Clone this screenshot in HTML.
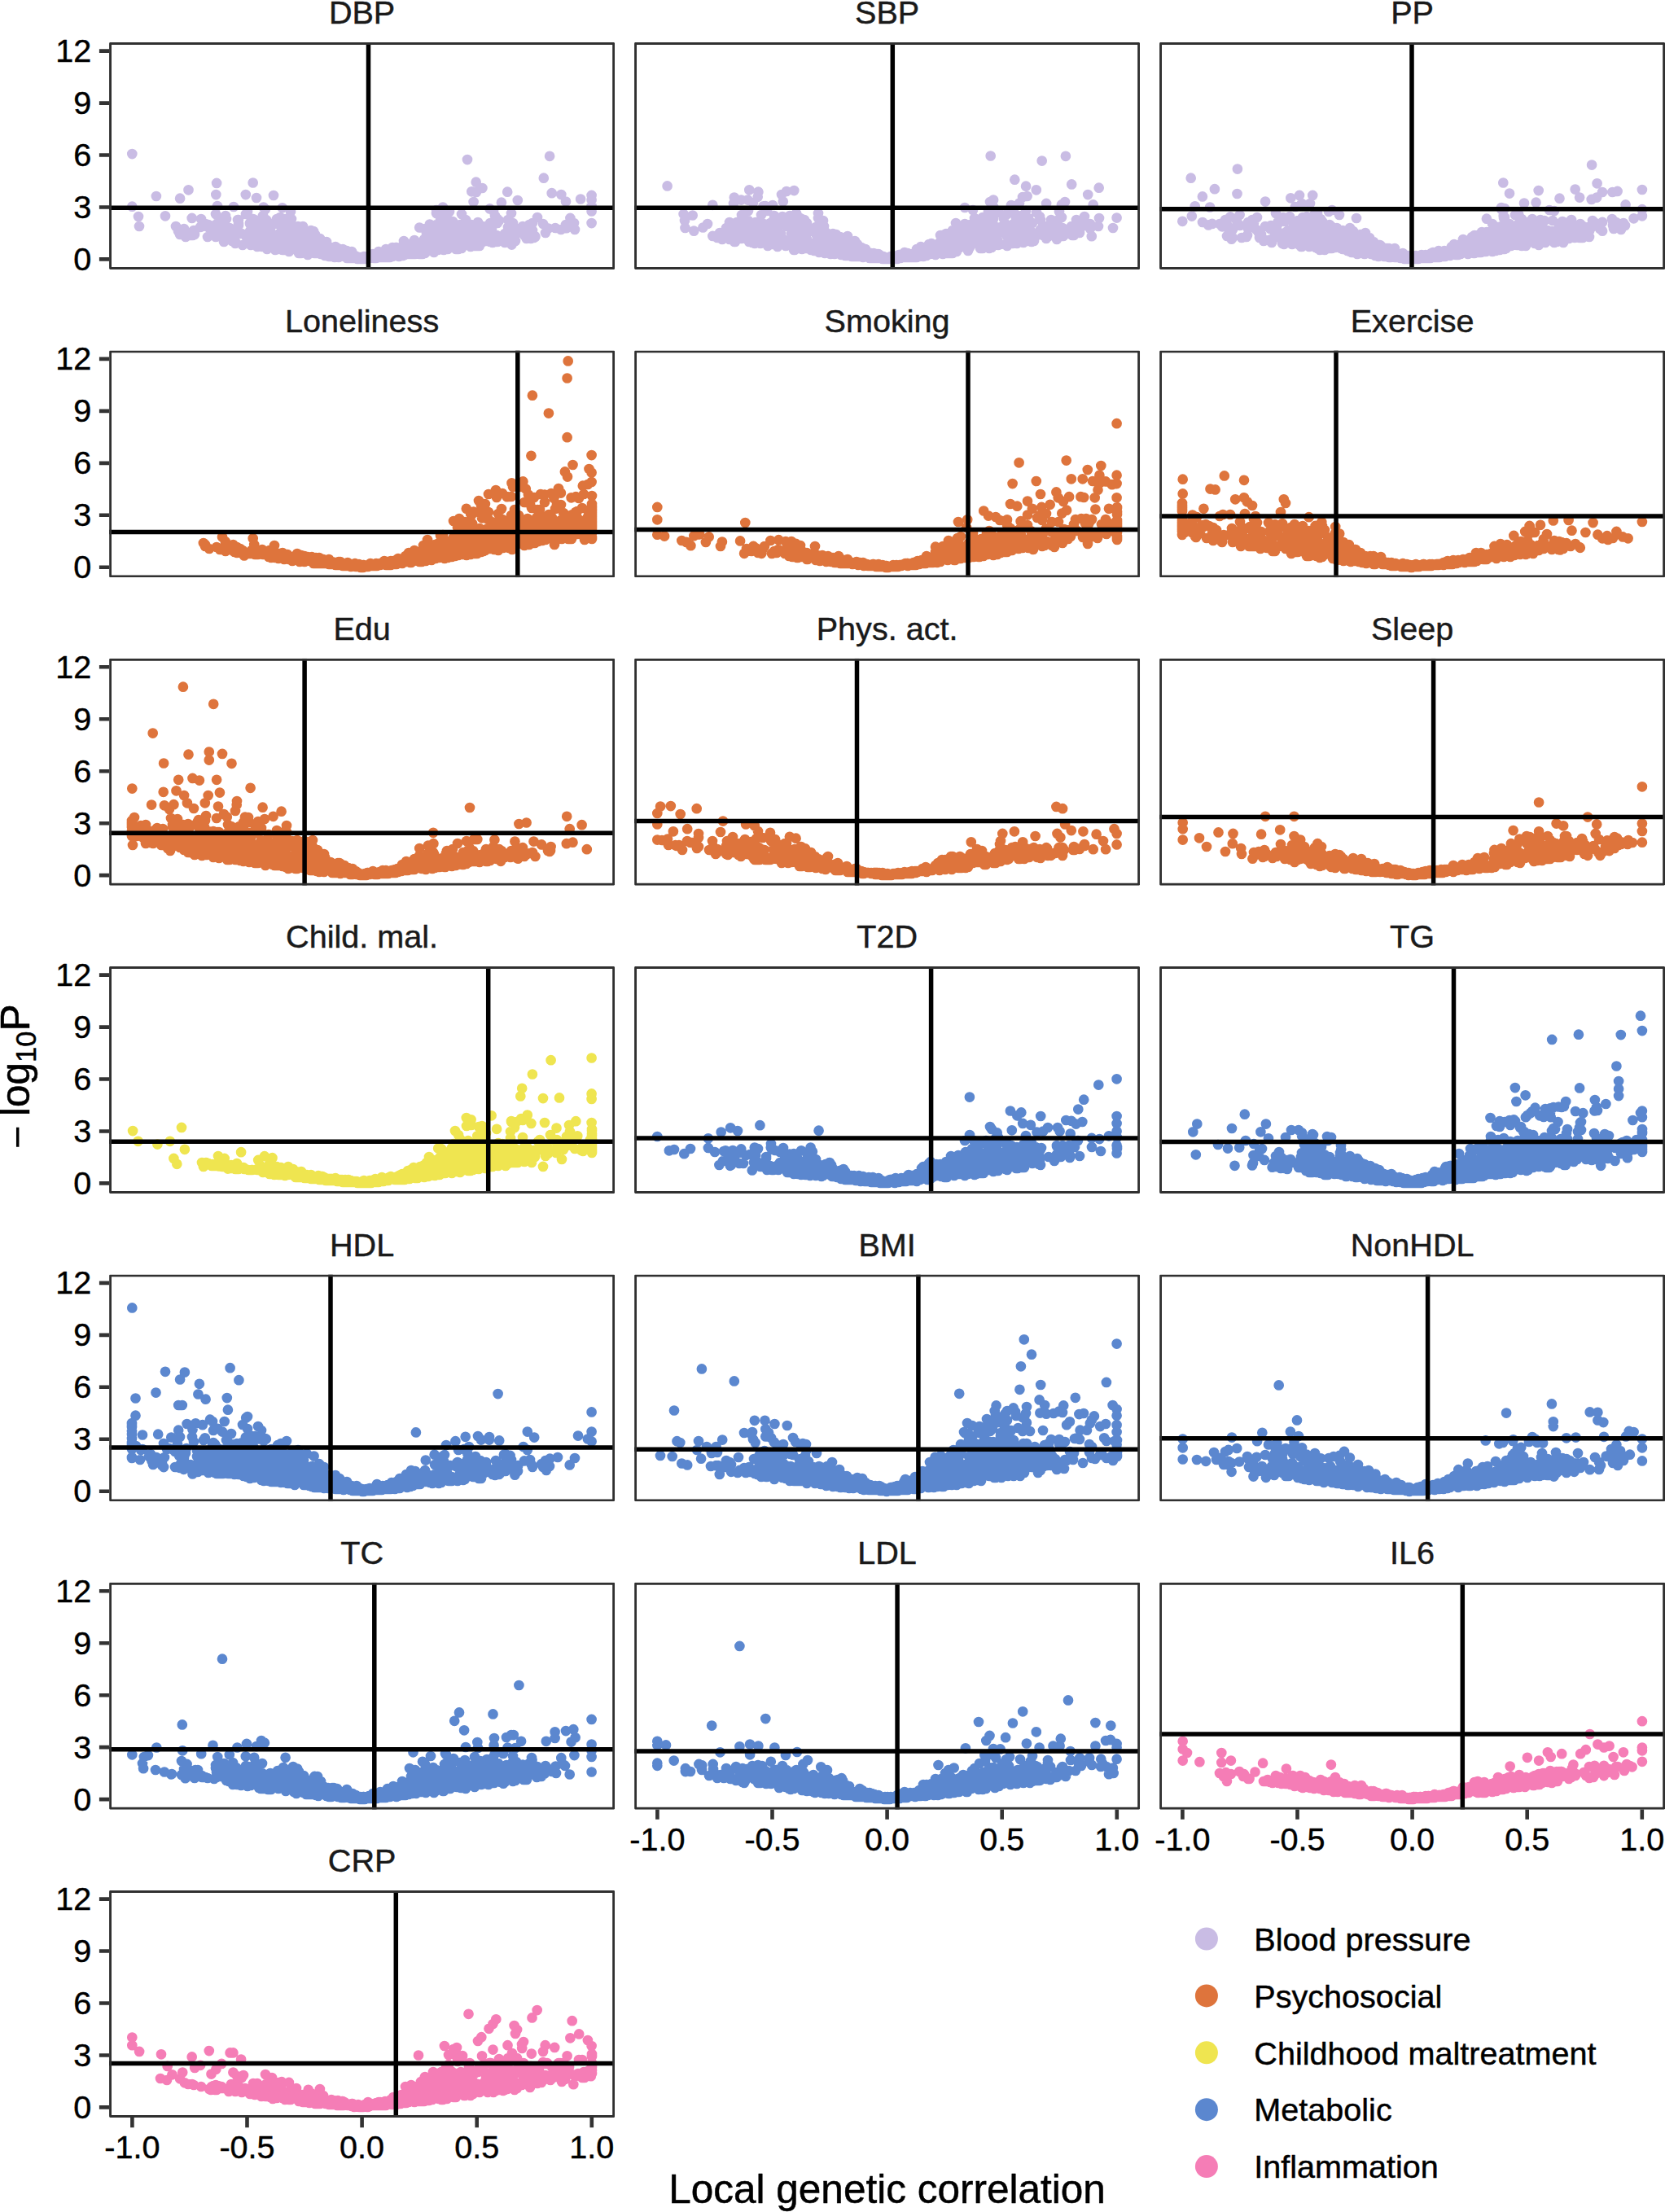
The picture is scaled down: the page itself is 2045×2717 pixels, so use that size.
<!DOCTYPE html>
<html><head><meta charset="utf-8"><title>Local genetic correlation</title><style>html,body{margin:0;padding:0;background:#fff}svg{display:block}</style></head><body>
<svg width="2045" height="2717" viewBox="0 0 2045 2717" font-family="'Liberation Sans', Arial, sans-serif" stroke-linejoin="round">
<rect width="2045" height="2717" fill="#fff"/>
<defs>
<clipPath id="c0"><rect x="134.1" y="52.1" width="621.0" height="278.9"/></clipPath>
<clipPath id="c1"><rect x="779.1" y="52.1" width="621.0" height="278.9"/></clipPath>
<clipPath id="c2"><rect x="1424.1" y="52.1" width="621.0" height="278.9"/></clipPath>
<clipPath id="c3"><rect x="134.1" y="430.4" width="621.0" height="278.9"/></clipPath>
<clipPath id="c4"><rect x="779.1" y="430.4" width="621.0" height="278.9"/></clipPath>
<clipPath id="c5"><rect x="1424.1" y="430.4" width="621.0" height="278.9"/></clipPath>
<clipPath id="c6"><rect x="134.1" y="808.8" width="621.0" height="278.9"/></clipPath>
<clipPath id="c7"><rect x="779.1" y="808.8" width="621.0" height="278.9"/></clipPath>
<clipPath id="c8"><rect x="1424.1" y="808.8" width="621.0" height="278.9"/></clipPath>
<clipPath id="c9"><rect x="134.1" y="1187.1" width="621.0" height="278.9"/></clipPath>
<clipPath id="c10"><rect x="779.1" y="1187.1" width="621.0" height="278.9"/></clipPath>
<clipPath id="c11"><rect x="1424.1" y="1187.1" width="621.0" height="278.9"/></clipPath>
<clipPath id="c12"><rect x="134.1" y="1565.4" width="621.0" height="278.9"/></clipPath>
<clipPath id="c13"><rect x="779.1" y="1565.4" width="621.0" height="278.9"/></clipPath>
<clipPath id="c14"><rect x="1424.1" y="1565.4" width="621.0" height="278.9"/></clipPath>
<clipPath id="c15"><rect x="134.1" y="1943.8" width="621.0" height="278.9"/></clipPath>
<clipPath id="c16"><rect x="779.1" y="1943.8" width="621.0" height="278.9"/></clipPath>
<clipPath id="c17"><rect x="1424.1" y="1943.8" width="621.0" height="278.9"/></clipPath>
<clipPath id="c18"><rect x="134.1" y="2322.1" width="621.0" height="278.9"/></clipPath>
</defs>
<g clip-path="url(#c0)">
<path d="M563 279h0M477 313h0M377 289h0M263 288h0M644 289h0M477 310h0M545 286h0M598 289h0M508 310h0M340 299h0M656 292h0M376 294h0M488 311h0M472 314h0M478 312h0M457 315h0M695 276h0M447 318h0M537 280h0M444 317h0M705 274h0M651 288h0M412 305h0M389 310h0M575 299h0M548 296h0M509 309h0M417 310h0M411 306h0M315 243h0M487 304h0M289 284h0M372 308h0M497 304h0M228 291h0M563 287h0M283 293h0M454 315h0M461 313h0M355 309h0M626 287h0M395 312h0M448 317h0M577 299h0M497 312h0M410 314h0M297 287h0M626 284h0M475 314h0M472 313h0M477 308h0M323 265h0M465 314h0M466 314h0M472 311h0M338 307h0M515 305h0M281 281h0M390 301h0M302 263h0M529 295h0M447 315h0M436 314h0M284 290h0M428 310h0M354 273h0M382 299h0M413 313h0M514 310h0M543 287h0M400 303h0M502 301h0M450 318h0M502 312h0M391 311h0M592 291h0M499 299h0M341 303h0M470 314h0M529 303h0M541 270h0M427 312h0M374 291h0M484 305h0M522 298h0M449 318h0M338 292h0M483 312h0M533 310h0M601 279h0M689 282h0M404 304h0M551 286h0M508 308h0M643 284h0M449 318h0M574 300h0M448 316h0M377 302h0M630 274h0M376 298h0M385 287h0M275 296h0M171 278h0M395 305h0M371 307h0M521 308h0M227 288h0M589 302h0M555 299h0M598 294h0M536 262h0M497 307h0M535 300h0M583 282h0M571 281h0M371 291h0M624 270h0M682 280h0M510 312h0M483 314h0M483 311h0M507 307h0M596 291h0M384 310h0M415 310h0M387 293h0M519 304h0M255 291h0M416 311h0M416 315h0M412 310h0M468 310h0M362 292h0M589 294h0M407 315h0M628 289h0M610 289h0M397 306h0M404 303h0M485 307h0M414 312h0M303 292h0M375 291h0M339 272h0M421 313h0M588 300h0M436 315h0M265 291h0M536 258h0M575 282h0M585 296h0M421 306h0M380 305h0M642 278h0M408 311h0M465 309h0M654 274h0M570 294h0M589 292h0M604 282h0M516 307h0M390 311h0M340 269h0M528 307h0M470 311h0M290 286h0M576 280h0M294 286h0M567 263h0M549 275h0M652 293h0M373 302h0M246 279h0M452 317h0M611 297h0M620 287h0M399 314h0M412 313h0M631 287h0M556 272h0M614 293h0M552 297h0M449 317h0M318 283h0M453 315h0M293 277h0M542 280h0M515 305h0M472 314h0M400 309h0M521 294h0M426 308h0M429 315h0M482 315h0M482 313h0M352 276h0M524 289h0M338 303h0M547 288h0M377 298h0M445 317h0M509 301h0M430 317h0M443 318h0M292 270h0M539 302h0M429 310h0M463 316h0M345 278h0M499 302h0M276 295h0M336 302h0M508 306h0M512 310h0M449 316h0M354 272h0M633 296h0M289 297h0M361 302h0M545 307h0M539 294h0M475 315h0M454 317h0M397 304h0M327 270h0M493 305h0M415 305h0M539 276h0M327 273h0M417 312h0M486 314h0M427 313h0M249 278h0M459 317h0M293 275h0M232 287h0M352 289h0M337 304h0M523 310h0M512 310h0M545 291h0M547 295h0M624 289h0M431 317h0M578 303h0M493 307h0M494 310h0M332 300h0M581 297h0M522 311h0M482 309h0M377 294h0M366 292h0M508 300h0M554 275h0M548 279h0M233 289h0M590 288h0M452 316h0M351 307h0M521 300h0M538 302h0M608 265h0M433 317h0M482 304h0M640 280h0M423 313h0M311 289h0M524 300h0M557 291h0M466 315h0M435 315h0M357 303h0M624 279h0M589 290h0M265 263h0M319 275h0M430 314h0M473 313h0M482 307h0M389 307h0M337 295h0M280 288h0M579 296h0M484 314h0M401 307h0M547 279h0M548 300h0M442 316h0M541 300h0M562 300h0M419 308h0M238 283h0M515 306h0M371 306h0M348 298h0M343 291h0M471 316h0M219 284h0M549 303h0M429 310h0M382 283h0M521 296h0M660 267h0M400 309h0M490 315h0M389 311h0M450 317h0M429 313h0M532 279h0M364 307h0M458 316h0M216 278h0M550 306h0M401 297h0M427 317h0M371 305h0M333 286h0M355 295h0M428 316h0M586 302h0M498 310h0M409 313h0M323 303h0M511 302h0M538 307h0M559 299h0M313 270h0M304 260h0M477 313h0M585 236h0M517 307h0M647 281h0M631 291h0M541 285h0M316 303h0M413 306h0M509 295h0M531 289h0M512 304h0M580 301h0M577 300h0M527 298h0M414 314h0M332 280h0M423 310h0M344 306h0M443 317h0M366 290h0M323 288h0M602 297h0M453 316h0M542 304h0M569 292h0M475 313h0M454 317h0M537 296h0M326 287h0M397 306h0M565 276h0M551 302h0M291 288h0M600 283h0M368 281h0M468 315h0M351 275h0M285 296h0M579 276h0M518 304h0M276 286h0M536 276h0M521 296h0M599 286h0M626 280h0M606 290h0M396 305h0M464 316h0M577 287h0M366 278h0M537 298h0M438 317h0M386 309h0M265 276h0M474 306h0M667 275h0M307 284h0M495 314h0M522 281h0M489 305h0M561 298h0M459 313h0M405 307h0M358 280h0M508 304h0M405 314h0M563 306h0M472 316h0M356 303h0M446 318h0M273 282h0M286 284h0M439 318h0M475 315h0M651 283h0M239 288h0M386 311h0M358 291h0M404 309h0M319 292h0M308 301h0M357 260h0M326 292h0M479 316h0M431 315h0M602 274h0M585 280h0M531 295h0M528 281h0M432 309h0M465 313h0M479 314h0M611 269h0M367 311h0M478 314h0M628 262h0M505 300h0M481 306h0M375 283h0M422 311h0M449 317h0M307 274h0M387 311h0M440 317h0M496 296h0M625 291h0M237 289h0M430 313h0M282 280h0M496 309h0M328 306h0M380 285h0M461 316h0M538 283h0M416 311h0M360 294h0M378 310h0M426 314h0M521 300h0M584 287h0M657 290h0M602 281h0M629 283h0M438 315h0M411 316h0M440 317h0M411 313h0M465 314h0M476 307h0M284 291h0M699 277h0M530 293h0M362 294h0M516 309h0M649 291h0M440 316h0M347 293h0M465 312h0M409 304h0M503 311h0M317 283h0M539 299h0M344 267h0M519 309h0M270 284h0M567 305h0M315 295h0M513 302h0M436 317h0M372 295h0M472 310h0M612 292h0M448 318h0M593 278h0M571 294h0M398 306h0M544 295h0M523 308h0M437 317h0M547 271h0M527 290h0M288 283h0M570 293h0M423 315h0M588 294h0M590 297h0M421 314h0M342 297h0M368 282h0M547 284h0M404 307h0M584 302h0M399 312h0M328 277h0M558 301h0M437 315h0M519 312h0M532 305h0M321 300h0M519 299h0M266 281h0M479 312h0M596 289h0M349 269h0M497 311h0M592 291h0M568 301h0M311 297h0M466 311h0M314 279h0M394 312h0M456 316h0M564 277h0M613 295h0M431 314h0M389 307h0M360 283h0M324 270h0M492 308h0M326 282h0M468 311h0M402 306h0M274 272h0M367 297h0M406 314h0M314 277h0M373 299h0M456 316h0M470 315h0M289 299h0M318 292h0M440 316h0M307 275h0M432 317h0M548 298h0M466 316h0M380 308h0M471 312h0M277 265h0M432 311h0M524 298h0M352 286h0M590 288h0M496 302h0M256 276h0M549 272h0M385 284h0M507 311h0M605 298h0M482 314h0M354 289h0M452 315h0M650 276h0M434 314h0M275 297h0M573 280h0M605 295h0M326 303h0M308 294h0M469 316h0M497 313h0M550 292h0M475 313h0M269 270h0M446 317h0M545 291h0M573 280h0M557 295h0M393 293h0M484 313h0M560 302h0M587 273h0M394 308h0M267 253h0M487 310h0M392 302h0M347 307h0M375 309h0M432 313h0M287 254h0M344 272h0M308 295h0M483 314h0M221 288h0M366 281h0M316 290h0M287 297h0M557 284h0M298 301h0M577 299h0M371 290h0M428 313h0M404 312h0M579 278h0M575 284h0M426 317h0M338 294h0M482 313h0M515 312h0M407 309h0M359 280h0M620 298h0M460 312h0M378 313h0M387 288h0M522 311h0M492 313h0M531 305h0M372 278h0M400 300h0M367 297h0M425 313h0M501 302h0M492 304h0M378 303h0M473 310h0M558 304h0M549 293h0M352 303h0M247 269h0M319 283h0M476 316h0M264 279h0M278 269h0M564 283h0M409 311h0M430 310h0M260 282h0M337 275h0M269 286h0M558 302h0M355 295h0M564 295h0M454 315h0M555 290h0M363 287h0M404 315h0M477 312h0M372 293h0M370 311h0M601 281h0M252 275h0M442 316h0M526 288h0M391 299h0M605 294h0M426 314h0M572 286h0M606 259h0M512 311h0M631 280h0M448 317h0M554 300h0M397 304h0M358 269h0M348 299h0M396 299h0M416 316h0M616 295h0M447 318h0M572 270h0M537 291h0M354 305h0M445 317h0M506 312h0M344 287h0M443 317h0M333 295h0M556 291h0M435 316h0M365 287h0M257 280h0M474 315h0M600 294h0M553 288h0M571 295h0M444 317h0M368 289h0M553 292h0M596 296h0M326 257h0M533 299h0M580 298h0M458 315h0M468 314h0M412 303h0M635 286h0M486 304h0M481 315h0M463 312h0M438 315h0M226 281h0M337 305h0M392 308h0M420 307h0M487 313h0M477 307h0M574 288h0M324 275h0M446 317h0M469 316h0M516 305h0M357 301h0M451 318h0M326 279h0M478 316h0M487 311h0M611 274h0M495 304h0M311 269h0M450 317h0M510 298h0M510 304h0M623 294h0M431 313h0M450 317h0M526 294h0M349 305h0M456 315h0M460 317h0M632 292h0M402 305h0M293 270h0M344 273h0M524 287h0M336 240h0M371 297h0M706 282h0M447 318h0M362 299h0M394 307h0M269 271h0M568 280h0M351 269h0M322 303h0M506 312h0M471 312h0M343 287h0M422 307h0M575 292h0M458 312h0M396 304h0M454 316h0M389 303h0M269 290h0M310 269h0M531 308h0M414 312h0M494 307h0M579 292h0M462 317h0M288 292h0M545 259h0M477 314h0M516 306h0M238 288h0M654 283h0M542 304h0M351 289h0M464 313h0M376 310h0M398 312h0M584 293h0M404 311h0M593 297h0M451 317h0M462 312h0M331 300h0M670 286h0M560 306h0M567 301h0M493 304h0M397 307h0M343 288h0M373 310h0M613 271h0M550 270h0M431 315h0M533 300h0M354 294h0M552 260h0M472 316h0M584 287h0M470 316h0M557 285h0M434 313h0M631 294h0M489 314h0M448 317h0M277 281h0M162.3 189.1h0M162.3 253.7h0M170.0 266.0h0M191.9 241.0h0M221.1 243.7h0M231.5 233.3h0M266.1 224.9h0M265.3 239.1h0M310.7 224.5h0M301.8 239.1h0M346.8 255.3h0M323.7 254.5h0M203.0 265.3h0M235.7 267.9h0M574.0 196.1h0M675.1 191.8h0M667.8 218.7h0M584.7 223.7h0M592.4 231.0h0M579.3 235.3h0M623.2 235.7h0M635.8 246.0h0M677.7 237.2h0M689.3 239.1h0M695.0 247.6h0M713.1 244.5h0M726.6 239.9h0M726.6 245.6h0M726.6 252.6h0M726.6 259.5h0M726.6 274.1h0M581.6 248.0h0M615.9 248.7h0M544.0 254.5h0M601.6 256.4h0M700.4 267.9h0M695.8 280.2h0M673.5 280.6h0M657.4 291.0h0M646.6 292.9h0M628.5 300.6h0M515.2 279.5h0M527.8 275.6h0" fill="none" stroke="#C9BCE4" stroke-width="12.7" stroke-linecap="round"/>
<path d="M134.2 255.2h620.8M452.5 52.2v278.7" stroke="#000" stroke-width="5.5" fill="none"/>
<rect x="135.55" y="53.55" width="618.10" height="276.00" fill="none" stroke="#303030" stroke-width="2.9"/>
</g>
<text x="444.6" y="29.3" font-size="39.6" text-anchor="middle" fill="#1a1a1a" stroke="#1a1a1a" stroke-width=".45">DBP</text>
<path d="M121.9 318.4H134.2M121.9 254.5H134.2M121.9 190.5H134.2M121.9 126.6H134.2M121.9 62.6H134.2" stroke="#333" stroke-width="4.6" fill="none"/>
<text x="112.3" y="331.9" font-size="39.6" text-anchor="end" fill="#000" stroke="#000" stroke-width=".45">0</text>
<text x="112.3" y="268.0" font-size="39.6" text-anchor="end" fill="#000" stroke="#000" stroke-width=".45">3</text>
<text x="112.3" y="204.0" font-size="39.6" text-anchor="end" fill="#000" stroke="#000" stroke-width=".45">6</text>
<text x="112.3" y="140.1" font-size="39.6" text-anchor="end" fill="#000" stroke="#000" stroke-width=".45">9</text>
<text x="112.3" y="76.1" font-size="39.6" text-anchor="end" fill="#000" stroke="#000" stroke-width=".45">12</text>
<g clip-path="url(#c1)">
<path d="M1273 261h0M1049 308h0M1197 294h0M1126 306h0M1026 300h0M1260 259h0M1234 281h0M1051 315h0M1299 275h0M1001 298h0M1205 295h0M1157 289h0M1086 317h0M902 297h0M1246 262h0M1120 314h0M1060 316h0M1048 308h0M1147 311h0M1045 307h0M1098 318h0M1053 311h0M921 283h0M1011 294h0M1221 278h0M1211 281h0M1153 302h0M1086 318h0M1295 289h0M1220 269h0M1009 283h0M1118 315h0M1282 284h0M1197 268h0M1053 303h0M1086 317h0M1102 314h0M1249 299h0M1170 300h0M1062 315h0M1083 317h0M942 259h0M1093 317h0M1003 280h0M943 302h0M942 290h0M997 281h0M1164 298h0M983 284h0M1118 315h0M1130 310h0M1291 270h0M1082 314h0M1193 297h0M906 292h0M1145 304h0M1308 285h0M916 292h0M1252 288h0M973 283h0M1155 289h0M896 273h0M925 293h0M963 300h0M1249 275h0M1196 278h0M1151 309h0M1146 307h0M1026 300h0M1105 314h0M1090 318h0M1278 270h0M1081 316h0M1182 283h0M1049 304h0M1262 280h0M1226 286h0M1331 273h0M1002 300h0M1234 278h0M1088 317h0M1099 317h0M1110 314h0M942 284h0M1239 286h0M1131 311h0M949 300h0M1179 300h0M953 296h0M1057 314h0M1153 305h0M1084 316h0M927 290h0M1137 308h0M1052 313h0M1057 313h0M976 307h0M985 306h0M1334 277h0M1131 308h0M1125 315h0M1195 275h0M1057 315h0M972 293h0M1132 312h0M1065 315h0M1064 312h0M940 289h0M1070 314h0M919 295h0M1249 279h0M1054 312h0M1170 283h0M1125 315h0M1076 312h0M1042 311h0M903 288h0M1148 304h0M946 295h0M1005 268h0M1284 279h0M1055 314h0M1050 310h0M1161 307h0M1018 307h0M1052 312h0M1031 311h0M1163 306h0M934 285h0M1056 306h0M1350 268h0M1143 307h0M1088 318h0M1025 312h0M893 285h0M1253 292h0M1259 273h0M1306 290h0M1089 318h0M1127 313h0M1025 291h0M1215 303h0M1123 311h0M1027 300h0M1027 288h0M1048 299h0M1154 310h0M1191 304h0M948 293h0M1264 289h0M1184 293h0M1205 288h0M990 292h0M967 278h0M1177 301h0M1270 296h0M1045 314h0M946 295h0M1038 304h0M1219 286h0M1213 265h0M1005 262h0M972 275h0M1094 315h0M1036 295h0M1225 285h0M1084 317h0M1002 287h0M1073 315h0M1000 308h0M1166 304h0M1298 271h0M1132 313h0M1006 309h0M1208 282h0M1051 310h0M940 253h0M972 276h0M1053 300h0M1218 304h0M1002 279h0M1196 280h0M937 294h0M1220 284h0M1170 299h0M940 298h0M912 268h0M1011 289h0M983 272h0M1146 306h0M1086 317h0M1120 315h0M1023 289h0M1306 283h0M947 298h0M1151 304h0M1106 317h0M1326 286h0M1281 277h0M1089 318h0M1079 312h0M1048 308h0M980 305h0M1158 300h0M1242 293h0M1088 317h0M1257 298h0M1009 282h0M1017 306h0M1281 277h0M1258 294h0M1100 315h0M1113 313h0M1047 302h0M900 290h0M1054 315h0M1316 278h0M1098 316h0M1206 278h0M975 307h0M1177 294h0M1126 316h0M1319 289h0M1033 305h0M1085 316h0M1018 305h0M1178 287h0M929 295h0M1176 305h0M1218 304h0M1010 282h0M1049 304h0M1044 296h0M1237 302h0M973 276h0M1256 282h0M943 287h0M908 289h0M1208 274h0M927 282h0M1118 312h0M1102 318h0M1241 277h0M1155 305h0M1311 287h0M1158 312h0M1040 308h0M1269 293h0M935 264h0M1158 299h0M951 270h0M983 301h0M1058 309h0M1096 316h0M920 297h0M1065 314h0M1108 314h0M1021 292h0M1065 312h0M1195 279h0M987 281h0M1032 311h0M1020 293h0M1010 281h0M908 290h0M1283 285h0M1099 318h0M1038 301h0M1239 291h0M892 280h0M949 252h0M887 294h0M902 283h0M841 271h0M1132 312h0M1171 301h0M1047 305h0M1263 268h0M1185 255h0M1321 285h0M1190 293h0M1103 317h0M922 293h0M956 284h0M1038 314h0M964 298h0M1142 303h0M930 274h0M1110 314h0M1050 304h0M1057 313h0M935 291h0M1171 307h0M1189 303h0M1035 310h0M1055 310h0M1162 311h0M962 298h0M1134 314h0M1043 314h0M1164 308h0M1141 303h0M1033 311h0M1021 310h0M1060 313h0M1027 298h0M1187 299h0M1199 283h0M1094 317h0M1006 310h0M1093 316h0M1186 288h0M1111 310h0M881 292h0M940 286h0M1058 307h0M1221 284h0M1072 315h0M1137 305h0M1117 315h0M936 275h0M1088 317h0M1073 317h0M1082 317h0M1254 275h0M1028 306h0M1304 267h0M1087 316h0M1089 317h0M1169 303h0M1088 318h0M924 286h0M1116 312h0M940 294h0M1264 296h0M1032 307h0M1266 296h0M1102 316h0M1195 284h0M1098 315h0M995 301h0M1349 278h0M1141 306h0M1080 317h0M1271 292h0M1114 313h0M1065 313h0M991 284h0M1040 309h0M1208 296h0M975 302h0M1084 318h0M1144 311h0M1078 315h0M1063 307h0M908 286h0M1210 294h0M932 295h0M1074 317h0M938 275h0M1033 296h0M1195 258h0M1261 290h0M911 293h0M1029 301h0M1160 303h0M1053 310h0M1320 277h0M966 235h0M965 270h0M1175 305h0M1162 287h0M1268 274h0M933 272h0M883 291h0M960 239h0M1260 266h0M1074 313h0M1073 311h0M1018 302h0M989 305h0M955 303h0M1184 297h0M913 279h0M1180 302h0M1096 317h0M983 268h0M1003 300h0M913 290h0M1221 282h0M1128 310h0M1177 301h0M1109 316h0M924 298h0M1168 311h0M1243 288h0M1016 308h0M1060 312h0M1329 278h0M1135 314h0M961 266h0M980 296h0M1013 289h0M1263 283h0M1207 304h0M884 286h0M1116 316h0M991 274h0M1010 302h0M1105 316h0M988 270h0M1159 304h0M909 282h0M903 297h0M1025 311h0M943 292h0M1227 261h0M1191 276h0M1116 314h0M1177 289h0M869 275h0M1006 307h0M1102 314h0M1205 282h0M1126 309h0M1039 300h0M1011 271h0M1229 279h0M1114 314h0M1226 301h0M948 283h0M1204 290h0M930 294h0M1046 306h0M1063 315h0M927 299h0M1264 294h0M1068 317h0M927 294h0M1161 310h0M1041 314h0M1129 312h0M1152 301h0M1296 279h0M1121 312h0M1144 302h0M1285 283h0M1037 309h0M1040 313h0M1169 293h0M1144 301h0M1039 296h0M1267 297h0M1305 280h0M1339 275h0M1163 310h0M1216 299h0M1249 293h0M1129 307h0M1251 276h0M1113 312h0M1037 295h0M1102 316h0M975 295h0M1298 294h0M975 276h0M1040 310h0M959 292h0M1216 291h0M1181 297h0M1223 296h0M1260 290h0M1196 290h0M1129 311h0M1163 311h0M1225 295h0M974 279h0M1003 289h0M1122 316h0M1088 317h0M1267 294h0M1039 296h0M930 298h0M1023 287h0M982 286h0M1071 313h0M949 272h0M1137 313h0M1059 310h0M1002 305h0M1242 252h0M1322 270h0M1159 307h0M950 282h0M1104 313h0M1164 300h0M1085 317h0M978 262h0M1045 305h0M1246 287h0M911 264h0M919 259h0M1163 306h0M1215 305h0M1135 308h0M1249 297h0M1100 317h0M1147 307h0M1073 315h0M1200 281h0M906 293h0M1060 313h0M1050 312h0M951 265h0M1089 317h0M1181 302h0M969 267h0M1339 281h0M991 287h0M1249 266h0M888 291h0M1099 315h0M925 249h0M1026 300h0M1205 289h0M1132 312h0M1244 299h0M1092 318h0M951 293h0M934 299h0M1105 313h0M1258 295h0M1317 289h0M1184 283h0M930 276h0M981 296h0M1140 312h0M1125 313h0M1254 289h0M1090 318h0M1020 312h0M956 269h0M1184 287h0M1252 283h0M1175 291h0M975 307h0M1135 308h0M1248 269h0M1089 318h0M910 279h0M1018 309h0M1149 308h0M959 291h0M1046 309h0M1308 248h0M961 293h0M1075 316h0M1146 307h0M996 307h0M1207 274h0M980 266h0M1129 315h0M908 278h0M1367 280h0M1105 315h0M1006 280h0M963 297h0M911 277h0M1017 295h0M1221 292h0M1010 284h0M1270 291h0M1332 266h0M1120 312h0M955 298h0M1043 309h0M1166 309h0M1054 308h0M1147 308h0M1161 306h0M978 274h0M1026 309h0M1149 306h0M1099 316h0M1098 315h0M957 297h0M1250 298h0M901 250h0M1184 292h0M1026 298h0M1191 285h0M1033 313h0M1205 289h0M1136 313h0M1288 279h0M1170 293h0M1247 295h0M1047 306h0M1165 299h0M1160 310h0M994 282h0M1189 297h0M1110 315h0M1257 286h0M1099 317h0M1233 269h0M1032 309h0M1047 308h0M1114 314h0M931 294h0M1075 312h0M1244 297h0M1149 313h0M1267 285h0M1259 286h0M948 276h0M1013 308h0M1179 304h0M1078 314h0M1200 286h0M1089 317h0M989 292h0M1023 311h0M1115 315h0M1243 276h0M892 289h0M1099 317h0M1115 311h0M1255 296h0M920 276h0M1063 306h0M1168 298h0M992 298h0M1151 307h0M1013 309h0M1106 315h0M1112 316h0M950 295h0M1111 313h0M1094 318h0M997 301h0M879 290h0M1197 296h0M1081 317h0M1094 318h0M1053 315h0M1051 303h0M1118 316h0M1114 314h0M1048 312h0M1123 313h0M1049 313h0M1077 312h0M1050 296h0M896 294h0M928 273h0M1254 265h0M1087 318h0M965 302h0M1141 304h0M1220 254h0M1047 315h0M1069 317h0M1257 284h0M1263 294h0M1214 260h0M1082 317h0M1047 298h0M924 297h0M1170 311h0M990 294h0M1187 287h0M1229 300h0M1095 317h0M1131 303h0M1139 308h0M1015 286h0M1030 295h0M1032 291h0M1144 299h0M1226 284h0M1181 295h0M1135 309h0M940 296h0M1054 306h0M1080 313h0M1160 293h0M1211 267h0M1087 318h0M1207 278h0M1082 316h0M1009 273h0M946 274h0M1028 294h0M1083 317h0M1179 304h0M1234 276h0M1068 315h0M1032 294h0M1104 316h0M1054 310h0M1008 300h0M1183 293h0M1013 311h0M1175 309h0M1147 312h0M1035 296h0M1204 305h0M1035 307h0M1219 277h0M1149 305h0M943 300h0M1083 316h0M989 281h0M1089 317h0M921 284h0M938 298h0M1107 315h0M1169 300h0M977 269h0M1114 313h0M1168 304h0M1220 276h0M1076 316h0M1330 277h0M1307 285h0M1211 276h0M1046 315h0M978 295h0M991 294h0M1257 291h0M920 278h0M1070 311h0M1219 264h0M997 282h0M959 287h0M1009 300h0M1167 305h0M1138 314h0M941 291h0M971 277h0M1126 315h0M1110 316h0M1173 283h0M1003 308h0M1107 314h0M1213 279h0M1287 291h0M1186 293h0M1237 263h0M992 279h0M1091 318h0M1301 285h0M1134 315h0M970 265h0M1058 304h0M986 295h0M1214 267h0M972 287h0M1076 315h0M1092 316h0M1097 316h0M1219 289h0M915 270h0M985 293h0M991 301h0M1079 317h0M1256 242h0M1175 304h0M1078 313h0M1041 290h0M1207 267h0M1145 311h0M1166 309h0M1245 285h0M919 271h0M1207 305h0M1321 285h0M1095 316h0M933 292h0M945 282h0M1253 268h0M983 303h0M1192 302h0M1185 275h0M1064 310h0M1002 300h0M955 300h0M1024 310h0M1142 312h0M1216 248h0M1090 318h0M956 301h0M1213 282h0M1097 316h0M1078 317h0M1179 297h0M908 280h0M983 296h0M905 273h0M1012 278h0M1085 315h0M985 294h0M906 276h0M936 282h0M1047 305h0M1077 314h0M982 286h0M1092 318h0M1141 300h0M1044 314h0M1103 314h0M987 283h0M1051 312h0M1056 307h0M1155 307h0M1194 295h0M1035 310h0M1154 298h0M1011 308h0M1238 297h0M959 275h0M1128 311h0M1005 287h0M1036 303h0M1057 311h0M987 280h0M1104 317h0M1247 298h0M1301 260h0M949 289h0M937 298h0M1058 313h0M1278 282h0M1174 274h0M1046 301h0M1281 289h0M1242 283h0M1064 315h0M1277 266h0M1209 291h0M1165 311h0M1189 308h0M1268 286h0M1172 292h0M1153 309h0M1084 318h0M1285 293h0M1019 308h0M1236 289h0M819.6 228.4h0M920.3 233.3h0M931.4 235.7h0M975.3 234.1h0M901.8 242.6h0M910.3 245.6h0M918.4 245.6h0M930.7 241.8h0M961.8 247.6h0M875.3 251.8h0M937.6 253.3h0M1216.7 191.5h0M1279.7 197.6h0M1308.9 191.8h0M1246.3 220.7h0M1260.1 228.7h0M1272.8 233.3h0M1316.2 226.4h0M1349.7 230.7h0M1336.2 239.1h0M1261.6 241.0h0M1220.1 245.6h0M1252.0 249.5h0M1285.1 249.9h0M1303.9 251.4h0M1342.7 251.4h0M1371.6 267.6h0M1340.8 290.2h0M1317.0 286.4h0M1317.0 278.7h0M1293.5 286.4h0M841.5 279.9h0M852.3 283.7h0M863.4 279.5h0M875.3 289.9h0M839.6 262.9h0M850.7 264.5h0" fill="none" stroke="#C9BCE4" stroke-width="12.7" stroke-linecap="round"/>
<path d="M779.2 255.3h620.8M1096.3 52.2v278.7" stroke="#000" stroke-width="5.5" fill="none"/>
<rect x="780.55" y="53.55" width="618.10" height="276.00" fill="none" stroke="#303030" stroke-width="2.9"/>
</g>
<text x="1089.6" y="29.3" font-size="39.6" text-anchor="middle" fill="#1a1a1a" stroke="#1a1a1a" stroke-width=".45">SBP</text>
<g clip-path="url(#c2)">
<path d="M1618 301h0M1769 312h0M1858 288h0M1672 310h0M1804 304h0M1728 317h0M1889 279h0M1762 314h0M1981 272h0M1652 290h0M1594 289h0M1689 311h0M1840 298h0M1753 315h0M1906 292h0M1985 278h0M1905 295h0M1619 292h0M1770 315h0M1819 310h0M1903 293h0M1612 295h0M1778 311h0M1563 279h0M1825 309h0M1765 315h0M1603 295h0M1597 296h0M1748 316h0M1738 317h0M1753 316h0M1950 285h0M1952 284h0M1671 305h0M1576 299h0M1670 309h0M1854 278h0M1660 305h0M1610 269h0M1775 309h0M1806 305h0M1624 292h0M1566 288h0M1620 283h0M1649 283h0M1694 301h0M1761 311h0M1900 296h0M1690 314h0M1786 300h0M1796 303h0M1666 305h0M1758 316h0M1958 273h0M1994 274h0M1716 313h0M1858 287h0M1685 309h0M1849 278h0M1700 315h0M1839 301h0M1578 269h0M1635 284h0M1784 310h0M1642 292h0M1672 305h0M1800 302h0M1671 308h0M1679 307h0M1857 299h0M1599 303h0M1552 296h0M1861 264h0M1894 296h0M1801 305h0M1783 305h0M1889 293h0M1750 314h0M1597 290h0M1699 312h0M1721 315h0M1870 285h0M1778 308h0M1570 291h0M1794 312h0M1866 266h0M1581 284h0M1903 294h0M1570 291h0M1806 301h0M1696 303h0M1741 315h0M1625 304h0M1624 277h0M1667 309h0M1847 295h0M1864 288h0M1844 255h0M1686 312h0M1687 311h0M1723 317h0M1616 304h0M1703 315h0M1756 314h0M1670 291h0M1621 292h0M1583 283h0M1725 316h0M1750 315h0M1675 299h0M1505 270h0M1731 316h0M1926 282h0M1767 312h0M1733 317h0M1725 317h0M1683 306h0M1771 314h0M1632 304h0M1890 282h0M1725 318h0M1797 310h0M1569 284h0M1696 312h0M1614 297h0M1629 290h0M1788 312h0M1794 310h0M1785 304h0M1682 292h0M1872 274h0M1840 287h0M1773 313h0M1699 314h0M1823 304h0M1660 310h0M1649 306h0M1543 282h0M1825 293h0M1618 262h0M1684 312h0M1734 317h0M1733 318h0M1848 268h0M1606 292h0M1782 313h0M1747 316h0M1645 264h0M1676 312h0M1705 314h0M1600 267h0M1561 277h0M1616 302h0M1708 308h0M1872 279h0M1671 311h0M1857 297h0M1884 276h0M1645 292h0M1858 301h0M1730 317h0M1747 315h0M1839 302h0M1737 318h0M1788 313h0M1612 300h0M1569 276h0M1867 301h0M1750 317h0M1561 294h0M1832 285h0M1832 296h0M1656 303h0M1810 300h0M1931 275h0M1769 315h0M1882 278h0M1594 297h0M1585 270h0M1696 314h0M1605 299h0M1982 281h0M1622 269h0M1739 318h0M1576 267h0M1555 295h0M1830 295h0M1797 305h0M1704 306h0M1861 279h0M1820 285h0M1748 315h0M1836 303h0M1781 311h0M1581 289h0M1655 290h0M1752 315h0M1674 301h0M1760 315h0M1796 305h0M1675 303h0M1772 314h0M1667 312h0M1801 300h0M1514 282h0M1940 292h0M1751 316h0M1699 308h0M1720 316h0M1620 294h0M1903 295h0M1735 316h0M1739 314h0M1601 270h0M1740 318h0M1662 284h0M1724 315h0M1810 311h0M1816 310h0M1654 301h0M1737 316h0M1885 297h0M1771 313h0M1660 297h0M1618 296h0M1623 292h0M1690 314h0M1618 305h0M1842 279h0M1924 289h0M1980 269h0M1810 300h0M1742 318h0M1848 291h0M1720 314h0M1549 288h0M1941 275h0M1590 283h0M1562 296h0M1831 298h0M1754 317h0M1785 303h0M1787 311h0M1722 317h0M1574 294h0M1752 316h0M1960 275h0M1751 313h0M1879 288h0M1885 281h0M1807 306h0M1637 287h0M1914 287h0M1853 291h0M1845 281h0M1575 299h0M1881 296h0M1785 306h0M1776 313h0M1588 298h0M1842 289h0M1829 285h0M1660 295h0M1609 299h0M1803 302h0M1633 305h0M1714 311h0M1823 296h0M1739 318h0M1837 304h0M1623 294h0M1871 294h0M1760 313h0M1752 314h0M1595 275h0M1759 316h0M1706 313h0M1899 295h0M1611 298h0M1756 314h0M1727 317h0M1922 285h0M1876 297h0M1737 318h0M1876 295h0M1761 313h0M1599 299h0M1589 275h0M1709 315h0M1906 294h0M1831 296h0M1894 277h0M1924 291h0M1826 291h0M1706 305h0M1660 304h0M1839 303h0M1848 305h0M1927 293h0M1786 311h0M1880 285h0M1662 302h0M1666 268h0M1726 317h0M1614 297h0M1871 299h0M1853 296h0M1897 271h0M1624 306h0M1793 309h0M1540 274h0M1591 254h0M1752 315h0M1814 304h0M1792 305h0M1596 301h0M1682 296h0M1740 318h0M1507 290h0M1768 309h0M1740 317h0M1759 311h0M1991 282h0M1725 315h0M1937 286h0M1768 311h0M1725 316h0M1635 301h0M1856 299h0M1678 299h0M1665 310h0M1700 305h0M1743 315h0M1695 301h0M1841 298h0M1641 292h0M1647 299h0M1781 311h0M1533 273h0M1692 307h0M1861 286h0M1914 287h0M1799 309h0M1632 260h0M1693 315h0M1716 316h0M1871 285h0M1654 299h0M1826 304h0M1719 316h0M1815 300h0M1798 309h0M1890 301h0M1801 310h0M1655 308h0M1718 316h0M1712 315h0M1625 285h0M1897 271h0M1635 297h0M1674 310h0M1946 281h0M1792 304h0M1865 266h0M1511 280h0M1793 305h0M1708 312h0M1930 278h0M1881 290h0M1782 307h0M1916 289h0M1826 308h0M1591 287h0M1772 310h0M1923 289h0M1609 250h0M1776 314h0M1574 289h0M1715 316h0M1825 299h0M1719 316h0M1921 273h0M1681 301h0M1852 280h0M1544 267h0M1700 305h0M1889 298h0M1814 289h0M1834 284h0M1713 311h0M1772 311h0M1800 306h0M1723 316h0M1778 310h0M1756 315h0M1704 305h0M1747 316h0M1758 311h0M1778 311h0M1820 305h0M1808 291h0M1894 281h0M1937 284h0M1507 276h0M1811 305h0M1870 292h0M1764 315h0M1611 297h0M1938 291h0M1834 283h0M1677 288h0M1674 305h0M1578 286h0M1679 297h0M1728 317h0M1662 304h0M1582 286h0M1639 288h0M1560 281h0M1706 313h0M1777 310h0M1868 286h0M1867 285h0M1687 310h0M1769 312h0M1787 307h0M1613 289h0M1786 309h0M1725 315h0M1761 313h0M1889 282h0M1661 295h0M1584 266h0M1733 316h0M1566 277h0M1930 281h0M1863 296h0M1633 276h0M1728 318h0M1909 298h0M1532 289h0M1828 298h0M1713 316h0M1605 298h0M1884 281h0M1797 306h0M1708 316h0M1638 299h0M1887 283h0M1614 264h0M1780 312h0M1785 309h0M1682 304h0M1938 284h0M1943 277h0M1854 291h0M1637 287h0M1985 273h0M1899 297h0M1929 284h0M1885 299h0M1757 317h0M1592 277h0M1706 316h0M1720 314h0M1760 310h0M1836 307h0M1833 309h0M1689 306h0M1837 306h0M1635 278h0M1723 311h0M1858 285h0M1794 304h0M1547 292h0M1903 258h0M1848 256h0M1737 318h0M1720 317h0M1816 310h0M1562 298h0M1703 315h0M1702 305h0M1892 270h0M1653 298h0M1600 279h0M1767 313h0M1690 305h0M1598 303h0M1765 314h0M1748 315h0M1774 309h0M1810 310h0M1804 307h0M1869 269h0M1662 291h0M1616 302h0M1729 314h0M1642 280h0M1653 293h0M1795 299h0M1637 291h0M1875 287h0M1760 316h0M1817 295h0M1742 316h0M1941 279h0M1770 309h0M1855 295h0M1853 294h0M1685 310h0M1627 307h0M1747 317h0M1729 318h0M1842 286h0M1695 312h0M1746 313h0M1597 284h0M1694 313h0M1665 307h0M1691 305h0M1923 276h0M1855 285h0M1730 315h0M1707 315h0M1658 303h0M1713 316h0M1939 290h0M1636 258h0M1863 301h0M1775 312h0M1906 284h0M1824 307h0M1636 299h0M1933 287h0M1919 272h0M1598 301h0M1691 311h0M1588 284h0M1741 317h0M1894 287h0M1832 302h0M1797 300h0M1725 316h0M1617 275h0M1605 286h0M1750 316h0M1689 314h0M1850 305h0M1826 285h0M1825 309h0M1630 279h0M1787 305h0M1794 306h0M1798 303h0M1748 317h0M1766 312h0M1815 305h0M1950 279h0M1538 270h0M1653 293h0M1846 281h0M1766 315h0M1624 272h0M1649 291h0M1811 289h0M1712 310h0M1838 302h0M1926 286h0M1702 315h0M1860 292h0M1725 317h0M1837 300h0M1705 313h0M1605 266h0M1677 286h0M1791 313h0M1927 276h0M1681 311h0M1745 315h0M1906 285h0M1811 311h0M1661 307h0M1779 309h0M1706 314h0M1580 296h0M1722 317h0M1956 271h0M1797 294h0M1783 304h0M1771 314h0M1886 299h0M1713 314h0M1554 278h0M1701 305h0M1523 277h0M1751 315h0M1894 283h0M1696 311h0M1733 317h0M1855 301h0M1837 308h0M1656 286h0M1954 280h0M1814 304h0M1606 280h0M1621 304h0M1636 293h0M1929 288h0M1832 294h0M1941 283h0M1868 296h0M1747 316h0M1874 302h0M1666 301h0M1791 305h0M1800 299h0M1840 279h0M1871 300h0M1902 294h0M1597 275h0M1525 292h0M1718 315h0M1829 293h0M1695 313h0M1946 284h0M1930 270h0M1773 315h0M1879 280h0M1815 296h0M1674 307h0M1848 283h0M1818 290h0M1862 295h0M1582 284h0M1667 312h0M1739 316h0M1832 308h0M1925 287h0M1531 291h0M1625 277h0M1738 318h0M1695 306h0M1671 309h0M1725 317h0M1748 317h0M1849 282h0M1828 292h0M1736 317h0M1679 311h0M1735 318h0M1807 298h0M1879 293h0M1682 304h0M1656 293h0M1587 300h0M1577 300h0M1751 313h0M1638 288h0M1944 292h0M1743 317h0M1825 307h0M1865 263h0M1591 295h0M1715 311h0M1996 277h0M1629 278h0M1578 272h0M1651 299h0M1705 312h0M1901 283h0M1912 297h0M1709 309h0M1767 315h0M1705 308h0M1849 302h0M1756 316h0M1742 316h0M1847 268h0M1764 316h0M1786 305h0M1667 310h0M1683 308h0M1797 306h0M1583 293h0M1870 295h0M1779 311h0M1658 280h0M1848 306h0M1709 312h0M1647 305h0M1828 308h0M1864 276h0M1611 302h0M1608 303h0M1831 288h0M1918 275h0M1843 304h0M1803 297h0M1610 300h0M1630 293h0M1630 301h0M1869 302h0M1981 277h0M1615 289h0M1715 312h0M1890 292h0M1937 281h0M1732 318h0M1514 292h0M1808 293h0M1843 291h0M1612 277h0M1832 304h0M1649 285h0M1568 282h0M1812 310h0M1602 298h0M1742 316h0M1868 289h0M1789 303h0M1664 297h0M1844 278h0M1696 302h0M1670 302h0M1849 292h0M1661 297h0M1671 295h0M1707 312h0M1546 286h0M1789 310h0M1608 277h0M1687 297h0M1833 275h0M1601 297h0M1694 302h0M1867 293h0M1775 315h0M1567 278h0M1653 303h0M1814 301h0M1829 304h0M1519 271h0M1701 315h0M1721 316h0M1734 318h0M1801 310h0M1861 280h0M1965 281h0M1801 296h0M1699 311h0M1862 291h0M1912 297h0M1746 316h0M1708 315h0M1783 303h0M1628 282h0M1768 316h0M1756 317h0M1848 267h0M1589 277h0M1567 262h0M1706 316h0M1728 315h0M1757 317h0M1882 269h0M1498 275h0M1917 283h0M1876 273h0M1952 291h0M1669 304h0M1831 293h0M1815 301h0M1774 308h0M1643 293h0M1767 314h0M1799 304h0M1860 286h0M1767 308h0M1744 316h0M1909 259h0M1728 316h0M1803 307h0M1834 297h0M1798 310h0M1756 317h0M1672 308h0M1621 307h0M1858 301h0M1822 295h0M1789 309h0M1907 271h0M1842 307h0M1898 298h0M1844 257h0M1713 305h0M1812 291h0M1831 295h0M1711 310h0M1667 298h0M1732 318h0M1582 298h0M1701 315h0M1840 279h0M1776 311h0M1848 303h0M1706 309h0M1940 291h0M1781 314h0M1856 302h0M1590 281h0M1667 296h0M1562 278h0M1533 281h0M1640 304h0M1889 298h0M1708 312h0M1570 272h0M1576 296h0M1792 305h0M1797 305h0M1694 302h0M1946 289h0M1477 273h0M1638 288h0M1760 313h0M1658 309h0M1854 275h0M1601 292h0M1698 311h0M1800 296h0M1599 250h0M1642 289h0M1690 306h0M1782 308h0M1737 315h0M1934 285h0M1914 281h0M1729 316h0M1636 305h0M1671 288h0M1803 312h0M1594 271h0M1569 291h0M1657 300h0M1766 312h0M1934 292h0M1684 307h0M1584 297h0M1844 302h0M1462.7 218.7h0M1519.9 207.6h0M1491.9 232.2h0M1476.9 241.4h0M1519.5 238.0h0M1467.7 253.3h0M1486.1 254.5h0M1585.3 243.3h0M1596.0 239.9h0M1612.2 239.9h0M1554.1 247.6h0M1452.3 271.8h0M1463.8 265.6h0M1484.2 276.4h0M1488.8 274.9h0M1501.1 278.3h0M1508.0 279.9h0M1512.6 293.7h0M1511.1 266.4h0M1522.6 264.1h0M1955.1 202.6h0M1846.3 224.5h0M1854.0 237.6h0M1889.7 234.1h0M1934.7 232.6h0M1961.6 225.3h0M1968.1 236.0h0M1980.4 236.0h0M1986.6 234.9h0M2016.9 233.0h0M1915.5 243.7h0M1940.1 242.6h0M1954.7 244.9h0M1961.2 242.6h0M1872.0 249.5h0M1886.6 248.7h0M1996.6 251.4h0M2016.9 257.2h0M2016.9 265.3h0M2006.6 268.3h0M1982.7 274.5h0M1968.1 283.7h0M1968.1 272.9h0M1920.1 297.9h0M1825.9 268.7h0M1846.7 265.3h0" fill="none" stroke="#C9BCE4" stroke-width="12.7" stroke-linecap="round"/>
<path d="M1424.2 256.8h620.8M1734.0 52.2v278.7" stroke="#000" stroke-width="5.5" fill="none"/>
<rect x="1425.55" y="53.55" width="618.10" height="276.00" fill="none" stroke="#303030" stroke-width="2.9"/>
</g>
<text x="1734.6" y="29.3" font-size="39.6" text-anchor="middle" fill="#1a1a1a" stroke="#1a1a1a" stroke-width=".45">PP</text>
<g clip-path="url(#c3)">
<path d="M480 694h0M443 696h0M424 694h0M656 656h0M655 666h0M381 687h0M470 693h0M592 663h0M604 669h0M523 689h0M537 674h0M616 625h0M523 684h0M699 659h0M478 693h0M386 690h0M456 695h0M346 685h0M681 653h0M588 615h0M431 696h0M327 681h0M652 659h0M501 688h0M437 696h0M513 678h0M414 691h0M358 684h0M306 680h0M279 673h0M579 633h0M486 690h0M457 694h0M530 683h0M583 680h0M451 696h0M395 689h0M595 674h0M467 692h0M651 660h0M547 683h0M713 648h0M423 695h0M394 690h0M412 694h0M709 643h0M598 650h0M573 651h0M490 689h0M408 690h0M303 679h0M636 634h0M532 671h0M718 663h0M295 674h0M654 663h0M415 694h0M717 607h0M408 693h0M444 696h0M532 684h0M549 674h0M415 691h0M611 641h0M674 658h0M364 687h0M419 694h0M625 673h0M349 687h0M597 666h0M616 650h0M670 663h0M556 664h0M500 690h0M374 690h0M462 695h0M409 691h0M548 682h0M313 681h0M622 666h0M719 660h0M405 693h0M589 671h0M669 617h0M443 696h0M676 637h0M612 667h0M621 666h0M457 695h0M605 667h0M633 659h0M670 648h0M563 682h0M377 689h0M587 678h0M511 683h0M663 626h0M493 691h0M576 679h0M556 668h0M395 692h0M613 644h0M529 685h0M552 672h0M520 689h0M317 681h0M388 692h0M546 684h0M515 685h0M516 682h0M440 695h0M565 680h0M524 673h0M546 686h0M579 670h0M710 645h0M609 602h0M580 678h0M603 674h0M462 692h0M622 671h0M456 695h0M594 677h0M442 696h0M637 661h0M493 690h0M678 636h0M635 658h0M689 639h0M624 667h0M498 685h0M427 693h0M672 660h0M342 686h0M699 662h0M413 694h0M572 664h0M547 678h0M601 658h0M405 692h0M503 690h0M568 667h0M635 660h0M569 678h0M596 668h0M459 695h0M516 690h0M580 643h0M494 691h0M634 653h0M653 660h0M291 679h0M522 678h0M444 695h0M584 654h0M674 632h0M470 693h0M489 687h0M519 683h0M544 657h0M538 678h0M541 681h0M643 648h0M486 692h0M548 683h0M427 691h0M499 688h0M531 684h0M694 650h0M619 661h0M458 695h0M685 643h0M637 665h0M659 636h0M622 672h0M405 691h0M482 693h0M385 692h0M587 666h0M627 645h0M455 692h0M557 660h0M337 684h0M523 687h0M317 676h0M430 695h0M586 651h0M691 654h0M639 652h0M594 663h0M513 682h0M387 692h0M654 652h0M617 646h0M600 638h0M446 697h0M541 684h0M476 690h0M494 689h0M589 666h0M599 649h0M485 693h0M611 668h0M437 696h0M668 635h0M545 683h0M385 691h0M462 694h0M538 669h0M482 691h0M589 661h0M558 675h0M529 676h0M612 676h0M447 695h0M451 696h0M655 644h0M515 690h0M681 669h0M701 653h0M624 645h0M337 670h0M478 692h0M636 668h0M423 694h0M707 654h0M288 678h0M661 665h0M478 691h0M542 674h0M546 674h0M347 683h0M584 658h0M571 669h0M674 653h0M495 688h0M710 654h0M338 685h0M709 639h0M692 645h0M539 685h0M684 654h0M467 692h0M525 687h0M468 693h0M686 648h0M417 691h0M364 685h0M291 676h0M569 667h0M622 662h0M514 689h0M413 694h0M672 656h0M690 639h0M361 687h0M383 684h0M586 657h0M500 682h0M374 683h0M578 681h0M672 657h0M470 693h0M572 676h0M628 671h0M566 668h0M513 686h0M574 653h0M413 693h0M641 662h0M459 695h0M462 694h0M446 696h0M650 648h0M598 637h0M436 692h0M690 647h0M566 643h0M472 689h0M513 689h0M506 689h0M445 695h0M609 655h0M609 655h0M642 664h0M525 663h0M714 645h0M583 671h0M360 688h0M404 692h0M501 690h0M563 681h0M401 692h0M550 685h0M723 647h0M597 651h0M589 666h0M466 694h0M397 687h0M564 637h0M540 670h0M611 658h0M722 595h0M532 671h0M361 687h0M619 665h0M332 684h0M431 695h0M646 642h0M707 650h0M428 695h0M462 695h0M689 620h0M566 673h0M655 639h0M653 624h0M384 688h0M585 680h0M650 669h0M593 666h0M583 658h0M518 690h0M509 688h0M586 678h0M385 690h0M622 666h0M557 680h0M367 683h0M541 658h0M513 685h0M415 694h0M580 650h0M552 677h0M715 624h0M416 690h0M565 653h0M371 684h0M688 646h0M610 669h0M629 669h0M499 683h0M644 617h0M349 687h0M454 694h0M399 691h0M461 694h0M506 687h0M370 689h0M595 671h0M628 649h0M504 691h0M594 675h0M478 693h0M558 677h0M389 690h0M709 636h0M400 691h0M535 685h0M410 693h0M392 688h0M568 668h0M709 628h0M463 695h0M630 637h0M712 639h0M553 665h0M330 684h0M503 685h0M538 677h0M501 690h0M501 689h0M549 684h0M346 683h0M600 652h0M540 683h0M378 684h0M360 685h0M476 694h0M506 690h0M698 662h0M633 652h0M545 665h0M617 641h0M555 672h0M511 680h0M424 695h0M678 659h0M443 697h0M333 685h0M644 670h0M526 687h0M600 629h0M364 684h0M640 655h0M470 693h0M477 691h0M391 687h0M337 683h0M471 690h0M392 691h0M519 686h0M504 687h0M506 683h0M541 673h0M585 659h0M377 686h0M640 598h0M433 695h0M488 687h0M599 661h0M718 645h0M412 692h0M676 632h0M422 694h0M568 665h0M542 664h0M452 695h0M529 681h0M349 685h0M543 668h0M562 668h0M550 680h0M514 678h0M487 691h0M386 686h0M513 687h0M467 693h0M446 696h0M701 655h0M682 656h0M333 680h0M432 694h0M706 639h0M252 669h0M414 691h0M707 629h0M657 665h0M456 695h0M564 681h0M524 674h0M524 686h0M315 681h0M514 679h0M691 641h0M348 683h0M395 690h0M722 635h0M677 651h0M606 672h0M571 641h0M528 685h0M519 682h0M705 644h0M719 644h0M404 693h0M624 669h0M617 638h0M450 695h0M528 678h0M677 606h0M252 671h0M596 657h0M292 673h0M654 656h0M586 676h0M351 685h0M298 676h0M437 695h0M604 647h0M627 639h0M431 695h0M564 670h0M501 683h0M681 647h0M516 684h0M427 693h0M519 686h0M678 660h0M422 692h0M613 659h0M439 696h0M586 680h0M670 652h0M615 660h0M478 692h0M690 662h0M663 653h0M641 667h0M698 640h0M536 683h0M702 662h0M395 692h0M571 676h0M420 693h0M539 667h0M343 680h0M638 656h0M476 694h0M584 672h0M546 681h0M643 664h0M331 676h0M599 674h0M613 656h0M407 691h0M587 677h0M489 689h0M482 693h0M615 667h0M322 675h0M518 686h0M431 695h0M608 674h0M565 641h0M441 693h0M415 694h0M470 693h0M483 689h0M656 643h0M424 694h0M612 645h0M266 672h0M365 682h0M651 619h0M634 647h0M549 677h0M589 661h0M608 673h0M681 663h0M566 674h0M550 673h0M570 654h0M596 676h0M367 687h0M560 676h0M368 690h0M587 652h0M412 691h0M409 693h0M418 690h0M562 648h0M275 673h0M323 681h0M640 646h0M660 626h0M643 653h0M433 694h0M373 689h0M604 641h0M495 686h0M587 677h0M510 688h0M363 685h0M586 656h0M531 679h0M517 682h0M376 689h0M539 667h0M671 646h0M667 654h0M576 663h0M575 679h0M549 683h0M391 690h0M606 645h0M546 671h0M695 645h0M612 659h0M291 672h0M568 679h0M399 692h0M388 685h0M448 696h0M355 686h0M520 683h0M538 681h0M567 681h0M523 684h0M419 691h0M557 682h0M418 692h0M615 649h0M449 696h0M575 666h0M422 695h0M356 686h0M359 687h0M669 648h0M599 666h0M517 690h0M639 593h0M686 600h0M568 678h0M436 695h0M646 638h0M692 661h0M613 664h0M661 663h0M591 676h0M454 694h0M415 694h0M292 678h0M415 693h0M509 676h0M657 667h0M500 688h0M712 647h0M567 679h0M622 656h0M631 673h0M666 664h0M452 696h0M288 678h0M651 664h0M681 653h0M384 686h0M399 692h0M410 692h0M535 686h0M420 693h0M611 651h0M597 663h0M549 685h0M607 667h0M629 648h0M551 680h0M673 658h0M380 686h0M638 645h0M696 657h0M573 682h0M609 642h0M565 656h0M722 627h0M600 607h0M640 664h0M572 659h0M690 639h0M480 689h0M472 693h0M495 690h0M496 687h0M317 681h0M632 626h0M597 672h0M647 659h0M389 689h0M520 687h0M629 675h0M604 656h0M675 647h0M558 673h0M705 632h0M643 667h0M473 693h0M681 643h0M694 660h0M530 688h0M389 691h0M557 640h0M683 644h0M609 603h0M715 653h0M646 666h0M473 693h0M557 676h0M520 670h0M460 695h0M462 694h0M365 680h0M629 662h0M564 673h0M466 693h0M661 653h0M421 695h0M555 684h0M585 660h0M425 693h0M640 660h0M700 657h0M628 669h0M535 680h0M640 660h0M707 650h0M644 659h0M409 692h0M703 632h0M667 645h0M552 678h0M568 666h0M683 653h0M355 687h0M581 667h0M439 695h0M569 681h0M502 679h0M583 679h0M608 654h0M365 685h0M370 685h0M548 673h0M610 611h0M593 660h0M284 674h0M626 653h0M618 673h0M498 683h0M522 682h0M595 622h0M487 692h0M533 685h0M270 675h0M644 643h0M573 670h0M494 688h0M555 680h0M694 635h0M628 610h0M392 685h0M614 669h0M462 695h0M559 678h0M404 687h0M708 635h0M307 680h0M682 625h0M559 683h0M540 684h0M618 668h0M605 674h0M722 646h0M534 669h0M681 653h0M564 666h0M310 680h0M545 662h0M652 652h0M674 653h0M630 668h0M487 693h0M677 660h0M573 665h0M403 689h0M389 692h0M487 693h0M692 630h0M277 677h0M630 598h0M684 649h0M665 663h0M578 631h0M556 679h0M369 684h0M452 695h0M372 685h0M592 658h0M650 653h0M552 673h0M544 673h0M524 686h0M597 671h0M559 673h0M496 690h0M489 686h0M370 682h0M684 620h0M463 695h0M406 693h0M587 661h0M361 687h0M505 691h0M579 656h0M458 694h0M309 676h0M624 647h0M637 666h0M596 673h0M551 684h0M467 694h0M448 696h0M438 696h0M674 648h0M544 685h0M584 655h0M711 612h0M423 695h0M608 660h0M321 679h0M628 633h0M356 687h0M589 649h0M438 696h0M695 651h0M415 693h0M459 694h0M447 694h0M586 680h0M336 678h0M659 651h0M594 661h0M556 670h0M384 690h0M487 692h0M589 660h0M653 659h0M359 689h0M659 661h0M694 632h0M568 660h0M553 672h0M494 692h0M388 689h0M588 675h0M637 633h0M591 678h0M474 694h0M607 675h0M297 676h0M377 689h0M636 650h0M626 671h0M648 637h0M576 657h0M650 665h0M295 678h0M479 691h0M501 685h0M325 678h0M660 648h0M656 611h0M644 655h0M502 690h0M454 693h0M586 656h0M588 629h0M347 679h0M576 663h0M351 684h0M448 696h0M614 669h0M664 607h0M626 671h0M612 631h0M570 667h0M600 651h0M556 678h0M636 658h0M666 652h0M391 692h0M580 677h0M257 674h0M560 678h0M709 656h0M636 656h0M461 694h0M702 636h0M517 688h0M353 681h0M446 694h0M610 670h0M727 634h0M727 632h0M727 630h0M727 639h0M727 643h0M727 653h0M727 648h0M727 660h0M727 646h0M727 645h0M727 619h0M727 652h0M727 639h0M727 649h0M727 643h0M727 637h0M727 645h0M727 639h0M727 619h0M727 624h0M727 662h0M727 635h0M727 647h0M727 662h0M727 661h0M727 623h0M727 626h0M727 642h0M727 628h0M727 641h0M727 609h0M727 639h0M727 655h0M727 622h0M727 627h0M727 628h0M697.7 443.4h0M696.6 464.5h0M653.9 485.7h0M673.9 507.6h0M696.6 537.2h0M652.4 559.8h0M726.6 559.1h0M703.5 571.0h0M693.9 579.4h0M697.0 585.6h0M723.5 576.0h0M726.6 580.6h0M726.6 592.1h0M715.8 596.7h0M642.4 591.4h0M628.5 593.3h0M617.0 606.0h0M622.8 610.2h0M645.8 600.6h0M648.9 607.5h0M655.5 611.3h0M668.9 607.5h0M680.4 612.1h0M688.9 605.6h0M701.6 611.3h0M707.3 610.2h0M595.9 619.0h0M590.9 620.2h0M572.8 624.8h0M581.6 628.6h0M592.0 636.3h0M249.9 667.1h0M273.0 659.4h0M276.8 665.2h0M286.4 669.0h0M274.1 672.8h0M286.4 676.7h0M293.4 678.6h0M299.9 682.5h0M310.7 661.3h0M312.2 669.0h0" fill="none" stroke="#DE743C" stroke-width="12.7" stroke-linecap="round"/>
<path d="M134.2 653.6h620.8M635.8 430.53v278.7" stroke="#000" stroke-width="5.5" fill="none"/>
<rect x="135.55" y="431.88" width="618.10" height="276.00" fill="none" stroke="#303030" stroke-width="2.9"/>
</g>
<text x="444.6" y="407.6" font-size="39.6" text-anchor="middle" fill="#1a1a1a" stroke="#1a1a1a" stroke-width=".45">Loneliness</text>
<path d="M121.9 696.8H134.2M121.9 632.8H134.2M121.9 568.9H134.2M121.9 504.9H134.2M121.9 440.9H134.2" stroke="#333" stroke-width="4.6" fill="none"/>
<text x="112.3" y="710.3" font-size="39.6" text-anchor="end" fill="#000" stroke="#000" stroke-width=".45">0</text>
<text x="112.3" y="646.3" font-size="39.6" text-anchor="end" fill="#000" stroke="#000" stroke-width=".45">3</text>
<text x="112.3" y="582.4" font-size="39.6" text-anchor="end" fill="#000" stroke="#000" stroke-width=".45">6</text>
<text x="112.3" y="518.4" font-size="39.6" text-anchor="end" fill="#000" stroke="#000" stroke-width=".45">9</text>
<text x="112.3" y="454.4" font-size="39.6" text-anchor="end" fill="#000" stroke="#000" stroke-width=".45">12</text>
<g clip-path="url(#c4)">
<path d="M1256 673h0M1210 673h0M1051 691h0M1010 684h0M1114 694h0M1229 679h0M1223 677h0M1127 693h0M1197 683h0M1251 652h0M974 679h0M1165 687h0M1229 658h0M1251 674h0M1052 691h0M1149 683h0M1110 693h0M1072 695h0M1242 667h0M1172 680h0M1172 674h0M1072 694h0M1212 680h0M969 681h0M1337 644h0M1154 688h0M1040 691h0M1142 687h0M1217 673h0M1251 669h0M1269 675h0M1232 676h0M1115 692h0M1084 695h0M1212 655h0M1142 691h0M1165 664h0M1266 660h0M1002 684h0M956 675h0M1066 695h0M1122 694h0M1084 694h0M1280 671h0M1140 688h0M1105 694h0M1114 692h0M1186 676h0M1146 691h0M1007 689h0M1153 687h0M1226 670h0M1231 664h0M1348 661h0M1124 692h0M1257 666h0M1198 672h0M979 685h0M1210 667h0M1353 644h0M1078 696h0M1122 691h0M1083 696h0M1220 668h0M1285 666h0M1070 694h0M1120 692h0M1240 659h0M1277 664h0M1341 638h0M1237 645h0M1219 676h0M1082 696h0M1073 693h0M1110 694h0M1223 668h0M1169 684h0M1135 691h0M1127 691h0M1190 667h0M1204 683h0M1172 686h0M1350 656h0M1291 653h0M1149 678h0M1093 696h0M1138 690h0M983 670h0M1155 683h0M1013 688h0M1261 666h0M1124 694h0M1065 693h0M1136 692h0M1073 695h0M1003 684h0M1158 682h0M1138 689h0M1067 695h0M1106 695h0M1093 696h0M1272 666h0M1105 695h0M1106 694h0M1068 694h0M1240 655h0M1195 674h0M1228 639h0M1088 695h0M1032 688h0M1054 694h0M1255 650h0M984 678h0M1354 649h0M1152 689h0M1199 675h0M1295 672h0M1248 661h0M1149 689h0M992 682h0M1176 661h0M1133 690h0M1212 681h0M1029 691h0M1125 691h0M1035 691h0M1313 651h0M1138 691h0M937 674h0M964 680h0M1202 664h0M1081 694h0M1280 639h0M1152 688h0M1174 673h0M1181 673h0M1243 676h0M1159 686h0M949 679h0M1254 657h0M1251 651h0M997 681h0M1191 676h0M1037 688h0M1147 685h0M1107 695h0M1257 664h0M1112 692h0M1342 659h0M1336 668h0M1202 670h0M1205 683h0M1020 688h0M1026 689h0M1076 696h0M1142 688h0M1123 692h0M1046 692h0M1266 652h0M1008 683h0M1103 696h0M1256 663h0M1323 652h0M1207 664h0M1119 693h0M1230 676h0M1312 662h0M917 674h0M1039 689h0M1114 693h0M1006 686h0M1101 695h0M1250 670h0M973 684h0M1022 690h0M954 679h0M1021 690h0M994 685h0M1201 676h0M1253 653h0M1047 693h0M1278 607h0M1336 654h0M1203 669h0M1168 687h0M1138 686h0M1184 685h0M1053 691h0M1147 687h0M1276 661h0M1241 671h0M996 684h0M1089 696h0M970 680h0M1040 691h0M1188 682h0M1229 676h0M1238 674h0M1006 684h0M1229 669h0M1133 692h0M1285 631h0M1304 655h0M1205 669h0M1047 692h0M951 677h0M1101 694h0M1202 684h0M1351 593h0M1124 693h0M923 675h0M1061 695h0M1333 643h0M1222 666h0M1205 670h0M1219 675h0M1147 689h0M1013 685h0M1266 672h0M1257 664h0M1032 692h0M1021 686h0M1169 672h0M1177 678h0M1330 660h0M1195 655h0M1235 678h0M973 680h0M1144 690h0M969 683h0M1003 685h0M1119 693h0M1123 691h0M1101 696h0M1169 672h0M1232 666h0M1249 657h0M1202 679h0M1225 681h0M991 679h0M1266 669h0M1176 662h0M1292 641h0M1099 696h0M1092 696h0M1089 696h0M1293 665h0M1125 694h0M1262 665h0M1215 664h0M1164 681h0M1237 656h0M1030 683h0M1239 672h0M1219 679h0M1173 688h0M1180 686h0M1092 696h0M1338 653h0M918 677h0M949 679h0M1211 659h0M1241 649h0M1253 650h0M1223 635h0M1302 657h0M1191 669h0M980 685h0M1141 687h0M1203 684h0M1114 692h0M1082 695h0M1150 680h0M1190 685h0M1356 648h0M1147 686h0M1042 691h0M1330 657h0M1062 694h0M1307 650h0M1010 686h0M1017 685h0M1361 642h0M1118 693h0M1119 694h0M1127 692h0M999 685h0M1262 668h0M1091 697h0M1093 696h0M1147 685h0M1249 665h0M1129 693h0M992 687h0M1218 668h0M1208 683h0M1315 659h0M1089 695h0M1202 682h0M1174 668h0M923 677h0M1036 691h0M1118 694h0M1301 658h0M1142 688h0M1241 664h0M1204 682h0M1151 678h0M1127 689h0M1132 688h0M1111 694h0M1127 692h0M1007 685h0M1089 696h0M1217 670h0M1079 693h0M1176 669h0M1068 695h0M1158 671h0M1000 679h0M1282 654h0M1208 680h0M1181 680h0M1188 673h0M1024 687h0M1255 665h0M1165 681h0M1007 688h0M1015 690h0M1029 690h0M1201 673h0M1087 696h0M1115 694h0M1297 665h0M1334 637h0M1185 679h0M1005 684h0M1109 694h0M1305 667h0M1025 691h0M1338 657h0M982 679h0M1306 616h0M1188 681h0M985 677h0M972 665h0M1232 678h0M1188 685h0M1359 656h0M1219 658h0M1017 683h0M1265 670h0M984 684h0M1020 686h0M1004 682h0M1173 687h0M1088 697h0M1195 683h0M1289 667h0M1043 691h0M939 671h0M1139 686h0M1262 665h0M1283 670h0M1213 681h0M1210 676h0M1111 694h0M1300 641h0M1199 666h0M1224 663h0M1116 694h0M1063 694h0M1197 683h0M973 677h0M1060 691h0M1023 685h0M1182 671h0M1163 678h0M1148 684h0M1266 673h0M993 682h0M1254 648h0M1217 677h0M1097 694h0M1096 696h0M1141 688h0M1110 694h0M1136 691h0M1176 686h0M1290 666h0M1002 688h0M1060 693h0M1210 663h0M1248 673h0M1371 656h0M1285 649h0M1001 671h0M1088 695h0M1034 692h0M1178 684h0M1061 694h0M1189 680h0M1042 692h0M1271 659h0M1026 687h0M1164 688h0M948 680h0M1130 692h0M1040 692h0M1145 685h0M999 683h0M973 681h0M1096 695h0M1224 678h0M1168 681h0M1138 683h0M1154 684h0M1222 673h0M1056 691h0M967 670h0M1263 673h0M1239 649h0M1229 679h0M1365 648h0M1221 680h0M1155 690h0M1065 693h0M1220 682h0M1078 695h0M1060 693h0M1051 692h0M1302 654h0M990 684h0M1017 689h0M1201 673h0M1298 664h0M1273 657h0M1267 670h0M1286 666h0M1201 667h0M1018 689h0M1122 693h0M1069 694h0M1317 652h0M995 684h0M1274 636h0M1262 645h0M965 665h0M1137 692h0M1052 690h0M1032 690h0M1127 691h0M1019 685h0M1303 663h0M1049 691h0M1151 691h0M1119 694h0M1036 692h0M1185 672h0M1164 684h0M1139 690h0M885 671h0M1110 694h0M1143 685h0M1193 666h0M1133 688h0M1241 674h0M1184 685h0M1072 693h0M1187 648h0M1055 692h0M1164 669h0M1227 678h0M1241 619h0M1010 682h0M1115 695h0M1096 695h0M1122 693h0M1177 641h0M1222 666h0M1258 666h0M1205 662h0M1288 666h0M1321 638h0M1066 695h0M1172 688h0M1010 686h0M1170 669h0M1203 674h0M1205 682h0M1218 672h0M1117 694h0M1137 685h0M1041 687h0M1132 689h0M1169 680h0M1235 661h0M1299 659h0M1342 591h0M1190 677h0M1319 644h0M1049 691h0M990 680h0M1124 693h0M1257 664h0M1052 693h0M1165 681h0M1292 670h0M1025 690h0M1273 665h0M1222 668h0M1120 692h0M931 679h0M1123 692h0M991 687h0M1263 666h0M1306 665h0M1077 695h0M1276 657h0M1180 659h0M1237 678h0M1359 648h0M1222 667h0M1149 689h0M1005 684h0M928 673h0M1286 665h0M1268 668h0M1230 660h0M1157 687h0M1196 684h0M1035 688h0M1202 679h0M1114 693h0M987 683h0M1067 695h0M1215 652h0M1358 638h0M1177 666h0M1157 676h0M1372 623h0M1372 632h0M1372 650h0M1372 661h0M1372 662h0M1372 639h0M1372 659h0M1372 644h0M1372 643h0M1372 629h0M1372 660h0M1372 624h0M1372 646h0M1372 651h0M1372 641h0M1372 663h0M1372 662h0M1372 647h0M1372 660h0M1372 654h0M1372 654h0M1372 647h0M1372 661h0M1372 650h0M1371.6 520.2h0M1251.6 568.3h0M1309.7 565.6h0M1335.8 577.1h0M1352.3 572.1h0M1371.6 583.7h0M1243.6 594.1h0M1272.8 591.0h0M1315.8 588.3h0M1329.7 588.3h0M1350.4 583.7h0M1358.1 591.4h0M1365.8 595.2h0M1371.6 594.1h0M1297.4 604.4h0M1299.7 611.3h0M1313.1 610.2h0M1327.4 610.2h0M1331.2 611.0h0M1344.7 611.3h0M1348.5 601.7h0M1371.6 611.3h0M1262.0 615.6h0M1249.3 621.7h0M1289.7 619.8h0M1279.3 622.9h0M1267.8 624.8h0M1208.2 627.5h0M1214.0 633.6h0M1188.2 638.3h0M1237.0 638.3h0M1253.6 640.2h0M1262.0 632.5h0M1277.4 632.5h0M1304.3 630.6h0M1310.1 626.7h0M1328.1 637.1h0M1338.9 640.2h0M1345.4 625.6h0M1362.0 624.8h0M807.3 622.9h0M807.3 638.3h0M807.3 656.7h0M816.1 658.6h0M915.3 642.1h0M837.3 664.0h0M843.0 665.9h0M848.4 670.2h0M852.3 658.2h0M859.2 656.3h0M870.7 659.4h0M866.9 665.9h0M886.9 665.5h0M909.1 664.4h0M914.1 679.8h0M925.3 670.9h0M935.3 679.8h0M946.4 664.0h0M956.4 663.2h0M977.6 667.9h0M1149.0 671.7h0" fill="none" stroke="#DE743C" stroke-width="12.7" stroke-linecap="round"/>
<path d="M779.2 650.6h620.8M1189.0 430.53v278.7" stroke="#000" stroke-width="5.5" fill="none"/>
<rect x="780.55" y="431.88" width="618.10" height="276.00" fill="none" stroke="#303030" stroke-width="2.9"/>
</g>
<text x="1089.6" y="407.6" font-size="39.6" text-anchor="middle" fill="#1a1a1a" stroke="#1a1a1a" stroke-width=".45">Smoking</text>
<g clip-path="url(#c5)">
<path d="M1748 693h0M1918 670h0M1546 663h0M1696 691h0M1659 690h0M1595 666h0M1866 670h0M1708 694h0M1737 696h0M1622 671h0M1714 692h0M1792 690h0M1592 655h0M1615 663h0M1636 673h0M1698 691h0M1678 684h0M1691 688h0M1732 694h0M1818 681h0M1792 690h0M1734 697h0M1826 687h0M1654 686h0M1645 685h0M1599 677h0M1787 691h0M1653 671h0M1653 683h0M1748 693h0M1644 675h0M1765 693h0M1737 695h0M1696 689h0M1749 693h0M1746 695h0M1640 675h0M1757 694h0M1600 663h0M1614 666h0M1714 694h0M1580 658h0M1729 696h0M1855 672h0M1852 675h0M1634 663h0M1575 643h0M1617 648h0M1768 693h0M1717 694h0M1710 692h0M1825 687h0M1494 654h0M1867 667h0M1689 693h0M1668 689h0M1787 689h0M1612 675h0M1879 648h0M1736 694h0M1838 686h0M1541 671h0M1570 657h0M1874 679h0M1545 671h0M1793 690h0M1470 635h0M1613 682h0M1619 676h0M1846 676h0M1632 670h0M1598 667h0M1482 661h0M1624 646h0M1859 679h0M1708 694h0M1494 651h0M1540 661h0M1615 670h0M1810 689h0M1591 665h0M1474 655h0M1918 666h0M1893 674h0M1741 696h0M1596 652h0M1726 694h0M1605 665h0M1756 693h0M1500 665h0M1792 689h0M1870 680h0M1827 686h0M1608 683h0M1539 655h0M1900 656h0M1679 685h0M1797 687h0M1890 676h0M1613 671h0M1935 668h0M1642 680h0M1742 694h0M1817 687h0M1711 695h0M1767 693h0M1872 669h0M1880 669h0M1661 687h0M1482 661h0M1676 687h0M1861 681h0M1485 646h0M1799 690h0M1624 679h0M1795 689h0M1678 692h0M1806 689h0M1754 694h0M1566 677h0M1585 648h0M1698 693h0M1816 683h0M1768 693h0M1753 695h0M1669 690h0M1904 672h0M1895 668h0M1599 650h0M1643 685h0M1712 695h0M1491 655h0M1737 694h0M1666 688h0M1728 693h0M1591 669h0M1929 671h0M1553 669h0M1866 671h0M1629 678h0M1876 664h0M1885 654h0M1650 688h0M1677 683h0M1836 683h0M1661 689h0M1607 663h0M1587 660h0M1542 634h0M1468 659h0M1731 694h0M1911 672h0M1759 693h0M1511 656h0M1817 686h0M1623 668h0M1661 679h0M1767 694h0M1613 672h0M1664 689h0M1794 690h0M1654 673h0M1537 666h0M1861 680h0M1720 695h0M1740 696h0M1733 697h0M1489 653h0M1610 668h0M1595 651h0M1552 670h0M1584 652h0M1784 689h0M1683 685h0M1743 696h0M1617 668h0M1883 680h0M1585 656h0M1792 691h0M1817 687h0M1759 693h0M1608 674h0M1694 687h0M1472 656h0M1916 667h0M1618 661h0M1501 666h0M1662 682h0M1724 693h0M1703 693h0M1756 694h0M1654 685h0M1773 691h0M1801 688h0M1889 670h0M1538 671h0M1842 681h0M1687 685h0M1549 653h0M1857 676h0M1879 655h0M1561 673h0M1585 667h0M1902 672h0M1864 670h0M1811 690h0M1696 691h0M1651 687h0M1732 696h0M1767 693h0M1706 694h0M1909 664h0M1699 690h0M1675 683h0M1587 674h0M1878 679h0M1688 689h0M1725 695h0M1902 671h0M1856 682h0M1481 644h0M1538 666h0M1724 696h0M1618 651h0M1669 684h0M1490 664h0M1819 679h0M1832 684h0M1642 688h0M1766 693h0M1454 650h0M1648 687h0M1610 676h0M1598 670h0M1658 676h0M1502 632h0M1823 687h0M1628 679h0M1675 691h0M1616 648h0M1656 685h0M1843 668h0M1845 682h0M1823 687h0M1876 680h0M1589 667h0M1915 665h0M1837 685h0M1561 662h0M1807 690h0M1687 693h0M1703 693h0M1470 653h0M1752 694h0M1494 658h0M1762 694h0M1700 693h0M1646 676h0M1777 693h0M1796 690h0M1710 694h0M1716 693h0M1780 692h0M1883 679h0M1750 695h0M1605 683h0M1603 661h0M1888 672h0M1822 687h0M1625 655h0M1773 694h0M1815 680h0M1842 675h0M1791 688h0M1613 673h0M1859 681h0M1767 693h0M1859 678h0M1606 675h0M1838 683h0M1781 693h0M1627 651h0M1803 690h0M1558 642h0M1526 654h0M1826 685h0M1468 650h0M1613 653h0M1503 657h0M1847 684h0M1621 675h0M1786 689h0M1809 689h0M1808 690h0M1593 662h0M1461 646h0M1665 687h0M1652 688h0M1597 660h0M1852 671h0M1810 689h0M1772 693h0M1767 693h0M1747 694h0M1592 660h0M1598 677h0M1673 685h0M1671 689h0M1639 664h0M1498 661h0M1657 686h0M1896 674h0M1529 667h0M1455 654h0M1559 653h0M1586 680h0M1766 694h0M1670 687h0M1869 671h0M1606 671h0M1514 666h0M1914 675h0M1714 692h0M1754 695h0M1842 681h0M1777 693h0M1672 681h0M1655 681h0M1650 667h0M1624 678h0M1913 673h0M1875 667h0M1687 683h0M1602 658h0M1689 692h0M1813 689h0M1609 662h0M1600 646h0M1657 687h0M1668 689h0M1861 679h0M1758 695h0M1698 691h0M1573 670h0M1616 677h0M1591 661h0M1860 682h0M1548 657h0M1571 671h0M1680 686h0M1617 657h0M1490 648h0M1658 677h0M1498 663h0M1818 685h0M1851 677h0M1667 685h0M1659 689h0M1834 683h0M1468 649h0M1618 683h0M1825 685h0M1898 672h0M1579 674h0M1573 629h0M1838 683h0M1648 674h0M1708 694h0M1805 685h0M1586 652h0M1910 669h0M1812 688h0M1513 649h0M1906 675h0M1736 696h0M1622 669h0M1809 687h0M1677 686h0M1799 691h0M1590 644h0M1688 686h0M1785 688h0M1630 678h0M1648 688h0M1624 684h0M1759 693h0M1862 670h0M1785 690h0M1868 679h0M1885 673h0M1663 680h0M1681 689h0M1668 678h0M1579 618h0M1666 687h0M1727 696h0M1772 692h0M1544 651h0M1523 641h0M1600 657h0M1650 684h0M1525 649h0M1655 681h0M1723 692h0M1887 675h0M1804 688h0M1884 671h0M1609 680h0M1826 681h0M1841 673h0M1550 671h0M1859 674h0M1830 681h0M1677 689h0M1760 694h0M1514 658h0M1674 689h0M1478 647h0M1701 691h0M1741 695h0M1650 689h0M1569 671h0M1683 691h0M1456 643h0M1641 676h0M1616 676h0M1836 684h0M1898 671h0M1476 645h0M1620 667h0M1739 696h0M1615 671h0M1700 690h0M1856 680h0M1783 692h0M1777 692h0M1665 675h0M1739 693h0M1673 691h0M1697 692h0M1696 684h0M1764 693h0M1727 696h0M1777 690h0M1737 695h0M1529 631h0M1594 678h0M1975 663h0M1619 681h0M1562 646h0M1642 686h0M1662 686h0M1640 655h0M1709 695h0M1606 677h0M1522 658h0M1601 676h0M1636 669h0M1524 671h0M1543 667h0M1748 695h0M1545 671h0M1556 673h0M1637 686h0M1699 691h0M1587 670h0M1556 670h0M1681 691h0M1709 691h0M1656 688h0M1743 696h0M1753 694h0M1896 662h0M1801 687h0M1585 650h0M1667 689h0M1875 679h0M1831 680h0M1670 688h0M1687 692h0M1513 659h0M1710 692h0M1683 683h0M1592 678h0M1719 694h0M1671 679h0M1838 679h0M1464 654h0M1686 689h0M1821 684h0M1647 669h0M1721 696h0M1789 692h0M1723 694h0M1621 685h0M1622 673h0M1676 689h0M1765 694h0M1544 666h0M1702 692h0M1602 669h0M1672 689h0M1548 674h0M1920 674h0M1830 683h0M1838 686h0M1568 648h0M1839 684h0M1631 660h0M1653 680h0M1667 684h0M1669 684h0M1469 660h0M1855 684h0M1673 690h0M1584 666h0M1630 677h0M1864 677h0M1598 664h0M1644 682h0M1593 668h0M1534 671h0M1590 663h0M1658 686h0M1590 644h0M1867 681h0M1675 685h0M1819 683h0M1786 689h0M1822 685h0M1723 693h0M1755 695h0M1562 666h0M1719 694h0M1742 694h0M1794 690h0M1591 659h0M1653 685h0M1839 684h0M1778 689h0M1563 677h0M1721 694h0M1565 659h0M1724 695h0M1895 666h0M1680 688h0M1657 689h0M1643 686h0M1763 694h0M1687 692h0M1573 670h0M1540 638h0M1981 661h0M1468 649h0M1598 661h0M1498 634h0M1583 658h0M1608 652h0M1587 661h0M1553 670h0M1776 690h0M1643 683h0M1503 659h0M1626 682h0M1456 646h0M1687 691h0M1813 679h0M1743 696h0M1465 639h0M1897 671h0M1586 672h0M1638 678h0M1593 650h0M1615 674h0M1460 645h0M1863 671h0M1647 672h0M1874 681h0M1714 695h0M1557 664h0M1856 673h0M1533 662h0M1521 655h0M1681 688h0M1630 672h0M1644 669h0M1762 694h0M1531 649h0M1868 665h0M1648 670h0M1673 688h0M1780 690h0M1553 664h0M1780 693h0M1562 645h0M1648 674h0M1523 660h0M1566 674h0M1814 689h0M1684 691h0M1650 666h0M1784 693h0M1670 682h0M1654 680h0M1621 684h0M1788 692h0M1645 682h0M1634 676h0M1701 693h0M1664 675h0M1696 691h0M1544 642h0M1640 681h0M1599 677h0M1658 679h0M1615 679h0M1566 644h0M1871 669h0M1538 671h0M1819 686h0M1777 693h0M1725 696h0M1624 677h0M1579 665h0M1574 647h0M1752 695h0M1847 680h0M1812 684h0M1622 680h0M1660 688h0M1535 647h0M1596 655h0M1834 681h0M1511 632h0M1617 683h0M1734 695h0M1940 672h0M1700 692h0M1688 688h0M1587 665h0M1705 691h0M1796 690h0M1781 690h0M1575 666h0M1618 679h0M1878 654h0M1887 674h0M1558 666h0M1724 693h0M1720 695h0M1452 640h0M1452 626h0M1452 650h0M1452 618h0M1452 646h0M1452 643h0M1452 637h0M1452 621h0M1452 647h0M1452 653h0M1452 657h0M1452 624h0M1452 623h0M1452 646h0M1452 628h0M1452 648h0M1452 651h0M1452 645h0M1452 642h0M1452 636h0M1452.7 588.7h0M1503.8 584.4h0M1528.0 589.8h0M1452.7 606.4h0M1486.5 600.6h0M1492.6 601.4h0M1517.2 613.3h0M1528.0 611.3h0M1531.8 616.3h0M1538.0 621.0h0M1576.8 613.3h0M1478.4 624.8h0M1464.6 632.5h0M1607.6 635.2h0M1623.3 641.3h0M1615.6 645.9h0M1640.2 647.1h0M1645.2 655.6h0M1656.8 669.0h0M2016.9 640.9h0M1907.8 639.4h0M1926.6 639.0h0M1956.6 642.1h0M1930.5 651.7h0M1947.4 654.0h0M1985.4 652.9h0M1892.0 644.8h0M1878.6 645.9h0M1873.2 652.9h0M1859.3 657.9h0M1962.4 656.7h0M1968.1 661.3h0M1973.9 658.2h0M1993.1 659.4h0M1999.6 661.3h0M1923.9 667.1h0M1916.2 675.5h0M1940.8 672.8h0M1835.5 670.9h0M1850.9 669.0h0" fill="none" stroke="#DE743C" stroke-width="12.7" stroke-linecap="round"/>
<path d="M1424.2 634.0h620.8M1641.0 430.53v278.7" stroke="#000" stroke-width="5.5" fill="none"/>
<rect x="1425.55" y="431.88" width="618.10" height="276.00" fill="none" stroke="#303030" stroke-width="2.9"/>
</g>
<text x="1734.6" y="407.6" font-size="39.6" text-anchor="middle" fill="#1a1a1a" stroke="#1a1a1a" stroke-width=".45">Exercise</text>
<g clip-path="url(#c6)">
<path d="M628 1045h0M203 1038h0M253 1050h0M364 1060h0M606 1045h0M260 1037h0M321 1032h0M280 1032h0M320 1047h0M214 1033h0M424 1067h0M223 1013h0M618 1052h0M265 1023h0M312 1038h0M212 1013h0M456 1073h0M344 1061h0M382 1041h0M446 1075h0M206 1042h0M302 1031h0M350 1043h0M238 1047h0M232 1018h0M168 1027h0M449 1075h0M352 1014h0M548 1063h0M260 1041h0M341 1063h0M625 1048h0M281 1043h0M321 1017h0M654 1047h0M550 1056h0M548 1048h0M298 1030h0M560 1059h0M305 1037h0M389 1067h0M443 1074h0M478 1070h0M266 1052h0M536 1063h0M244 1030h0M452 1072h0M502 1066h0M186 1030h0M335 1059h0M367 1061h0M433 1073h0M299 1018h0M538 1061h0M644 1052h0M250 1023h0M609 1054h0M335 1056h0M399 1053h0M345 1060h0M437 1073h0M289 996h0M487 1068h0M336 1038h0M389 1067h0M618 1052h0M257 1044h0M375 1055h0M579 1048h0M493 1065h0M675 1046h0M451 1072h0M471 1073h0M351 1059h0M306 1054h0M407 1068h0M367 1041h0M319 1044h0M362 1058h0M489 1070h0M608 1047h0M384 1032h0M415 1068h0M624 1050h0M385 1067h0M294 1054h0M347 1047h0M267 1048h0M317 1037h0M379 1054h0M562 1053h0M305 1028h0M521 1061h0M468 1071h0M192 1026h0M393 1067h0M417 1060h0M250 1016h0M585 1050h0M231 1024h0M313 1057h0M555 1064h0M451 1074h0M537 1056h0M364 1055h0M498 1068h0M327 1053h0M357 1035h0M320 1045h0M447 1075h0M298 1045h0M477 1071h0M576 1059h0M410 1063h0M373 1058h0M225 1013h0M346 1056h0M385 1046h0M608 1049h0M351 1020h0M314 1053h0M429 1073h0M392 1062h0M646 1050h0M545 1058h0M398 1057h0M209 1037h0M507 1068h0M418 1071h0M526 1048h0M455 1073h0M281 1054h0M409 1067h0M439 1072h0M335 1057h0M360 1036h0M511 1064h0M443 1075h0M287 1042h0M452 1072h0M415 1060h0M239 1037h0M338 1056h0M601 1046h0M346 1058h0M454 1074h0M194 1019h0M264 1047h0M393 1058h0M232 1025h0M335 1062h0M481 1069h0M302 1030h0M347 1064h0M321 1020h0M278 1024h0M383 1052h0M435 1072h0M289 1056h0M414 1070h0M445 1074h0M340 1049h0M286 1028h0M447 1074h0M273 1030h0M338 1035h0M546 1055h0M230 1014h0M364 1036h0M402 1063h0M266 1039h0M256 1021h0M272 1028h0M249 1011h0M509 1059h0M227 1015h0M553 1053h0M489 1071h0M440 1072h0M616 1053h0M621 1049h0M259 1036h0M340 1048h0M601 1050h0M498 1066h0M396 1067h0M342 1059h0M194 1020h0M633 1049h0M583 1058h0M470 1073h0M458 1072h0M481 1072h0M289 1040h0M284 1044h0M247 1046h0M551 1048h0M370 1041h0M568 1062h0M420 1062h0M254 1050h0M560 1063h0M300 1050h0M582 1031h0M277 1049h0M291 1055h0M451 1074h0M420 1066h0M298 1041h0M269 1022h0M512 1062h0M651 1048h0M627 1053h0M352 1022h0M332 1035h0M616 1045h0M233 1040h0M299 1053h0M224 1033h0M268 1031h0M227 1041h0M352 1041h0M466 1072h0M549 1052h0M448 1074h0M264 1051h0M494 1062h0M419 1072h0M468 1073h0M503 1065h0M359 1063h0M560 1060h0M419 1072h0M492 1066h0M359 1056h0M372 1062h0M569 1047h0M244 1007h0M225 1019h0M455 1073h0M326 1063h0M299 1058h0M237 1027h0M280 1038h0M505 1060h0M520 1061h0M315 1059h0M284 1015h0M295 1048h0M198 1038h0M226 1041h0M306 1010h0M321 1035h0M259 1041h0M509 1055h0M293 1051h0M436 1072h0M412 1072h0M447 1074h0M568 1053h0M556 1060h0M562 1036h0M514 1065h0M419 1070h0M469 1070h0M440 1073h0M422 1069h0M406 1059h0M434 1073h0M491 1067h0M371 1065h0M306 1024h0M567 1054h0M239 1050h0M381 1058h0M293 1022h0M511 1065h0M358 1066h0M575 1057h0M523 1064h0M238 1049h0M193 1034h0M433 1067h0M414 1066h0M315 1056h0M481 1071h0M304 1055h0M363 1048h0M418 1073h0M473 1071h0M341 1028h0M413 1072h0M448 1073h0M607 1048h0M437 1070h0M240 1044h0M584 1058h0M454 1074h0M238 1030h0M374 1060h0M313 1060h0M314 1015h0M304 1027h0M325 1006h0M509 1068h0M326 1044h0M408 1067h0M334 1046h0M520 1063h0M301 1051h0M302 1043h0M258 1042h0M383 1069h0M379 1054h0M365 1032h0M472 1071h0M240 1028h0M471 1073h0M375 1043h0M363 1062h0M340 1020h0M442 1074h0M337 1044h0M369 1056h0M217 1018h0M380 1066h0M369 1054h0M523 1068h0M376 1049h0M310 1044h0M427 1069h0M582 1051h0M510 1067h0M556 1043h0M287 1025h0M454 1072h0M528 1066h0M448 1074h0M475 1071h0M567 1056h0M280 1013h0M399 1066h0M262 1021h0M187 1034h0M296 1030h0M303 1032h0M296 1024h0M292 1052h0M201 1028h0M590 1058h0M394 1061h0M315 1023h0M506 1065h0M248 1051h0M183 1035h0M239 1034h0M381 1069h0M267 1022h0M393 1066h0M260 1038h0M435 1072h0M536 1055h0M392 1065h0M163 1038h0M632 1048h0M538 1060h0M299 1010h0M268 1030h0M341 1057h0M351 1034h0M249 1048h0M520 1065h0M638 1052h0M333 1051h0M354 1062h0M363 1061h0M409 1062h0M176 1020h0M380 1034h0M256 1034h0M464 1074h0M423 1063h0M367 1047h0M447 1074h0M439 1073h0M384 1057h0M243 1009h0M432 1070h0M199 1038h0M392 1067h0M465 1073h0M301 1054h0M314 1055h0M278 1052h0M467 1073h0M374 1057h0M422 1070h0M365 1063h0M359 1062h0M586 1057h0M513 1066h0M319 1010h0M578 1055h0M528 1061h0M176 1029h0M298 1029h0M606 1044h0M448 1075h0M520 1065h0M606 1040h0M242 1031h0M573 1033h0M300 1055h0M610 1055h0M260 1044h0M292 1045h0M477 1072h0M377 1055h0M219 1031h0M226 1044h0M531 1057h0M284 1035h0M326 1057h0M374 1033h0M245 1018h0M527 1057h0M460 1073h0M291 984h0M576 1043h0M266 1005h0M638 1051h0M596 1046h0M549 1045h0M316 1040h0M312 1044h0M279 1055h0M418 1069h0M576 1058h0M499 1058h0M342 1049h0M326 1054h0M460 1074h0M278 1036h0M378 1039h0M270 1045h0M212 1016h0M428 1066h0M469 1072h0M420 1063h0M388 1060h0M613 1052h0M480 1071h0M184 1028h0M398 1071h0M598 1058h0M344 1048h0M359 1033h0M488 1067h0M499 1069h0M315 1015h0M537 1058h0M311 1056h0M457 1073h0M339 1054h0M423 1072h0M391 1061h0M311 1049h0M331 1042h0M384 1040h0M270 1039h0M204 1031h0M257 1044h0M179 1036h0M203 1027h0M609 1043h0M402 1066h0M387 1061h0M498 1066h0M205 1035h0M567 1058h0M381 1056h0M166 1020h0M188 1034h0M291 1039h0M343 1024h0M551 1063h0M213 1030h0M282 1055h0M389 1070h0M374 1061h0M398 1049h0M501 1063h0M515 1051h0M314 1038h0M274 1031h0M306 1059h0M477 1073h0M331 1055h0M506 1066h0M234 1029h0M314 1057h0M487 1069h0M253 1044h0M300 1057h0M264 1028h0M469 1072h0M433 1074h0M387 1066h0M354 1033h0M406 1069h0M589 1059h0M268 1043h0M460 1073h0M562 1062h0M388 1062h0M460 1073h0M267 1040h0M361 1040h0M384 1050h0M413 1071h0M317 1060h0M248 1040h0M424 1070h0M546 1065h0M352 1059h0M576 1051h0M543 1054h0M390 1044h0M208 994h0M191 1019h0M338 1036h0M220 1025h0M337 1063h0M352 1024h0M384 1063h0M331 1037h0M360 1065h0M216 1027h0M409 1062h0M583 1057h0M436 1072h0M308 1029h0M304 1055h0M480 1072h0M273 1052h0M333 1043h0M418 1072h0M351 1065h0M231 1012h0M330 1025h0M187 1030h0M525 1066h0M340 1044h0M485 1068h0M364 1038h0M307 1023h0M385 1048h0M253 1002h0M173 1014h0M371 1059h0M267 1044h0M279 1050h0M315 1044h0M569 1056h0M282 1023h0M550 1062h0M528 1056h0M286 1031h0M504 1060h0M209 1045h0M232 1027h0M355 1051h0M302 1026h0M299 1044h0M597 1058h0M283 1046h0M457 1072h0M444 1074h0M346 1038h0M493 1070h0M381 1046h0M238 993h0M353 1059h0M288 1038h0M193 1017h0M329 1040h0M608 1053h0M523 1061h0M306 1035h0M259 1035h0M453 1074h0M252 1008h0M515 1055h0M470 1069h0M240 1013h0M324 1041h0M408 1072h0M614 1052h0M485 1071h0M506 1068h0M519 1057h0M302 1037h0M305 1004h0M364 1053h0M409 1061h0M265 1032h0M350 1047h0M351 1061h0M191 1020h0M410 1069h0M319 1042h0M256 1041h0M529 1063h0M396 1057h0M387 1067h0M651 1048h0M606 1046h0M576 1057h0M282 1029h0M473 1071h0M474 1070h0M287 1048h0M363 1067h0M602 1057h0M402 1066h0M532 1047h0M547 1065h0M567 1057h0M430 1074h0M278 1050h0M460 1072h0M603 1053h0M395 1067h0M382 1056h0M220 1037h0M469 1071h0M321 1047h0M473 1073h0M243 1030h0M618 1049h0M286 1052h0M635 1054h0M550 1057h0M438 1074h0M359 1055h0M280 1051h0M569 1062h0M437 1071h0M454 1073h0M301 1004h0M581 1045h0M178 1016h0M370 1057h0M673 1045h0M547 1058h0M515 1060h0M514 1055h0M378 1068h0M425 1072h0M427 1071h0M555 1063h0M597 1043h0M438 1074h0M628 1051h0M420 1070h0M292 1050h0M352 1060h0M275 1000h0M532 1063h0M437 1071h0M278 1044h0M177 1025h0M294 1054h0M383 1059h0M261 1046h0M475 1072h0M279 1052h0M486 1072h0M342 1049h0M303 1042h0M311 1044h0M303 1027h0M615 1050h0M625 1051h0M360 1057h0M594 1056h0M333 1058h0M367 1046h0M384 1043h0M463 1073h0M507 1064h0M262 1053h0M372 1058h0M577 1042h0M354 1057h0M302 1052h0M602 1047h0M425 1072h0M401 1064h0M349 1052h0M483 1070h0M563 1061h0M408 1066h0M458 1070h0M504 1068h0M548 1064h0M228 1039h0M413 1072h0M419 1071h0M275 1041h0M585 1056h0M404 1061h0M486 1070h0M369 1063h0M317 1009h0M297 1029h0M523 1065h0M611 1049h0M349 1037h0M179 1013h0M319 1055h0M328 1046h0M342 1062h0M237 1037h0M490 1067h0M204 1028h0M534 1066h0M401 1062h0M526 1060h0M354 1038h0M352 1036h0M555 1049h0M402 1061h0M180 1018h0M188 1036h0M451 1073h0M307 1029h0M230 1024h0M632 1045h0M624 1050h0M303 1044h0M282 1056h0M328 1040h0M330 1051h0M221 1041h0M231 1022h0M430 1069h0M436 1071h0M456 1072h0M366 1055h0M295 1057h0M178 1023h0M474 1072h0M558 1052h0M295 1026h0M593 1050h0M279 1056h0M399 1057h0M165 1004h0M222 1028h0M448 1075h0M434 1069h0M314 1051h0M518 1067h0M457 1073h0M379 1067h0M285 1023h0M338 1051h0M184 1029h0M366 1055h0M294 1015h0M349 1060h0M554 1051h0M265 1036h0M305 1032h0M297 1020h0M376 1051h0M263 1036h0M419 1063h0M322 1049h0M227 1026h0M382 1034h0M553 1063h0M445 1074h0M429 1072h0M247 1046h0M568 1052h0M466 1071h0M475 1070h0M354 1067h0M253 1030h0M335 1041h0M533 1049h0M613 1053h0M282 1048h0M376 1057h0M251 1016h0M284 1043h0M396 1067h0M238 1037h0M349 1043h0M163 1020h0M538 1061h0M283 1051h0M372 1066h0M379 1057h0M617 1052h0M410 1070h0M452 1074h0M239 1047h0M451 1073h0M582 1049h0M237 1029h0M374 1058h0M453 1073h0M416 1066h0M432 1074h0M323 1053h0M372 1041h0M501 1069h0M448 1073h0M369 1053h0M354 1060h0M278 1038h0M299 1053h0M392 1071h0M531 1067h0M676 1045h0M500 1064h0M563 1058h0M303 1033h0M339 1043h0M242 1034h0M393 1061h0M545 1064h0M320 1040h0M484 1072h0M310 1025h0M462 1072h0M233 1045h0M327 1061h0M431 1072h0M469 1073h0M285 1055h0M285 1040h0M474 1069h0M299 1045h0M522 1061h0M581 1058h0M365 1067h0M606 1049h0M218 1006h0M539 1061h0M527 1059h0M311 1048h0M398 1054h0M493 1070h0M425 1072h0M304 1045h0M442 1075h0M479 1070h0M383 1060h0M505 1063h0M463 1072h0M560 1054h0M261 1029h0M599 1058h0M322 1053h0M518 1059h0M269 1054h0M249 1047h0M538 1065h0M285 1044h0M450 1075h0M339 1053h0M267 1041h0M344 1038h0M288 1055h0M477 1071h0M620 1053h0M289 1047h0M200 1018h0M212 1040h0M543 1064h0M589 1053h0M533 1066h0M598 1050h0M540 1065h0M208 1042h0M573 1061h0M590 1050h0M231 1047h0M210 1005h0M421 1068h0M434 1069h0M473 1073h0M351 1028h0M235 1031h0M619 1050h0M392 1064h0M162 1016h0M162 1012h0M162 1011h0M162 1024h0M162 1013h0M162 1008h0M162 1022h0M162 1013h0M162 1016h0M162 1021h0M162 1016h0M162 1010h0M162 1024h0M162 1021h0M162 1027h0M162 1015h0M162 1021h0M162 1025h0M224.9 843.7h0M262.2 864.8h0M187.7 900.6h0M256.8 923.6h0M231.5 926.7h0M273.0 925.9h0M256.8 933.6h0M201.1 937.5h0M284.5 937.8h0M219.2 957.8h0M236.5 955.9h0M244.9 958.6h0M266.1 957.8h0M162.3 968.6h0M307.6 967.8h0M200.7 972.8h0M216.5 971.3h0M226.1 977.0h0M255.7 977.0h0M269.9 973.6h0M251.8 986.3h0M229.9 986.3h0M213.4 988.2h0M186.1 988.6h0M201.9 989.3h0M268.0 990.5h0M290.7 988.6h0M322.6 991.7h0M345.6 996.7h0M335.6 1002.8h0M301.0 1003.6h0M278.8 1003.6h0M577.0 992.0h0M696.2 1002.8h0M646.6 1010.5h0M637.4 1012.0h0M714.6 1013.2h0M699.7 1018.2h0M532.1 1022.8h0M720.8 1043.2h0M703.5 1034.7h0M695.8 1036.2h0M676.6 1040.1h0M665.1 1037.4h0M655.5 1033.6h0M657.4 1052.0h0M642.0 1041.2h0M632.4 1033.6h0M634.3 1042.4h0M636.2 1054.7h0M624.7 1050.8h0M615.1 1057.8h0M613.2 1043.2h0M607.4 1031.6h0M586.3 1030.9h0M532.4 1036.2h0M525.9 1038.5h0M515.2 1042.0h0M364.5 1032.8h0M388.3 1052.8h0" fill="none" stroke="#DE743C" stroke-width="12.7" stroke-linecap="round"/>
<path d="M134.2 1023.2h620.8M374.1 808.86v278.7" stroke="#000" stroke-width="5.5" fill="none"/>
<rect x="135.55" y="810.21" width="618.10" height="276.00" fill="none" stroke="#303030" stroke-width="2.9"/>
</g>
<text x="444.6" y="786.0" font-size="39.6" text-anchor="middle" fill="#1a1a1a" stroke="#1a1a1a" stroke-width=".45">Edu</text>
<path d="M121.9 1075.1H134.2M121.9 1011.2H134.2M121.9 947.2H134.2M121.9 883.2H134.2M121.9 819.3H134.2" stroke="#333" stroke-width="4.6" fill="none"/>
<text x="112.3" y="1088.6" font-size="39.6" text-anchor="end" fill="#000" stroke="#000" stroke-width=".45">0</text>
<text x="112.3" y="1024.7" font-size="39.6" text-anchor="end" fill="#000" stroke="#000" stroke-width=".45">3</text>
<text x="112.3" y="960.7" font-size="39.6" text-anchor="end" fill="#000" stroke="#000" stroke-width=".45">6</text>
<text x="112.3" y="896.7" font-size="39.6" text-anchor="end" fill="#000" stroke="#000" stroke-width=".45">9</text>
<text x="112.3" y="832.8" font-size="39.6" text-anchor="end" fill="#000" stroke="#000" stroke-width=".45">12</text>
<g clip-path="url(#c7)">
<path d="M1118 1072h0M1058 1070h0M1066 1072h0M1155 1063h0M1062 1072h0M907 1050h0M1037 1068h0M1332 1037h0M949 1055h0M1195 1060h0M972 1049h0M968 1060h0M881 1043h0M924 1035h0M1145 1068h0M1307 1044h0M990 1061h0M1002 1055h0M921 1036h0M1251 1055h0M993 1055h0M1256 1045h0M1074 1072h0M976 1049h0M1149 1066h0M1231 1053h0M1229 1052h0M925 1047h0M994 1062h0M1092 1074h0M933 1056h0M1049 1071h0M941 1056h0M893 1044h0M1010 1060h0M1098 1074h0M1355 1033h0M1043 1071h0M954 1038h0M937 1029h0M1122 1071h0M954 1036h0M992 1065h0M1053 1070h0M1045 1068h0M1014 1068h0M977 1057h0M1126 1071h0M1067 1072h0M977 1059h0M1057 1070h0M1027 1067h0M973 1049h0M1237 1056h0M956 1046h0M1220 1060h0M1059 1072h0M1083 1074h0M1318 1044h0M1223 1054h0M1114 1073h0M961 1049h0M1032 1069h0M1041 1068h0M942 1056h0M956 1043h0M1262 1046h0M1154 1069h0M973 1054h0M1157 1056h0M982 1064h0M964 1041h0M962 1059h0M858 1029h0M1075 1072h0M1263 1050h0M1224 1058h0M1085 1075h0M1258 1046h0M1026 1069h0M1047 1068h0M1223 1060h0M1067 1072h0M1196 1051h0M954 1051h0M970 1049h0M1071 1073h0M927 1056h0M1117 1071h0M1208 1052h0M1186 1066h0M965 1045h0M1115 1073h0M1237 1052h0M1204 1049h0M1104 1074h0M939 1044h0M996 1047h0M955 1054h0M1108 1074h0M923 1050h0M1102 1073h0M950 1051h0M1123 1072h0M1080 1072h0M940 1056h0M1268 1042h0M922 1034h0M1175 1057h0M1093 1074h0M1197 1057h0M813 1032h0M964 1036h0M1120 1070h0M1084 1072h0M1192 1056h0M1220 1056h0M959 1057h0M1270 1051h0M1002 1066h0M1127 1071h0M956 1049h0M834 1038h0M922 1043h0M982 1060h0M1120 1073h0M1090 1073h0M1007 1056h0M1061 1073h0M921 1046h0M1136 1066h0M1052 1069h0M1073 1072h0M987 1062h0M1213 1054h0M929 1030h0M1041 1071h0M1174 1062h0M1250 1047h0M897 1046h0M1273 1050h0M1072 1073h0M1080 1074h0M1258 1055h0M1262 1052h0M1094 1075h0M1209 1054h0M1025 1066h0M950 1043h0M1078 1072h0M858 1024h0M1296 1048h0M1168 1052h0M848 1035h0M1274 1053h0M1211 1062h0M1014 1058h0M1227 1045h0M1000 1056h0M1079 1074h0M1104 1074h0M1083 1074h0M1079 1073h0M1231 1055h0M875 1033h0M1258 1046h0M974 1055h0M1027 1067h0M1229 1058h0M1053 1070h0M1305 1051h0M950 1053h0M1322 1042h0M1138 1068h0M935 1043h0M1206 1058h0M957 1048h0M1023 1066h0M1065 1072h0M1287 1051h0M1332 1039h0M1027 1061h0M1169 1067h0M996 1058h0M976 1043h0M1126 1070h0M960 1060h0M931 1021h0M926 1055h0M1278 1050h0M1131 1069h0M1028 1064h0M1022 1065h0M1011 1058h0M1222 1048h0M858 1040h0M1103 1072h0M1111 1072h0M1199 1059h0M914 1036h0M1265 1049h0M1016 1053h0M1058 1072h0M1077 1072h0M1117 1073h0M1306 1045h0M1161 1068h0M1076 1074h0M1075 1074h0M1175 1064h0M1152 1060h0M1103 1074h0M923 1051h0M1207 1060h0M1046 1071h0M1202 1059h0M1264 1053h0M1180 1061h0M1040 1064h0M1182 1054h0M1133 1067h0M1140 1067h0M980 1057h0M1083 1075h0M1042 1070h0M881 1047h0M885 1022h0M1285 1049h0M981 1042h0M844 1033h0M965 1058h0M1052 1068h0M1233 1048h0M1048 1069h0M1070 1072h0M1220 1054h0M1079 1073h0M1079 1074h0M1079 1074h0M1164 1065h0M1228 1037h0M1219 1052h0M905 1039h0M1209 1062h0M913 1042h0M972 1059h0M1102 1073h0M954 1055h0M1175 1061h0M1007 1056h0M985 1060h0M1064 1072h0M1080 1073h0M1100 1074h0M1278 1054h0M1137 1065h0M985 1049h0M1239 1055h0M1230 1055h0M1001 1064h0M915 1043h0M1070 1073h0M1177 1065h0M973 1054h0M1055 1070h0M856 1042h0M1079 1073h0M1061 1071h0M900 1038h0M1108 1074h0M1142 1068h0M1263 1049h0M1052 1067h0M931 1056h0M952 1031h0M900 1037h0M1134 1070h0M1264 1051h0M960 1052h0M977 1051h0M1141 1069h0M1052 1068h0M1010 1059h0M981 1052h0M919 1036h0M972 1051h0M1082 1074h0M1177 1066h0M1078 1073h0M912 1042h0M871 1044h0M1021 1062h0M894 1050h0M1234 1048h0M1236 1052h0M930 1051h0M1124 1071h0M821 1038h0M1043 1069h0M900 1028h0M1009 1066h0M919 1042h0M981 1060h0M1005 1055h0M1001 1052h0M1097 1073h0M1294 1048h0M981 1055h0M1111 1072h0M911 1043h0M1212 1054h0M1177 1065h0M1090 1075h0M1169 1059h0M978 1052h0M1014 1063h0M1181 1062h0M1191 1061h0M932 1041h0M1231 1044h0M908 1036h0M1006 1062h0M990 1052h0M1014 1063h0M1011 1065h0M892 1049h0M946 1056h0M1218 1053h0M1039 1066h0M990 1056h0M988 1050h0M1124 1070h0M1214 1056h0M1179 1052h0M1170 1064h0M1165 1061h0M1099 1073h0M900 1047h0M1270 1046h0M960 1052h0M1180 1065h0M892 1039h0M1124 1070h0M1181 1066h0M984 1040h0M1119 1071h0M1230 1056h0M1208 1054h0M1268 1050h0M1260 1042h0M915 1031h0M1009 1058h0M1174 1059h0M1024 1067h0M995 1058h0M924 1050h0M971 1051h0M1017 1052h0M1010 1067h0M1275 1045h0M1049 1069h0M1073 1073h0M838 1044h0M1028 1069h0M916 1049h0M1125 1072h0M940 1054h0M1161 1056h0M907 1046h0M1293 1049h0M850 1035h0M1247 1040h0M1206 1045h0M1104 1074h0M1280 1051h0M1053 1071h0M972 1047h0M1178 1063h0M1192 1049h0M854 1036h0M1111 1071h0M1086 1075h0M1000 1053h0M944 1054h0M1211 1052h0M1121 1071h0M1076 1072h0M997 1054h0M1059 1073h0M1243 1041h0M1165 1063h0M831 1039h0M1149 1063h0M1194 1050h0M930 1055h0M1218 1056h0M1048 1071h0M1286 1042h0M1015 1057h0M947 1033h0M1115 1073h0M1043 1068h0M1050 1071h0M910 1052h0M1084 1072h0M1029 1060h0M977 1048h0M899 1039h0M985 1064h0M965 1043h0M876 1040h0M1222 1055h0M1087 1075h0M1173 1063h0M1102 1074h0M1200 1043h0M1131 1070h0M1255 1054h0M1042 1070h0M1108 1072h0M1010 1065h0M1277 1043h0M1229 1033h0M1042 1070h0M1190 1053h0M1008 1057h0M1225 1047h0M966 1036h0M905 1045h0M1189 1061h0M929 1051h0M1055 1071h0M879 1049h0M1171 1059h0M893 1033h0M1189 1065h0M1169 1068h0M1243 1047h0M1170 1052h0M1145 1069h0M1131 1069h0M1235 1044h0M1238 1052h0M995 1065h0M1136 1068h0M1171 1061h0M1253 1055h0M1138 1071h0M1120 1072h0M1257 1051h0M957 1043h0M1095 1075h0M1019 1064h0M955 1048h0M1319 1040h0M1044 1069h0M1050 1067h0M1326 1043h0M1154 1067h0M1305 1041h0M811.1 990.5h0M823.8 990.1h0M855.7 993.2h0M807.3 999.0h0M835.7 1000.1h0M807.3 1012.4h0M888.0 1008.6h0M916.1 1012.4h0M926.8 1014.3h0M844.2 1018.2h0M826.9 1021.3h0M946.0 1022.8h0M807.3 1031.6h0M820.0 1030.5h0M829.6 1038.2h0M969.9 1027.8h0M977.6 1029.7h0M989.1 1042.4h0M1297.4 990.9h0M1305.1 993.2h0M1231.3 1023.9h0M1245.9 1021.3h0M1271.6 1027.0h0M1192.8 1034.3h0M1308.1 1012.4h0M1315.8 1020.1h0M1330.4 1021.3h0M1346.6 1024.7h0M1368.5 1018.2h0M1371.6 1023.9h0M1298.5 1023.9h0M1302.4 1028.6h0M1371.6 1037.4h0M1358.1 1043.2h0M1342.7 1043.2h0M1331.2 1038.5h0M1319.7 1043.9h0M1300.5 1041.2h0M1290.8 1050.8h0M1285.1 1041.2h0M1256.2 1034.3h0M1269.7 1041.2h0" fill="none" stroke="#DE743C" stroke-width="12.7" stroke-linecap="round"/>
<path d="M779.2 1008.6h620.8M1052.5 808.86v278.7" stroke="#000" stroke-width="5.5" fill="none"/>
<rect x="780.55" y="810.21" width="618.10" height="276.00" fill="none" stroke="#303030" stroke-width="2.9"/>
</g>
<text x="1089.6" y="786.0" font-size="39.6" text-anchor="middle" fill="#1a1a1a" stroke="#1a1a1a" stroke-width=".45">Phys. act.</text>
<g clip-path="url(#c8)">
<path d="M1888 1057h0M1806 1068h0M1610 1061h0M1704 1070h0M1662 1054h0M1590 1059h0M1748 1071h0M1903 1041h0M1736 1075h0M1800 1064h0M1768 1072h0M1776 1070h0M1725 1071h0M1612 1056h0M2005 1035h0M1640 1059h0M1702 1069h0M1655 1059h0M1835 1048h0M1885 1057h0M1588 1048h0M1793 1066h0M1603 1049h0M1907 1053h0M1711 1071h0M1851 1062h0M1809 1066h0M1901 1051h0M1767 1072h0M1684 1065h0M1874 1049h0M1704 1065h0M1709 1070h0M1623 1040h0M1657 1058h0M1706 1070h0M1924 1043h0M1926 1050h0M1707 1067h0M1607 1057h0M1669 1064h0M1802 1066h0M1585 1056h0M1771 1072h0M1737 1075h0M1790 1067h0M1614 1055h0M1927 1033h0M1916 1050h0M1611 1053h0M1921 1033h0M1731 1073h0M1600 1049h0M1876 1052h0M1821 1054h0M1680 1060h0M1595 1043h0M1711 1071h0M1610 1061h0M1827 1066h0M1806 1066h0M1778 1069h0M1689 1071h0M1688 1061h0M1702 1068h0M1671 1067h0M1599 1050h0M1731 1073h0M1563 1054h0M1747 1072h0M1715 1073h0M1875 1027h0M1921 1041h0M1813 1063h0M1764 1072h0M1591 1050h0M1750 1074h0M1663 1063h0M1607 1056h0M1796 1062h0M1687 1062h0M1921 1033h0M1585 1049h0M1783 1068h0M1822 1064h0M1800 1067h0M1926 1051h0M1988 1038h0M1692 1070h0M1631 1061h0M1806 1068h0M1775 1071h0M1765 1069h0M1841 1057h0M1651 1058h0M1724 1073h0M1770 1068h0M1782 1067h0M1900 1051h0M1850 1054h0M1669 1068h0M1767 1071h0M1837 1058h0M1946 1049h0M1856 1057h0M1817 1058h0M1884 1056h0M1640 1049h0M1757 1073h0M1573 1037h0M1809 1061h0M1737 1075h0M1631 1058h0M1776 1068h0M1731 1073h0M1738 1075h0M1809 1068h0M1676 1066h0M1785 1071h0M1849 1045h0M1933 1039h0M1634 1058h0M1648 1054h0M1767 1071h0M1642 1061h0M1796 1065h0M1898 1040h0M1740 1073h0M1764 1072h0M1877 1046h0M1915 1051h0M1892 1040h0M1745 1074h0M1670 1061h0M1674 1067h0M1684 1069h0M1742 1072h0M1887 1055h0M1551 1053h0M1991 1037h0M1641 1054h0M1635 1056h0M1717 1074h0M1736 1074h0M1672 1055h0M1770 1072h0M1748 1074h0M1811 1059h0M1816 1063h0M1944 1033h0M1924 1044h0M1742 1073h0M1908 1035h0M1673 1067h0M1947 1038h0M1735 1074h0M1679 1066h0M1741 1074h0M1715 1074h0M1913 1053h0M1624 1063h0M1732 1073h0M1682 1064h0M1917 1047h0M1567 1047h0M1776 1071h0M1870 1050h0M1901 1055h0M1761 1072h0M1855 1059h0M1798 1066h0M1796 1064h0M1635 1065h0M1815 1054h0M1730 1075h0M1837 1049h0M1662 1066h0M1948 1045h0M1711 1071h0M1618 1051h0M1580 1048h0M1937 1044h0M1888 1056h0M1772 1072h0M1578 1055h0M1778 1070h0M1815 1062h0M1903 1053h0M1891 1040h0M1623 1056h0M1730 1074h0M1760 1071h0M1706 1068h0M1718 1073h0M1752 1071h0M1695 1071h0M1683 1069h0M2000 1032h0M1805 1067h0M1665 1066h0M1672 1062h0M1807 1068h0M1601 1043h0M1999 1037h0M1789 1067h0M1661 1067h0M1585 1051h0M1981 1036h0M1898 1043h0M1773 1071h0M1597 1053h0M1594 1044h0M1713 1073h0M1730 1074h0M1694 1070h0M1842 1049h0M1623 1048h0M1929 1046h0M1854 1058h0M1821 1064h0M1774 1068h0M1594 1056h0M1714 1068h0M1660 1065h0M1983 1028h0M1675 1064h0M1879 1028h0M1785 1063h0M1804 1062h0M1888 1035h0M1740 1073h0M1597 1055h0M1591 1036h0M1823 1063h0M1546 1046h0M1598 1045h0M1750 1073h0M1662 1066h0M1796 1068h0M1973 1037h0M1861 1055h0M1737 1074h0M1750 1073h0M1879 1050h0M1650 1055h0M1666 1065h0M1724 1071h0M1855 1049h0M1720 1072h0M1847 1049h0M1957 1039h0M1735 1074h0M1840 1061h0M1615 1041h0M1739 1075h0M1769 1071h0M1713 1071h0M1729 1074h0M1691 1068h0M1617 1062h0M1650 1063h0M1780 1068h0M1885 1030h0M1818 1062h0M1904 1055h0M1914 1050h0M1608 1049h0M1897 1050h0M1789 1067h0M1554 1050h0M1689 1064h0M1869 1049h0M1588 1045h0M1972 1040h0M1845 1055h0M1706 1068h0M1604 1055h0M1907 1050h0M1678 1069h0M1752 1073h0M1639 1059h0M1920 1040h0M1924 1027h0M1835 1055h0M1727 1074h0M1866 1047h0M1633 1063h0M1706 1068h0M1750 1072h0M1586 1042h0M1690 1071h0M1869 1055h0M1880 1045h0M1906 1048h0M1826 1063h0M1712 1068h0M1884 1058h0M1835 1059h0M1887 1049h0M1830 1063h0M1640 1066h0M1943 1030h0M1725 1073h0M1690 1068h0M1983 1042h0M1721 1073h0M1703 1067h0M1747 1071h0M1706 1068h0M1859 1042h0M1605 1045h0M1633 1051h0M1749 1073h0M1922 1027h0M1824 1066h0M1706 1068h0M1863 1056h0M1897 1051h0M1978 1037h0M1803 1068h0M1645 1050h0M1759 1072h0M1836 1055h0M1607 1051h0M1662 1066h0M1621 1064h0M1595 1047h0M1701 1070h0M1774 1069h0M1911 1036h0M1881 1036h0M1863 1052h0M1853 1056h0M1901 1047h0M1726 1072h0M1751 1073h0M1712 1071h0M1641 1063h0M1706 1069h0M1864 1059h0M1730 1072h0M1734 1073h0M1784 1069h0M1859 1054h0M1867 1052h0M1865 1057h0M1833 1064h0M1698 1067h0M1844 1050h0M1834 1060h0M1921 1047h0M1614 1050h0M1581 1051h0M1790 1069h0M1640 1050h0M1844 1042h0M1690 1070h0M1817 1067h0M1710 1073h0M1757 1071h0M1904 1032h0M1849 1062h0M1807 1067h0M1725 1072h0M1879 1051h0M1553 1044h0M1863 1055h0M1858 1050h0M1676 1069h0M1720 1069h0M1815 1061h0M1525 1049h0M1907 1053h0M1482 1040h0M1794 1066h0M1568 1052h0M1614 1045h0M1583 1050h0M1703 1072h0M1748 1074h0M1791 1067h0M1897 1047h0M1735 1075h0M1685 1071h0M1505 1046h0M1578 1045h0M1587 1038h0M1901 1038h0M1915 1044h0M1652 1067h0M1816 1065h0M1835 1062h0M1553 1052h0M1749 1073h0M1856 1053h0M1883 1054h0M1833 1064h0M1746 1072h0M1709 1073h0M1621 1063h0M1570 1048h0M1694 1068h0M1925 1051h0M1853 1045h0M1801 1069h0M1647 1052h0M1655 1060h0M1817 1064h0M1665 1068h0M1706 1071h0M1774 1071h0M1783 1070h0M1594 1049h0M1898 1039h0M1658 1059h0M1542 1050h0M1554 1049h0M1832 1066h0M1672 1057h0M1674 1063h0M1878 1028h0M1717 1070h0M1730 1072h0M1867 1060h0M1849 1052h0M1700 1071h0M1623 1056h0M1673 1062h0M1850 1051h0M1601 1046h0M1688 1066h0M1743 1073h0M1800 1066h0M1651 1067h0M1731 1073h0M1731 1073h0M1836 1065h0M1825 1066h0M1901 1027h0M1816 1055h0M1877 1052h0M1734 1073h0M1668 1066h0M1802 1065h0M1660 1058h0M1701 1070h0M1540 1047h0M1969 1046h0M1928 1052h0M1755 1073h0M1736 1073h0M1687 1070h0M1751 1070h0M1638 1064h0M1553 1048h0M1894 1057h0M1697 1070h0M1823 1053h0M1883 1045h0M1800 1067h0M1819 1063h0M1876 1053h0M1937 1035h0M1602 1040h0M1776 1068h0M1873 1053h0M1590 1058h0M1837 1063h0M1963 1047h0M1756 1069h0M1678 1065h0M1727 1074h0M1842 1061h0M1744 1074h0M1590 1046h0M1681 1066h0M1678 1070h0M1672 1069h0M1750 1072h0M1625 1061h0M1863 1038h0M1808 1062h0M1709 1072h0M1685 1065h0M1685 1070h0M1917 1053h0M1648 1061h0M1717 1070h0M1774 1071h0M1892 1029h0M1959 1043h0M1641 1054h0M1805 1066h0M1964 1031h0M1875 1036h0M1708 1068h0M1555 1048h0M1642 1057h0M1755 1073h0M1873 1054h0M2016.9 966.3h0M1890.1 985.5h0M1554.1 1002.8h0M1589.5 1002.8h0M1950.1 1003.6h0M1452.7 1010.5h0M1452.7 1018.2h0M1452.7 1031.6h0M1473.0 1029.3h0M1496.5 1022.4h0M1514.5 1023.9h0M1513.8 1036.2h0M1549.1 1024.7h0M1572.2 1019.3h0M1589.5 1027.0h0M1597.2 1031.6h0M1618.3 1036.2h0M2016.9 1011.6h0M2016.9 1020.9h0M2016.9 1034.7h0M1961.2 1012.4h0M1911.6 1011.6h0M1920.1 1014.3h0M1858.6 1020.1h0M1890.1 1021.3h0M1866.3 1030.5h0M1855.9 1036.2h0M1959.7 1023.9h0M1986.2 1029.7h0M1992.3 1034.7h0M1973.9 1032.4h0M1976.6 1045.1h0M1965.4 1050.8h0M1950.1 1050.8h0M1835.5 1043.9h0M1524.2 1042.0h0M1538.4 1054.7h0" fill="none" stroke="#DE743C" stroke-width="12.7" stroke-linecap="round"/>
<path d="M1424.2 1003.6h620.8M1760.6 808.86v278.7" stroke="#000" stroke-width="5.5" fill="none"/>
<rect x="1425.55" y="810.21" width="618.10" height="276.00" fill="none" stroke="#303030" stroke-width="2.9"/>
</g>
<text x="1734.6" y="786.0" font-size="39.6" text-anchor="middle" fill="#1a1a1a" stroke="#1a1a1a" stroke-width=".45">Sleep</text>
<g clip-path="url(#c9)">
<path d="M523 1441h0M608 1428h0M582 1424h0M451 1453h0M540 1441h0M392 1449h0M371 1444h0M511 1446h0M523 1432h0M725 1400h0M691 1404h0M516 1445h0M559 1389h0M398 1446h0M585 1427h0M596 1413h0M663 1400h0M362 1443h0M492 1448h0M552 1437h0M524 1428h0M348 1443h0M556 1440h0M586 1426h0M623 1430h0M324 1435h0M429 1450h0M628 1377h0M565 1440h0M595 1412h0M447 1453h0M388 1448h0M511 1436h0M476 1448h0M423 1451h0M511 1442h0M330 1441h0M669 1379h0M439 1452h0M283 1434h0M599 1422h0M402 1450h0M396 1445h0M540 1422h0M460 1452h0M489 1445h0M615 1410h0M447 1452h0M636 1413h0M366 1440h0M428 1452h0M588 1436h0M607 1432h0M581 1410h0M260 1432h0M561 1411h0M591 1408h0M374 1446h0M570 1427h0M716 1408h0M285 1434h0M586 1434h0M584 1421h0M374 1447h0M282 1434h0M520 1439h0M402 1450h0M578 1420h0M594 1413h0M360 1439h0M347 1440h0M616 1419h0M519 1434h0M414 1449h0M596 1432h0M592 1415h0M653 1428h0M388 1447h0M627 1398h0M523 1439h0M282 1435h0M333 1438h0M385 1445h0M565 1424h0M528 1443h0M346 1439h0M444 1453h0M621 1432h0M608 1407h0M550 1419h0M543 1431h0M575 1416h0M330 1438h0M670 1417h0M606 1431h0M500 1448h0M572 1418h0M552 1421h0M575 1429h0M492 1443h0M493 1447h0M683 1416h0M284 1431h0M421 1452h0M622 1422h0M576 1421h0M265 1431h0M537 1426h0M365 1444h0M597 1427h0M425 1452h0M451 1453h0M476 1449h0M623 1424h0M473 1448h0M326 1439h0M476 1448h0M394 1449h0M548 1436h0M299 1435h0M464 1450h0M441 1453h0M573 1437h0M544 1429h0M586 1432h0M491 1447h0M463 1451h0M637 1427h0M419 1450h0M629 1428h0M580 1426h0M404 1448h0M374 1446h0M377 1443h0M566 1439h0M578 1409h0M571 1409h0M400 1450h0M447 1451h0M428 1449h0M540 1442h0M490 1444h0M501 1448h0M383 1448h0M531 1443h0M320 1432h0M633 1411h0M593 1419h0M509 1444h0M564 1433h0M672 1408h0M349 1443h0M596 1417h0M338 1438h0M537 1434h0M453 1453h0M543 1421h0M584 1428h0M395 1449h0M349 1441h0M459 1452h0M501 1441h0M273 1433h0M528 1444h0M437 1452h0M402 1449h0M456 1453h0M370 1444h0M404 1450h0M583 1436h0M503 1447h0M331 1430h0M522 1443h0M403 1450h0M332 1434h0M597 1392h0M616 1430h0M601 1428h0M470 1450h0M523 1444h0M477 1449h0M544 1427h0M614 1428h0M613 1421h0M414 1451h0M438 1452h0M427 1450h0M605 1408h0M360 1436h0M439 1452h0M584 1420h0M566 1431h0M421 1451h0M374 1445h0M468 1451h0M291 1434h0M470 1450h0M490 1445h0M370 1445h0M580 1428h0M525 1429h0M563 1415h0M588 1384h0M401 1448h0M636 1427h0M525 1442h0M518 1439h0M355 1440h0M620 1422h0M499 1447h0M253 1430h0M437 1452h0M632 1428h0M411 1450h0M521 1446h0M585 1427h0M335 1441h0M289 1434h0M542 1432h0M431 1452h0M517 1436h0M586 1435h0M488 1448h0M568 1420h0M659 1414h0M477 1450h0M556 1434h0M666 1411h0M548 1431h0M316 1436h0M368 1445h0M657 1421h0M320 1435h0M484 1447h0M483 1446h0M591 1415h0M280 1434h0M461 1448h0M354 1443h0M493 1446h0M592 1383h0M388 1446h0M494 1442h0M476 1449h0M559 1409h0M422 1451h0M690 1424h0M425 1451h0M443 1453h0M542 1411h0M599 1434h0M624 1419h0M593 1429h0M496 1448h0M439 1453h0M569 1404h0M539 1442h0M644 1427h0M264 1432h0M526 1435h0M469 1451h0M514 1441h0M504 1447h0M272 1432h0M395 1448h0M413 1449h0M696 1396h0M278 1433h0M289 1433h0M540 1443h0M553 1437h0M586 1425h0M497 1447h0M571 1436h0M680 1413h0M543 1437h0M565 1425h0M573 1434h0M398 1447h0M587 1430h0M503 1448h0M559 1436h0M429 1450h0M650 1420h0M448 1453h0M691 1403h0M465 1452h0M464 1452h0M451 1451h0M479 1448h0M549 1417h0M699 1382h0M340 1433h0M565 1431h0M555 1428h0M423 1450h0M389 1446h0M706 1411h0M572 1429h0M471 1450h0M716 1414h0M578 1428h0M486 1446h0M370 1439h0M623 1426h0M398 1448h0M541 1435h0M692 1412h0M390 1448h0M436 1452h0M596 1416h0M342 1442h0M473 1450h0M463 1449h0M395 1448h0M581 1437h0M557 1429h0M633 1426h0M605 1433h0M371 1445h0M471 1450h0M587 1395h0M607 1410h0M524 1435h0M636 1428h0M602 1423h0M356 1438h0M330 1434h0M559 1431h0M503 1438h0M347 1439h0M270 1429h0M610 1419h0M544 1441h0M447 1452h0M642 1419h0M475 1449h0M673 1417h0M659 1414h0M498 1447h0M366 1446h0M613 1427h0M495 1448h0M424 1449h0M594 1416h0M470 1451h0M592 1420h0M568 1432h0M395 1445h0M424 1452h0M564 1432h0M411 1450h0M454 1451h0M577 1420h0M436 1451h0M418 1450h0M330 1436h0M582 1416h0M382 1443h0M586 1428h0M517 1439h0M376 1447h0M539 1440h0M628 1423h0M417 1451h0M337 1443h0M619 1419h0M438 1451h0M565 1434h0M420 1449h0M590 1403h0M492 1449h0M614 1428h0M433 1452h0M293 1436h0M469 1446h0M482 1447h0M382 1447h0M380 1447h0M365 1442h0M649 1424h0M555 1411h0M612 1416h0M547 1441h0M595 1402h0M579 1382h0M377 1447h0M700 1401h0M627 1390h0M656 1413h0M572 1430h0M431 1452h0M525 1429h0M546 1418h0M472 1449h0M248 1428h0M420 1451h0M590 1426h0M507 1443h0M421 1450h0M642 1397h0M552 1428h0M607 1423h0M518 1445h0M532 1438h0M444 1452h0M598 1426h0M585 1419h0M526 1439h0M603 1410h0M583 1427h0M278 1433h0M503 1445h0M281 1434h0M628 1407h0M629 1427h0M539 1437h0M410 1449h0M256 1429h0M563 1394h0M406 1449h0M491 1444h0M345 1436h0M575 1438h0M555 1425h0M519 1437h0M397 1449h0M527 1442h0M623 1426h0M547 1440h0M289 1434h0M626 1413h0M409 1450h0M352 1440h0M299 1434h0M583 1427h0M533 1443h0M372 1445h0M552 1433h0M440 1453h0M484 1448h0M368 1441h0M596 1435h0M426 1450h0M498 1445h0M624 1407h0M432 1451h0M408 1448h0M354 1433h0M538 1441h0M510 1447h0M452 1452h0M477 1450h0M700 1390h0M618 1427h0M322 1439h0M405 1448h0M511 1444h0M628 1378h0M613 1418h0M573 1383h0M364 1446h0M648 1410h0M379 1447h0M265 1432h0M617 1405h0M351 1441h0M407 1450h0M485 1449h0M373 1445h0M557 1424h0M582 1411h0M597 1435h0M521 1431h0M334 1438h0M557 1427h0M591 1432h0M604 1408h0M443 1453h0M493 1445h0M289 1436h0M391 1447h0M603 1411h0M347 1435h0M619 1428h0M587 1402h0M432 1452h0M595 1413h0M433 1451h0M526 1444h0M450 1451h0M598 1429h0M492 1445h0M564 1418h0M544 1432h0M593 1429h0M516 1433h0M504 1445h0M499 1441h0M613 1419h0M583 1410h0M437 1452h0M599 1427h0M464 1451h0M621 1421h0M512 1446h0M579 1436h0M345 1434h0M626 1425h0M509 1436h0M531 1441h0M476 1450h0M718 1409h0M496 1448h0M371 1442h0M566 1423h0M556 1424h0M542 1438h0M497 1449h0M535 1443h0M406 1448h0M590 1426h0M494 1449h0M445 1451h0M462 1449h0M337 1438h0M548 1427h0M331 1442h0M508 1434h0M519 1441h0M502 1443h0M637 1426h0M363 1446h0M418 1449h0M427 1450h0M252 1431h0M511 1447h0M588 1424h0M347 1437h0M544 1421h0M632 1385h0M607 1410h0M445 1453h0M471 1451h0M535 1425h0M464 1449h0M364 1439h0M577 1426h0M391 1444h0M336 1435h0M375 1446h0M603 1426h0M309 1437h0M413 1448h0M404 1449h0M579 1421h0M268 1420h0M418 1451h0M526 1445h0M403 1448h0M398 1448h0M469 1448h0M679 1414h0M417 1451h0M644 1409h0M278 1434h0M447 1450h0M596 1414h0M592 1418h0M426 1452h0M492 1443h0M417 1450h0M300 1435h0M459 1451h0M520 1434h0M577 1428h0M629 1404h0M697 1407h0M550 1424h0M420 1450h0M590 1413h0M552 1424h0M289 1433h0M344 1443h0M578 1438h0M598 1415h0M690 1404h0M614 1416h0M367 1440h0M382 1448h0M579 1426h0M431 1450h0M364 1441h0M562 1429h0M310 1437h0M571 1410h0M277 1432h0M368 1446h0M374 1444h0M433 1452h0M334 1435h0M534 1440h0M482 1448h0M582 1422h0M652 1419h0M249 1429h0M535 1426h0M557 1405h0M612 1404h0M350 1435h0M510 1443h0M533 1442h0M454 1450h0M579 1420h0M455 1452h0M645 1423h0M646 1415h0M509 1442h0M588 1428h0M362 1445h0M501 1438h0M580 1425h0M555 1441h0M591 1429h0M506 1436h0M454 1453h0M447 1452h0M670 1420h0M371 1443h0M456 1450h0M612 1432h0M366 1440h0M575 1401h0M518 1442h0M393 1447h0M534 1444h0M555 1410h0M494 1442h0M578 1435h0M434 1451h0M407 1448h0M500 1447h0M626 1416h0M592 1422h0M623 1428h0M462 1451h0M585 1435h0M432 1452h0M300 1436h0M567 1429h0M578 1404h0M386 1447h0M427 1452h0M332 1437h0M473 1449h0M572 1435h0M471 1447h0M335 1434h0M425 1450h0M387 1448h0M644 1423h0M594 1429h0M575 1437h0M376 1444h0M521 1432h0M407 1450h0M617 1418h0M485 1446h0M342 1443h0M417 1450h0M645 1419h0M630 1424h0M340 1441h0M498 1445h0M517 1445h0M615 1430h0M418 1450h0M539 1436h0M462 1451h0M556 1425h0M559 1439h0M481 1448h0M587 1418h0M626 1419h0M407 1449h0M514 1444h0M616 1415h0M557 1426h0M406 1449h0M591 1419h0M615 1418h0M566 1439h0M509 1440h0M621 1414h0M589 1424h0M562 1422h0M506 1440h0M591 1411h0M604 1418h0M261 1430h0M461 1452h0M527 1421h0M480 1445h0M595 1427h0M571 1419h0M553 1434h0M500 1444h0M488 1449h0M560 1426h0M538 1425h0M514 1444h0M305 1437h0M461 1450h0M432 1452h0M621 1420h0M633 1425h0M524 1437h0M432 1452h0M462 1452h0M459 1452h0M431 1451h0M513 1447h0M642 1376h0M589 1426h0M328 1439h0M286 1435h0M464 1450h0M526 1442h0M565 1420h0M433 1452h0M403 1448h0M592 1431h0M291 1435h0M291 1429h0M253 1428h0M501 1447h0M617 1420h0M325 1438h0M292 1435h0M478 1446h0M676 1394h0M606 1430h0M482 1447h0M540 1438h0M382 1448h0M412 1447h0M460 1450h0M593 1434h0M596 1422h0M595 1413h0M511 1444h0M596 1398h0M388 1445h0M420 1450h0M410 1449h0M524 1442h0M427 1451h0M615 1430h0M519 1437h0M284 1433h0M416 1450h0M562 1419h0M552 1422h0M661 1402h0M528 1426h0M714 1413h0M474 1450h0M592 1387h0M572 1410h0M471 1451h0M471 1451h0M350 1444h0M316 1437h0M684 1404h0M351 1439h0M449 1453h0M684 1400h0M483 1446h0M456 1450h0M323 1440h0M727 1400h0M727 1415h0M727 1412h0M727 1406h0M727 1395h0M727 1414h0M727 1412h0M727 1415h0M727 1389h0M727 1393h0M727 1412h0M727 1416h0M727 1405h0M727 1409h0M727 1410h0M727 1414h0M727 1387h0M727 1415h0M727 1416h0M727 1399h0M726.6 1299.5h0M676.6 1302.2h0M653.9 1319.5h0M641.2 1336.8h0M639.3 1346.4h0M667.0 1349.1h0M687.0 1348.4h0M726.6 1343.4h0M726.6 1349.9h0M572.8 1373.0h0M578.6 1375.3h0M603.6 1370.3h0M647.8 1369.5h0M640.1 1374.1h0M634.3 1378.0h0M652.4 1379.9h0M707.3 1377.2h0M726.6 1379.1h0M683.5 1385.6h0M610.1 1386.8h0M586.3 1395.3h0M565.1 1399.1h0M709.3 1395.3h0M163.1 1389.1h0M169.6 1401.8h0M223.0 1384.9h0M208.8 1401.8h0M193.4 1405.6h0M226.9 1411.8h0M213.4 1422.9h0M217.3 1429.8h0M249.9 1432.9h0M269.1 1432.5h0M275.7 1422.9h0M296.1 1415.2h0M279.9 1435.6h0M324.9 1420.2h0M334.5 1422.2h0M317.2 1424.9h0M667.0 1432.9h0M538.2 1410.6h0M551.7 1414.5h0" fill="none" stroke="#EFE550" stroke-width="12.7" stroke-linecap="round"/>
<path d="M134.2 1402.2h620.8M599.7 1187.19v278.7" stroke="#000" stroke-width="5.5" fill="none"/>
<rect x="135.55" y="1188.54" width="618.10" height="276.00" fill="none" stroke="#303030" stroke-width="2.9"/>
</g>
<text x="444.6" y="1164.3" font-size="39.6" text-anchor="middle" fill="#1a1a1a" stroke="#1a1a1a" stroke-width=".45">Child. mal.</text>
<path d="M121.9 1453.4H134.2M121.9 1389.5H134.2M121.9 1325.5H134.2M121.9 1261.6H134.2M121.9 1197.6H134.2" stroke="#333" stroke-width="4.6" fill="none"/>
<text x="112.3" y="1466.9" font-size="39.6" text-anchor="end" fill="#000" stroke="#000" stroke-width=".45">0</text>
<text x="112.3" y="1403.0" font-size="39.6" text-anchor="end" fill="#000" stroke="#000" stroke-width=".45">3</text>
<text x="112.3" y="1339.0" font-size="39.6" text-anchor="end" fill="#000" stroke="#000" stroke-width=".45">6</text>
<text x="112.3" y="1275.1" font-size="39.6" text-anchor="end" fill="#000" stroke="#000" stroke-width=".45">9</text>
<text x="112.3" y="1211.1" font-size="39.6" text-anchor="end" fill="#000" stroke="#000" stroke-width=".45">12</text>
<g clip-path="url(#c10)">
<path d="M1260 1395h0M1127 1449h0M1186 1432h0M1123 1448h0M1036 1436h0M1238 1421h0M961 1427h0M1183 1430h0M977 1431h0M1106 1448h0M1130 1449h0M1045 1447h0M958 1415h0M1163 1446h0M1120 1444h0M1164 1439h0M1103 1452h0M1186 1416h0M1183 1442h0M1086 1453h0M1223 1403h0M1227 1426h0M1113 1447h0M1219 1418h0M1085 1453h0M1160 1446h0M1143 1437h0M1207 1417h0M1188 1439h0M1272 1409h0M1066 1449h0M1029 1446h0M948 1437h0M1223 1438h0M1067 1448h0M1097 1451h0M1072 1446h0M1139 1438h0M1237 1437h0M1053 1450h0M1188 1436h0M1269 1417h0M1253 1414h0M1015 1442h0M1057 1451h0M1249 1428h0M1162 1427h0M1002 1437h0M1125 1448h0M1268 1429h0M1180 1431h0M1218 1434h0M1246 1429h0M1207 1428h0M1268 1414h0M1172 1444h0M1277 1427h0M1083 1450h0M1189 1425h0M1001 1440h0M1271 1427h0M1147 1445h0M1274 1424h0M1110 1451h0M1127 1446h0M1142 1448h0M1084 1453h0M1175 1438h0M1081 1449h0M982 1440h0M1045 1447h0M1170 1438h0M1123 1449h0M962 1410h0M992 1443h0M1196 1401h0M1022 1445h0M1038 1448h0M1099 1453h0M929 1426h0M1127 1442h0M1258 1434h0M993 1441h0M1279 1410h0M1034 1447h0M1226 1428h0M1085 1451h0M1037 1447h0M954 1436h0M1054 1450h0M977 1440h0M1159 1441h0M1157 1443h0M1040 1446h0M1234 1430h0M1127 1448h0M1197 1443h0M1223 1422h0M987 1433h0M1054 1447h0M1038 1441h0M1260 1423h0M1228 1425h0M991 1427h0M970 1421h0M1027 1442h0M968 1438h0M1015 1438h0M1239 1429h0M1070 1452h0M1267 1404h0M1080 1452h0M964 1434h0M1256 1420h0M1248 1435h0M1298 1418h0M1303 1417h0M1302 1412h0M1057 1450h0M991 1424h0M902 1423h0M1263 1427h0M1248 1414h0M1050 1447h0M1098 1451h0M1237 1422h0M1104 1449h0M1090 1453h0M1182 1433h0M1055 1450h0M1146 1441h0M1237 1427h0M1163 1444h0M1098 1448h0M1092 1452h0M1125 1444h0M1111 1448h0M1160 1444h0M1222 1436h0M976 1441h0M1242 1407h0M1099 1452h0M1110 1451h0M956 1437h0M1223 1403h0M1050 1446h0M1012 1436h0M1274 1421h0M1220 1431h0M1194 1433h0M1036 1447h0M1150 1444h0M1111 1448h0M994 1436h0M1341 1409h0M1216 1431h0M1142 1446h0M1011 1436h0M969 1440h0M1053 1447h0M1244 1428h0M968 1425h0M1100 1450h0M987 1432h0M1178 1442h0M1021 1444h0M1060 1445h0M1037 1447h0M1067 1450h0M1205 1435h0M989 1443h0M993 1443h0M1129 1444h0M1202 1424h0M1061 1446h0M1236 1419h0M1225 1406h0M1110 1448h0M1031 1438h0M1165 1433h0M964 1436h0M1141 1449h0M1278 1412h0M1120 1444h0M1215 1437h0M1104 1449h0M941 1421h0M1236 1413h0M982 1432h0M1214 1435h0M1217 1406h0M1081 1453h0M1145 1441h0M1051 1450h0M1276 1430h0M1091 1453h0M942 1437h0M1271 1415h0M1037 1447h0M1138 1446h0M1137 1448h0M955 1433h0M1009 1440h0M1152 1432h0M848 1411h0M1183 1438h0M1180 1441h0M1010 1436h0M916 1419h0M992 1419h0M1247 1417h0M1045 1447h0M1082 1451h0M1118 1450h0M975 1417h0M1014 1430h0M928 1419h0M1038 1449h0M1226 1435h0M1030 1442h0M1220 1420h0M1214 1417h0M1132 1446h0M1278 1431h0M1074 1450h0M1171 1427h0M1109 1451h0M1062 1447h0M1224 1411h0M1019 1438h0M1039 1441h0M1110 1448h0M1136 1442h0M1020 1442h0M1105 1451h0M1202 1438h0M1015 1440h0M1070 1450h0M1049 1448h0M1038 1448h0M1269 1414h0M1205 1435h0M1038 1449h0M1136 1446h0M1261 1421h0M967 1440h0M1079 1447h0M1181 1434h0M1242 1428h0M1055 1444h0M1074 1452h0M1249 1409h0M1214 1425h0M978 1430h0M1248 1417h0M1093 1451h0M1177 1419h0M1014 1437h0M1103 1452h0M1201 1409h0M980 1442h0M989 1429h0M1060 1447h0M1067 1450h0M1023 1444h0M1086 1452h0M1187 1437h0M1117 1447h0M1223 1398h0M1267 1424h0M1091 1450h0M1081 1451h0M1018 1440h0M1140 1438h0M893 1426h0M1114 1448h0M1023 1442h0M1352 1414h0M1020 1432h0M1070 1450h0M1222 1425h0M986 1428h0M1144 1439h0M984 1443h0M1076 1452h0M1201 1423h0M1116 1450h0M984 1437h0M1141 1447h0M1038 1439h0M979 1438h0M1152 1432h0M908 1429h0M1204 1441h0M1190 1440h0M908 1416h0M1243 1430h0M1002 1424h0M980 1434h0M1132 1435h0M1100 1447h0M1033 1447h0M1155 1442h0M1181 1442h0M1208 1426h0M977 1425h0M1183 1436h0M1226 1423h0M1073 1452h0M971 1422h0M1233 1431h0M1126 1442h0M1225 1416h0M1010 1439h0M1016 1441h0M1197 1434h0M1145 1440h0M1214 1413h0M1096 1449h0M1267 1412h0M1011 1436h0M1116 1449h0M986 1435h0M1208 1419h0M1087 1452h0M982 1436h0M1126 1446h0M1195 1438h0M1237 1437h0M1181 1437h0M1073 1451h0M1183 1438h0M1055 1449h0M1051 1447h0M1088 1451h0M1207 1424h0M1119 1450h0M898 1422h0M932 1432h0M1203 1432h0M1005 1443h0M1239 1415h0M1320 1409h0M1177 1436h0M1172 1433h0M1002 1443h0M1090 1453h0M1196 1416h0M1089 1453h0M1242 1432h0M1171 1435h0M1229 1422h0M878 1415h0M1063 1449h0M1220 1420h0M1305 1407h0M1238 1429h0M1077 1452h0M1075 1451h0M1019 1442h0M1037 1441h0M1112 1450h0M992 1439h0M1090 1451h0M1231 1432h0M1186 1440h0M1074 1449h0M1082 1452h0M992 1430h0M1168 1420h0M1295 1426h0M1080 1452h0M1150 1442h0M1139 1449h0M1125 1449h0M1072 1451h0M1278 1422h0M1148 1437h0M924 1418h0M1235 1404h0M1142 1443h0M1067 1446h0M1183 1437h0M950 1437h0M894 1418h0M898 1431h0M1220 1432h0M1005 1438h0M1089 1453h0M1109 1451h0M1057 1449h0M1146 1436h0M1022 1436h0M1078 1449h0M1027 1444h0M1107 1447h0M948 1412h0M1144 1447h0M976 1439h0M1172 1441h0M954 1434h0M1141 1437h0M1231 1416h0M1001 1442h0M1255 1434h0M1198 1420h0M1147 1445h0M1075 1450h0M1033 1448h0M1135 1446h0M1113 1447h0M1059 1446h0M1191 1438h0M921 1418h0M1211 1401h0M1223 1423h0M971 1429h0M1272 1420h0M1167 1435h0M1177 1437h0M1071 1452h0M1206 1438h0M1051 1449h0M1223 1411h0M1065 1451h0M1123 1448h0M1187 1439h0M1085 1453h0M1266 1420h0M1136 1433h0M1288 1421h0M906 1389h0M1104 1450h0M1026 1441h0M999 1432h0M1023 1436h0M1110 1447h0M1002 1443h0M1168 1437h0M1193 1429h0M1046 1449h0M1261 1422h0M1251 1424h0M1028 1442h0M998 1442h0M1171 1427h0M1213 1430h0M1004 1440h0M1139 1448h0M1186 1415h0M967 1432h0M1168 1427h0M1104 1452h0M1116 1443h0M1002 1444h0M1138 1435h0M1124 1450h0M1138 1442h0M1067 1450h0M1104 1450h0M1091 1451h0M927 1431h0M1250 1435h0M1247 1410h0M1089 1452h0M1192 1436h0M1132 1441h0M1022 1441h0M1167 1437h0M968 1421h0M1214 1431h0M1189 1442h0M946 1432h0M937 1430h0M1038 1442h0M1156 1445h0M1077 1451h0M1139 1449h0M1015 1436h0M997 1422h0M1010 1436h0M1201 1436h0M1199 1436h0M1053 1449h0M1219 1429h0M1287 1385h0M1174 1431h0M1039 1447h0M1185 1424h0M1082 1452h0M1151 1441h0M1165 1444h0M941 1423h0M1253 1428h0M1111 1447h0M1155 1441h0M982 1437h0M1202 1428h0M941 1433h0M1076 1449h0M1145 1439h0M1087 1452h0M1145 1441h0M1093 1449h0M1000 1435h0M995 1444h0M1191 1418h0M1215 1412h0M1080 1450h0M1128 1445h0M1178 1437h0M1160 1430h0M1074 1449h0M1213 1408h0M1115 1448h0M1094 1449h0M1230 1402h0M1220 1437h0M982 1430h0M968 1440h0M1208 1434h0M1162 1436h0M1042 1449h0M900 1413h0M1220 1439h0M1219 1406h0M1100 1451h0M1216 1384h0M1126 1451h0M1116 1446h0M1113 1451h0M1238 1435h0M1053 1447h0M926 1428h0M1314 1422h0M1143 1427h0M1314 1419h0M1162 1441h0M1103 1450h0M1236 1435h0M1009 1445h0M1269 1422h0M1161 1429h0M1075 1450h0M1011 1434h0M1050 1448h0M1238 1417h0M1020 1435h0M974 1440h0M1194 1411h0M1049 1444h0M1155 1443h0M1191 1394h0M1177 1427h0M1108 1449h0M1146 1438h0M1068 1449h0M1232 1416h0M1303 1421h0M1185 1401h0M946 1433h0M1240 1420h0M1118 1450h0M1248 1417h0M980 1428h0M1040 1444h0M1172 1433h0M1322 1402h0M991 1426h0M1052 1445h0M1109 1451h0M1066 1448h0M1093 1452h0M1063 1448h0M1157 1432h0M1099 1453h0M1124 1447h0M1324 1401h0M828 1412h0M1023 1437h0M1031 1440h0M1115 1444h0M1313 1407h0M1057 1447h0M1062 1451h0M1021 1431h0M1119 1447h0M1147 1444h0M940 1433h0M1024 1443h0M1155 1430h0M1218 1387h0M1073 1450h0M1116 1444h0M1134 1433h0M1205 1418h0M1236 1418h0M929 1427h0M1166 1437h0M997 1428h0M1117 1450h0M1226 1397h0M1172 1429h0M1097 1452h0M1034 1437h0M1029 1440h0M1046 1444h0M1028 1446h0M1258 1412h0M1073 1452h0M1019 1433h0M1158 1441h0M958 1428h0M1140 1448h0M1214 1435h0M1226 1438h0M1191 1427h0M1146 1444h0M1059 1448h0M1185 1444h0M959 1433h0M1054 1449h0M1023 1443h0M952 1413h0M1078 1452h0M1071 1451h0M913 1429h0M1074 1450h0M888 1426h0M1235 1436h0M934 1433h0M984 1436h0M1082 1451h0M1056 1450h0M981 1442h0M1256 1416h0M1065 1451h0M1049 1446h0M1090 1453h0M1034 1444h0M1311 1414h0M1059 1449h0M1298 1407h0M1036 1447h0M1025 1444h0M1141 1429h0M1225 1413h0M1085 1453h0M1092 1452h0M1236 1402h0M1113 1450h0M1060 1448h0M1215 1422h0M1184 1436h0M947 1405h0M1047 1449h0M1075 1449h0M975 1442h0M1299 1385h0M1021 1439h0M1126 1442h0M922 1418h0M1199 1442h0M1036 1447h0M1044 1444h0M1083 1453h0M931 1411h0M1022 1434h0M1076 1448h0M1208 1441h0M1123 1450h0M1006 1443h0M1245 1433h0M1326 1420h0M1197 1415h0M1036 1442h0M1005 1430h0M1264 1428h0M988 1428h0M1254 1434h0M979 1422h0M954 1432h0M889 1414h0M1068 1447h0M1232 1430h0M1165 1444h0M1170 1433h0M1150 1430h0M1019 1428h0M975 1436h0M1114 1447h0M1298 1408h0M1104 1451h0M1148 1439h0M1118 1448h0M1127 1443h0M1257 1406h0M1234 1424h0M1011 1444h0M1035 1440h0M1372 1411h0M1372 1409h0M1372 1397h0M1372 1411h0M1372 1409h0M1372 1409h0M1371.6 1325.3h0M1349.3 1332.6h0M1190.9 1347.6h0M1331.2 1350.7h0M1324.3 1362.6h0M1240.9 1364.5h0M1254.3 1366.4h0M1249.3 1370.3h0M1278.2 1371.0h0M1371.6 1371.0h0M1309.3 1376.0h0M1315.8 1376.8h0M1329.3 1378.0h0M1321.6 1380.6h0M1256.2 1379.9h0M1265.9 1381.8h0M1371.6 1379.9h0M1242.8 1388.3h0M1224.7 1391.4h0M1301.6 1389.5h0M1314.7 1392.6h0M1281.2 1389.5h0M1273.5 1390.6h0M1005.6 1388.7h0M933.4 1382.2h0M897.2 1385.3h0M885.7 1390.6h0M807.3 1396.0h0M869.9 1398.3h0M869.9 1409.9h0M821.9 1413.3h0M840.3 1417.2h0M883.4 1431.0h0M896.8 1431.8h0M923.8 1437.5h0M891.1 1413.3h0M910.3 1411.4h0M926.8 1409.5h0M946.8 1409.5h0M984.1 1413.3h0M995.6 1409.5h0M997.9 1414.5h0M969.9 1417.5h0M964.1 1420.2h0M1202.4 1405.6h0M1371.6 1389.5h0M1371.6 1406.8h0M1371.6 1416.4h0M1340.8 1397.9h0M1350.4 1399.1h0M1362.0 1395.3h0" fill="none" stroke="#5B87CF" stroke-width="12.7" stroke-linecap="round"/>
<path d="M779.2 1397.9h620.8M1143.6 1187.19v278.7" stroke="#000" stroke-width="5.5" fill="none"/>
<rect x="780.55" y="1188.54" width="618.10" height="276.00" fill="none" stroke="#303030" stroke-width="2.9"/>
</g>
<text x="1089.6" y="1164.3" font-size="39.6" text-anchor="middle" fill="#1a1a1a" stroke="#1a1a1a" stroke-width=".45">T2D</text>
<g clip-path="url(#c11)">
<path d="M1653 1439h0M1661 1445h0M1790 1444h0M1837 1443h0M1871 1427h0M1631 1401h0M1880 1424h0M1963 1417h0M1694 1445h0M1673 1438h0M1731 1451h0M1855 1435h0M1613 1426h0M1759 1443h0M1753 1451h0M1937 1412h0M1718 1450h0M1822 1424h0M1863 1428h0M1612 1408h0M1899 1406h0M1794 1447h0M1903 1419h0M1774 1439h0M1924 1392h0M1924 1425h0M1696 1446h0M1632 1431h0M1684 1446h0M1772 1450h0M1910 1428h0M1665 1438h0M1870 1431h0M1676 1448h0M1615 1427h0M1664 1438h0M1635 1440h0M1745 1450h0M1781 1432h0M1877 1431h0M1670 1437h0M1879 1432h0M1743 1449h0M1894 1418h0M1621 1429h0M1806 1411h0M1804 1431h0M1687 1441h0M1683 1437h0M1870 1403h0M1892 1421h0M1749 1452h0M1889 1401h0M1768 1443h0M1593 1429h0M1694 1448h0M1847 1398h0M1876 1408h0M1879 1431h0M1688 1441h0M1806 1430h0M1635 1429h0M1734 1452h0M1576 1433h0M1740 1451h0M1855 1441h0M1841 1413h0M1663 1427h0M1866 1427h0M1808 1425h0M1626 1437h0M1837 1412h0M1574 1422h0M1574 1434h0M1847 1438h0M1806 1436h0M1880 1429h0M1827 1437h0M1837 1425h0M1832 1417h0M1694 1449h0M1787 1439h0M1781 1440h0M1620 1412h0M1702 1449h0M1684 1449h0M1829 1423h0M1582 1425h0M1786 1443h0M1755 1448h0M1786 1444h0M1653 1434h0M1625 1423h0M1748 1447h0M1781 1441h0M1546 1420h0M1743 1450h0M1599 1416h0M1861 1413h0M1652 1436h0M1903 1425h0M1612 1437h0M1876 1425h0M1882 1398h0M1607 1438h0M1887 1422h0M1890 1412h0M1823 1434h0M1879 1425h0M1729 1453h0M1836 1431h0M1814 1429h0M1860 1404h0M1856 1417h0M1811 1434h0M1908 1386h0M1908 1360h0M1855 1434h0M1775 1447h0M1969 1404h0M1791 1446h0M1899 1434h0M1853 1437h0M1621 1419h0M1908 1408h0M1855 1432h0M1608 1440h0M1765 1443h0M1786 1444h0M1864 1427h0M1647 1442h0M1923 1414h0M1674 1438h0M1802 1435h0M1718 1449h0M1695 1441h0M1996 1414h0M1789 1447h0M1906 1426h0M1759 1451h0M1730 1450h0M1839 1401h0M1631 1426h0M1792 1445h0M1734 1452h0M1602 1406h0M1836 1439h0M1718 1448h0M1829 1419h0M1820 1445h0M1683 1432h0M1739 1449h0M1975 1405h0M1946 1419h0M1961 1398h0M1686 1446h0M1837 1435h0M1741 1453h0M1871 1390h0M1820 1435h0M1631 1443h0M1902 1420h0M1880 1406h0M1872 1428h0M1654 1445h0M1888 1427h0M1822 1435h0M1623 1438h0M1790 1430h0M1681 1442h0M1668 1445h0M1578 1435h0M1586 1388h0M1783 1439h0M1683 1438h0M1704 1446h0M1628 1441h0M1634 1430h0M1585 1424h0M1617 1417h0M1829 1418h0M1961 1360h0M1617 1420h0M1842 1384h0M1793 1446h0M1713 1447h0M1656 1434h0M1613 1394h0M1695 1446h0M1707 1450h0M1750 1451h0M1601 1432h0M1898 1429h0M1711 1450h0M1700 1447h0M1676 1438h0M1646 1439h0M1809 1441h0M1800 1445h0M1606 1436h0M1570 1428h0M1955 1425h0M1882 1365h0M1736 1453h0M1928 1422h0M1898 1398h0M1901 1430h0M1781 1436h0M1833 1401h0M1941 1379h0M1672 1435h0M1878 1411h0M1830 1415h0M1999 1417h0M1852 1439h0M1680 1440h0M1822 1428h0M1610 1435h0M1867 1385h0M1698 1443h0M1686 1442h0M1722 1452h0M1826 1436h0M1810 1444h0M1496 1406h0M1872 1390h0M1793 1448h0M1796 1448h0M1776 1446h0M1902 1366h0M1914 1426h0M1889 1413h0M1931 1426h0M1875 1402h0M1765 1440h0M1603 1422h0M1754 1447h0M1722 1452h0M1804 1429h0M1897 1420h0M1611 1434h0M1857 1429h0M1654 1444h0M1902 1423h0M1853 1436h0M1810 1446h0M1875 1408h0M1884 1427h0M1779 1440h0M1733 1450h0M1861 1417h0M1736 1451h0M1607 1399h0M1831 1415h0M1700 1449h0M1802 1428h0M1722 1452h0M1702 1450h0M1782 1445h0M1732 1451h0M1663 1438h0M1927 1425h0M1617 1433h0M1782 1432h0M1841 1380h0M1878 1411h0M1904 1367h0M1923 1410h0M1922 1421h0M1832 1434h0M1878 1421h0M1664 1429h0M1854 1426h0M1799 1442h0M1711 1448h0M1753 1448h0M1876 1414h0M1565 1428h0M1808 1437h0M1843 1442h0M1893 1416h0M1990 1409h0M1579 1397h0M1756 1449h0M1925 1407h0M1798 1431h0M1647 1441h0M1943 1419h0M1740 1453h0M1648 1433h0M1759 1446h0M1843 1427h0M1764 1448h0M1772 1444h0M1775 1442h0M1742 1449h0M1748 1449h0M1857 1440h0M1671 1437h0M1863 1415h0M1655 1428h0M1870 1430h0M1690 1448h0M1770 1443h0M1762 1442h0M1728 1448h0M1813 1430h0M1906 1411h0M1821 1428h0M1679 1441h0M1690 1447h0M1879 1427h0M1795 1448h0M1513 1386h0M1871 1419h0M1896 1428h0M1800 1439h0M1577 1428h0M1830 1441h0M1832 1442h0M1849 1432h0M1808 1434h0M1655 1441h0M2000 1406h0M1602 1416h0M1746 1453h0M1812 1434h0M1845 1429h0M1730 1451h0M1730 1453h0M1753 1450h0M1722 1447h0M1669 1426h0M1828 1420h0M1951 1411h0M1762 1450h0M1819 1441h0M1761 1451h0M1791 1430h0M1673 1435h0M1876 1403h0M1801 1445h0M1637 1440h0M1705 1443h0M1550 1411h0M1727 1450h0M1932 1417h0M1854 1428h0M1904 1433h0M1658 1434h0M1765 1448h0M1757 1450h0M1724 1451h0M1915 1409h0M1762 1439h0M1774 1442h0M1840 1400h0M1864 1403h0M1847 1419h0M1635 1397h0M1766 1443h0M1610 1430h0M1810 1443h0M1915 1424h0M1674 1431h0M1720 1451h0M1630 1427h0M1639 1429h0M1734 1451h0M1609 1431h0M1942 1388h0M1633 1421h0M1653 1445h0M1858 1422h0M1937 1411h0M1884 1405h0M1829 1433h0M1724 1453h0M1897 1415h0M1688 1438h0M1696 1448h0M1820 1424h0M1848 1378h0M1852 1408h0M1644 1433h0M1653 1429h0M1775 1435h0M1784 1443h0M1714 1448h0M1802 1447h0M1821 1445h0M1717 1451h0M1757 1446h0M1731 1453h0M1645 1440h0M1695 1450h0M1915 1425h0M1666 1436h0M1692 1441h0M1897 1426h0M1684 1448h0M1790 1437h0M1597 1434h0M1699 1449h0M1712 1445h0M1782 1446h0M1614 1421h0M1712 1447h0M1773 1440h0M1800 1443h0M1778 1435h0M1752 1450h0M1748 1452h0M1965 1419h0M1620 1409h0M1651 1428h0M1677 1440h0M1629 1443h0M1667 1442h0M1796 1433h0M1742 1448h0M1816 1437h0M1571 1415h0M1769 1447h0M1729 1452h0M1842 1442h0M1942 1378h0M1717 1447h0M1784 1443h0M1826 1434h0M1758 1448h0M1777 1443h0M1937 1424h0M1958 1392h0M1694 1437h0M1805 1419h0M1917 1399h0M1685 1445h0M1828 1442h0M1788 1438h0M1626 1429h0M1843 1442h0M1646 1420h0M1741 1451h0M1825 1436h0M1790 1446h0M1798 1426h0M1890 1433h0M1637 1437h0M1701 1447h0M1841 1419h0M1631 1430h0M1701 1449h0M1761 1444h0M1838 1383h0M1680 1446h0M1664 1444h0M1644 1434h0M1723 1451h0M1606 1420h0M1667 1423h0M1849 1433h0M1715 1448h0M1612 1393h0M1824 1417h0M2011 1410h0M1770 1444h0M1698 1447h0M1596 1429h0M2010 1400h0M1794 1447h0M1812 1444h0M1819 1415h0M1915 1414h0M1691 1450h0M1539 1429h0M1833 1439h0M1890 1417h0M1946 1406h0M1940 1385h0M1814 1444h0M1744 1451h0M1936 1409h0M1571 1433h0M1608 1404h0M1711 1451h0M1811 1446h0M1841 1421h0M1834 1418h0M1814 1441h0M1844 1438h0M1571 1417h0M1837 1442h0M1786 1445h0M1805 1423h0M1898 1423h0M1878 1405h0M1655 1443h0M1897 1433h0M1573 1433h0M1756 1446h0M1817 1445h0M1808 1429h0M1712 1449h0M1624 1431h0M1681 1439h0M1747 1447h0M1604 1430h0M1683 1439h0M1770 1440h0M1802 1439h0M1796 1426h0M1739 1451h0M1783 1437h0M1724 1451h0M1726 1452h0M1868 1437h0M1619 1428h0M1689 1435h0M1604 1438h0M1808 1426h0M1717 1451h0M1758 1451h0M1821 1428h0M1673 1429h0M1737 1452h0M2015 1367h0M1794 1436h0M2003 1410h0M1853 1422h0M1935 1365h0M1818 1442h0M1781 1445h0M1797 1442h0M1887 1419h0M1858 1425h0M1906 1398h0M1605 1410h0M1811 1428h0M1843 1437h0M1821 1408h0M1883 1394h0M1791 1439h0M1890 1404h0M1749 1448h0M1959 1424h0M1967 1421h0M1901 1418h0M1929 1415h0M1722 1449h0M1908 1428h0M1598 1432h0M1789 1444h0M1789 1448h0M1926 1413h0M1566 1427h0M1665 1446h0M1581 1436h0M1847 1426h0M1710 1448h0M1844 1424h0M1935 1406h0M1802 1435h0M1626 1436h0M1739 1451h0M1877 1427h0M1641 1427h0M1788 1443h0M1760 1450h0M1916 1422h0M1748 1452h0M1747 1452h0M1832 1411h0M1803 1446h0M1738 1452h0M1780 1448h0M1778 1443h0M1657 1441h0M1976 1395h0M1823 1444h0M1726 1453h0M1674 1439h0M1951 1408h0M1841 1425h0M1902 1413h0M1926 1411h0M1598 1421h0M1925 1399h0M1804 1447h0M1875 1425h0M1726 1453h0M1774 1446h0M1674 1430h0M1916 1414h0M1890 1430h0M1819 1411h0M1649 1437h0M1619 1429h0M1915 1418h0M1718 1449h0M1785 1442h0M1622 1441h0M1672 1445h0M1745 1453h0M1743 1452h0M1875 1411h0M1707 1447h0M1878 1423h0M1777 1447h0M1816 1409h0M1785 1441h0M1791 1440h0M1820 1426h0M1854 1413h0M1788 1449h0M1850 1411h0M1612 1440h0M1775 1443h0M1968 1406h0M1547 1414h0M1809 1444h0M1798 1441h0M1667 1446h0M1857 1422h0M1842 1438h0M1991 1417h0M1902 1417h0M1839 1428h0M1694 1446h0M1861 1405h0M1910 1387h0M1877 1437h0M1808 1422h0M1866 1425h0M1602 1434h0M1743 1453h0M1938 1417h0M1904 1415h0M1919 1419h0M1849 1415h0M1741 1450h0M1875 1438h0M1774 1445h0M1811 1412h0M1841 1432h0M1617 1424h0M1609 1432h0M1780 1443h0M1760 1449h0M1921 1431h0M1797 1425h0M1800 1442h0M1818 1437h0M1673 1438h0M1682 1442h0M1938 1390h0M1690 1445h0M1737 1452h0M1788 1437h0M1720 1452h0M1616 1429h0M1903 1403h0M1996 1413h0M1680 1442h0M1718 1450h0M1805 1439h0M1623 1409h0M1819 1439h0M1666 1437h0M1837 1441h0M1736 1453h0M1871 1433h0M1715 1452h0M1801 1434h0M1764 1446h0M1976 1422h0M1818 1423h0M1979 1407h0M1703 1443h0M1926 1407h0M1840 1418h0M1951 1417h0M1896 1429h0M1651 1438h0M1540 1405h0M1656 1439h0M1734 1453h0M1703 1449h0M1705 1444h0M1620 1436h0M1615 1404h0M1567 1420h0M1845 1413h0M1858 1440h0M1673 1446h0M1670 1441h0M1617 1440h0M1802 1433h0M1840 1433h0M1639 1428h0M1651 1442h0M1783 1446h0M1959 1405h0M1927 1420h0M1862 1419h0M1906 1389h0M1919 1426h0M1758 1446h0M1714 1447h0M1974 1418h0M1692 1447h0M1771 1447h0M1905 1422h0M1816 1431h0M1637 1437h0M1907 1418h0M1922 1405h0M1767 1448h0M1847 1434h0M1720 1451h0M1781 1442h0M1823 1425h0M1900 1416h0M1993 1403h0M1848 1433h0M1671 1445h0M1949 1413h0M1870 1428h0M1767 1445h0M1889 1430h0M1947 1419h0M1917 1429h0M1875 1403h0M1662 1431h0M1780 1448h0M1722 1450h0M1706 1448h0M1782 1433h0M1684 1445h0M1799 1434h0M1595 1388h0M1664 1430h0M1821 1434h0M1589 1428h0M1865 1423h0M1849 1441h0M1864 1422h0M1864 1401h0M1817 1441h0M1839 1416h0M1648 1443h0M1834 1436h0M1836 1423h0M1662 1439h0M1869 1425h0M1796 1442h0M1743 1452h0M1778 1446h0M1792 1417h0M1862 1407h0M1722 1448h0M1719 1451h0M1938 1403h0M1868 1384h0M1858 1418h0M1708 1447h0M1844 1413h0M1614 1430h0M1647 1407h0M1845 1441h0M1757 1449h0M1729 1451h0M1814 1438h0M1658 1420h0M1909 1422h0M1868 1428h0M1611 1436h0M1761 1445h0M1688 1440h0M1573 1435h0M1776 1440h0M1902 1368h0M1707 1449h0M1756 1449h0M1774 1449h0M1607 1423h0M1866 1436h0M1965 1403h0M1746 1448h0M1903 1434h0M1596 1429h0M1682 1439h0M1807 1444h0M1678 1444h0M1876 1370h0M1862 1422h0M1670 1437h0M1840 1425h0M1614 1434h0M1900 1419h0M1689 1444h0M1962 1364h0M1925 1387h0M1611 1416h0M1804 1434h0M1908 1412h0M1630 1396h0M1948 1424h0M1735 1453h0M1798 1444h0M1611 1414h0M1649 1434h0M1851 1435h0M1647 1441h0M1852 1440h0M1918 1418h0M1803 1446h0M1728 1452h0M1897 1397h0M1918 1360h0M1849 1431h0M1831 1440h0M1766 1447h0M1796 1436h0M1553 1425h0M1595 1434h0M1940 1416h0M1831 1396h0M1948 1413h0M1904 1412h0M2007 1412h0M1843 1423h0M1701 1447h0M1642 1441h0M1902 1427h0M1673 1445h0M1785 1436h0M1810 1446h0M1836 1439h0M1702 1451h0M1921 1416h0M1842 1412h0M1627 1443h0M1599 1423h0M1719 1446h0M1753 1448h0M1645 1431h0M1880 1414h0M1861 1377h0M1901 1419h0M1964 1415h0M1767 1444h0M1675 1447h0M1843 1436h0M1639 1442h0M1740 1452h0M1836 1434h0M1883 1434h0M1799 1434h0M1751 1446h0M1725 1452h0M1772 1440h0M1675 1441h0M1913 1420h0M1735 1453h0M1696 1440h0M1774 1445h0M1867 1430h0M1700 1442h0M1764 1449h0M1730 1451h0M1853 1418h0M1833 1424h0M1776 1433h0M1902 1432h0M1882 1433h0M1689 1438h0M1878 1393h0M1898 1362h0M1742 1452h0M1703 1450h0M1834 1438h0M1902 1404h0M1696 1450h0M1728 1453h0M1924 1428h0M1688 1438h0M1709 1449h0M1566 1433h0M1791 1448h0M1801 1428h0M1887 1419h0M1709 1442h0M1923 1431h0M1668 1443h0M1981 1409h0M1806 1431h0M1736 1452h0M1906 1420h0M1748 1451h0M1804 1446h0M1788 1433h0M1718 1448h0M1864 1411h0M1667 1425h0M1676 1430h0M1954 1420h0M1729 1453h0M1581 1425h0M1616 1431h0M1696 1447h0M1757 1450h0M1947 1418h0M1767 1447h0M1854 1376h0M1962 1422h0M1715 1451h0M1984 1410h0M1776 1448h0M1631 1434h0M1737 1453h0M1789 1445h0M1831 1401h0M1807 1436h0M1971 1393h0M1773 1445h0M1648 1419h0M1840 1432h0M1646 1416h0M1695 1440h0M1679 1442h0M1876 1426h0M1864 1416h0M1883 1423h0M1842 1377h0M1820 1426h0M1828 1434h0M1991 1404h0M1665 1442h0M1765 1449h0M2010 1406h0M1855 1402h0M1777 1442h0M1678 1435h0M1644 1442h0M1766 1445h0M1918 1413h0M1921 1359h0M1971 1411h0M1788 1440h0M1855 1382h0M1854 1417h0M1998 1401h0M1835 1433h0M1734 1453h0M1896 1372h0M1914 1417h0M1835 1425h0M1933 1427h0M1640 1437h0M1956 1411h0M1733 1452h0M1701 1446h0M1818 1414h0M1827 1434h0M1861 1420h0M1846 1437h0M1782 1445h0M1684 1449h0M1712 1451h0M1867 1413h0M1938 1399h0M1915 1405h0M1662 1445h0M1869 1421h0M1808 1447h0M1980 1407h0M1792 1446h0M1813 1432h0M1843 1438h0M1873 1396h0M1627 1433h0M1601 1418h0M1830 1430h0M1758 1450h0M1942 1415h0M1823 1444h0M1635 1438h0M1711 1449h0M1667 1436h0M1610 1400h0M1963 1415h0M1810 1447h0M1835 1433h0M2006 1411h0M1674 1434h0M1642 1432h0M1744 1452h0M1743 1452h0M1726 1453h0M2017 1392h0M2017 1409h0M2017 1415h0M2017 1409h0M2017 1412h0M2017 1392h0M2017 1403h0M2017 1407h0M2017 1387h0M2017 1404h0M2017 1400h0M2017 1407h0M2017 1401h0M2017 1391h0M2015.0 1247.7h0M2016.9 1266.1h0M1990.8 1271.1h0M1938.9 1270.7h0M1906.2 1276.9h0M1985.4 1309.5h0M1988.1 1328.0h0M1988.1 1337.6h0M1988.1 1346.1h0M1940.1 1336.4h0M1860.9 1336.1h0M1873.6 1345.3h0M1862.4 1353.0h0M1923.2 1353.0h0M1958.9 1351.1h0M1972.4 1356.0h0M1914.3 1359.5h0M1903.9 1361.4h0M1885.5 1360.7h0M1879.7 1367.2h0M1891.2 1370.3h0M1873.9 1372.2h0M1830.5 1373.0h0M1859.3 1375.3h0M1944.3 1367.2h0M1958.5 1364.5h0M2016.9 1364.5h0M2016.9 1372.2h0M1904.7 1372.2h0M1913.5 1378.0h0M2005.4 1376.0h0M1528.8 1368.7h0M1470.3 1380.6h0M1465.3 1390.3h0M1554.9 1380.6h0M1548.4 1390.3h0M1558.0 1398.3h0M1599.1 1391.4h0M1599.1 1395.3h0M1529.9 1401.0h0M1522.2 1409.5h0M1508.0 1410.6h0M1468.8 1418.3h0M1539.5 1419.1h0M1538.0 1431.4h0M1516.5 1431.8h0M1553.0 1424.9h0M1562.6 1433.7h0M1647.2 1411.8h0M1626.8 1418.3h0M1966.2 1431.8h0M1974.7 1422.9h0M1983.5 1426.0h0M1998.9 1422.2h0M1958.5 1420.2h0" fill="none" stroke="#5B87CF" stroke-width="12.7" stroke-linecap="round"/>
<path d="M1424.2 1402.6h620.8M1785.5 1187.19v278.7" stroke="#000" stroke-width="5.5" fill="none"/>
<rect x="1425.55" y="1188.54" width="618.10" height="276.00" fill="none" stroke="#303030" stroke-width="2.9"/>
</g>
<text x="1734.6" y="1164.3" font-size="39.6" text-anchor="middle" fill="#1a1a1a" stroke="#1a1a1a" stroke-width=".45">TG</text>
<g clip-path="url(#c12)">
<path d="M272 1795h0M518 1820h0M496 1825h0M198 1795h0M254 1788h0M386 1823h0M509 1817h0M317 1752h0M332 1807h0M464 1829h0M236 1765h0M507 1816h0M598 1802h0M494 1826h0M619 1806h0M390 1819h0M296 1809h0M502 1815h0M616 1803h0M481 1823h0M270 1789h0M336 1816h0M307 1763h0M480 1827h0M296 1780h0M222 1781h0M383 1826h0M385 1816h0M380 1825h0M405 1826h0M445 1832h0M408 1827h0M355 1806h0M205 1780h0M463 1829h0M316 1803h0M261 1798h0M492 1825h0M290 1803h0M534 1818h0M348 1793h0M575 1793h0M622 1800h0M613 1811h0M494 1821h0M316 1813h0M461 1829h0M399 1826h0M458 1830h0M350 1807h0M412 1812h0M379 1822h0M359 1817h0M358 1794h0M452 1831h0M341 1819h0M384 1825h0M391 1819h0M296 1779h0M470 1825h0M462 1830h0M479 1827h0M391 1805h0M475 1828h0M414 1828h0M271 1793h0M307 1784h0M491 1816h0M423 1826h0M549 1809h0M243 1804h0M512 1821h0M383 1814h0M234 1799h0M348 1810h0M442 1828h0M336 1797h0M512 1823h0M407 1827h0M340 1804h0M630 1801h0M623 1791h0M336 1811h0M413 1817h0M295 1796h0M407 1827h0M399 1812h0M370 1788h0M328 1815h0M300 1792h0M175 1780h0M450 1830h0M412 1816h0M383 1801h0M326 1786h0M365 1799h0M481 1821h0M466 1830h0M538 1818h0M303 1801h0M262 1772h0M539 1809h0M397 1818h0M354 1809h0M513 1811h0M484 1826h0M468 1827h0M309 1801h0M358 1805h0M568 1798h0M199 1800h0M485 1829h0M531 1822h0M489 1823h0M465 1828h0M505 1825h0M268 1788h0M329 1808h0M326 1767h0M419 1820h0M372 1814h0M496 1822h0M441 1830h0M529 1817h0M390 1817h0M329 1818h0M288 1804h0M226 1795h0M362 1796h0M374 1802h0M528 1818h0M504 1826h0M485 1825h0M320 1810h0M373 1803h0M425 1827h0M514 1823h0M321 1818h0M522 1819h0M341 1819h0M500 1827h0M435 1826h0M422 1830h0M358 1811h0M279 1766h0M243 1808h0M499 1811h0M172 1793h0M447 1831h0M330 1797h0M490 1823h0M324 1770h0M621 1786h0M352 1770h0M499 1813h0M329 1793h0M333 1780h0M392 1822h0M436 1826h0M359 1814h0M277 1782h0M269 1806h0M484 1827h0M435 1829h0M401 1826h0M373 1794h0M495 1821h0M248 1801h0M309 1789h0M295 1804h0M326 1814h0M365 1796h0M400 1814h0M389 1827h0M463 1830h0M495 1818h0M450 1830h0M545 1795h0M463 1828h0M364 1804h0M413 1828h0M636 1807h0M303 1814h0M565 1808h0M242 1782h0M310 1795h0M307 1816h0M321 1796h0M304 1740h0M398 1826h0M386 1827h0M310 1798h0M276 1799h0M293 1805h0M353 1808h0M430 1826h0M441 1830h0M595 1809h0M621 1807h0M377 1807h0M376 1821h0M342 1794h0M534 1799h0M311 1777h0M334 1795h0M306 1812h0M361 1822h0M218 1774h0M401 1821h0M423 1824h0M288 1799h0M589 1797h0M477 1825h0M356 1802h0M485 1828h0M314 1801h0M437 1829h0M367 1810h0M446 1831h0M259 1792h0M258 1792h0M280 1808h0M292 1804h0M358 1821h0M326 1786h0M291 1773h0M364 1817h0M263 1806h0M406 1827h0M359 1819h0M202 1790h0M409 1820h0M504 1822h0M353 1791h0M405 1822h0M500 1817h0M269 1780h0M280 1807h0M579 1791h0M443 1831h0M406 1812h0M375 1815h0M461 1830h0M476 1825h0M445 1831h0M417 1824h0M426 1820h0M352 1814h0M378 1805h0M436 1828h0M308 1766h0M603 1809h0M333 1792h0M273 1809h0M429 1824h0M339 1815h0M485 1822h0M352 1816h0M376 1824h0M188 1799h0M503 1822h0M338 1818h0M509 1819h0M340 1816h0M276 1784h0M398 1827h0M522 1806h0M588 1814h0M675 1801h0M348 1805h0M275 1795h0M318 1799h0M418 1821h0M288 1811h0M417 1817h0M608 1812h0M500 1824h0M289 1786h0M327 1806h0M299 1798h0M358 1795h0M562 1796h0M250 1769h0M277 1781h0M407 1820h0M455 1829h0M325 1797h0M361 1817h0M423 1825h0M493 1826h0M243 1798h0M466 1827h0M525 1811h0M327 1800h0M502 1819h0M574 1785h0M510 1807h0M299 1810h0M364 1803h0M340 1793h0M252 1783h0M567 1806h0M450 1829h0M192 1790h0M341 1816h0M293 1794h0M456 1829h0M408 1827h0M396 1826h0M459 1828h0M485 1827h0M560 1801h0M416 1828h0M257 1799h0M507 1819h0M340 1818h0M321 1793h0M567 1816h0M297 1772h0M278 1803h0M407 1821h0M526 1815h0M240 1805h0M185 1786h0M491 1820h0M599 1807h0M362 1809h0M320 1798h0M442 1831h0M431 1828h0M454 1829h0M597 1796h0M296 1804h0M287 1802h0M421 1827h0M518 1811h0M412 1829h0M398 1828h0M409 1828h0M418 1828h0M238 1771h0M439 1828h0M354 1802h0M614 1799h0M398 1822h0M536 1818h0M464 1828h0M370 1820h0M298 1789h0M386 1816h0M288 1791h0M262 1757h0M515 1821h0M183 1789h0M574 1793h0M267 1806h0M471 1829h0M343 1812h0M432 1825h0M256 1809h0M406 1822h0M540 1801h0M446 1830h0M497 1818h0M388 1801h0M317 1799h0M378 1820h0M370 1810h0M471 1828h0M451 1831h0M430 1825h0M548 1775h0M372 1813h0M471 1827h0M349 1814h0M413 1821h0M511 1817h0M361 1809h0M571 1817h0M354 1809h0M335 1818h0M389 1814h0M426 1826h0M325 1798h0M365 1803h0M506 1810h0M534 1799h0M318 1804h0M262 1801h0M353 1789h0M580 1809h0M561 1797h0M506 1815h0M576 1808h0M311 1808h0M274 1810h0M291 1792h0M328 1806h0M347 1807h0M416 1829h0M444 1831h0M323 1807h0M441 1828h0M345 1773h0M419 1826h0M458 1831h0M258 1782h0M303 1788h0M344 1802h0M361 1803h0M595 1802h0M255 1800h0M353 1819h0M360 1820h0M590 1794h0M443 1831h0M345 1821h0M536 1817h0M295 1804h0M454 1829h0M300 1783h0M450 1830h0M562 1819h0M706 1791h0M573 1814h0M438 1830h0M333 1820h0M199 1798h0M284 1782h0M576 1777h0M331 1813h0M261 1796h0M299 1813h0M634 1805h0M448 1831h0M455 1830h0M599 1807h0M284 1761h0M324 1819h0M439 1828h0M484 1825h0M566 1810h0M263 1805h0M355 1810h0M259 1796h0M443 1831h0M543 1789h0M367 1812h0M430 1829h0M285 1774h0M414 1823h0M513 1818h0M516 1814h0M500 1825h0M304 1809h0M366 1781h0M438 1825h0M340 1787h0M278 1769h0M385 1818h0M578 1806h0M304 1802h0M326 1784h0M292 1780h0M490 1828h0M620 1799h0M220 1788h0M337 1817h0M379 1817h0M263 1791h0M430 1830h0M479 1829h0M429 1829h0M474 1829h0M281 1806h0M281 1804h0M596 1803h0M322 1815h0M264 1774h0M266 1810h0M215 1802h0M312 1815h0M358 1817h0M522 1811h0M307 1782h0M323 1781h0M270 1786h0M310 1788h0M411 1822h0M427 1829h0M245 1794h0M489 1824h0M588 1814h0M442 1828h0M542 1821h0M275 1805h0M534 1811h0M296 1796h0M282 1810h0M555 1814h0M319 1805h0M324 1800h0M259 1787h0M322 1805h0M546 1787h0M416 1820h0M339 1820h0M523 1820h0M492 1824h0M347 1815h0M453 1829h0M472 1827h0M386 1816h0M516 1823h0M373 1816h0M320 1805h0M297 1796h0M379 1819h0M503 1824h0M261 1746h0M478 1826h0M587 1764h0M347 1805h0M380 1821h0M629 1805h0M304 1771h0M570 1780h0M456 1829h0M507 1825h0M520 1811h0M442 1830h0M284 1801h0M242 1789h0M510 1819h0M229 1779h0M542 1821h0M350 1801h0M303 1798h0M551 1819h0M394 1827h0M405 1827h0M323 1813h0M394 1821h0M337 1809h0M581 1814h0M279 1795h0M416 1817h0M383 1812h0M349 1817h0M173 1781h0M353 1819h0M331 1812h0M293 1804h0M346 1817h0M579 1800h0M317 1807h0M539 1822h0M311 1777h0M370 1803h0M553 1800h0M555 1819h0M261 1791h0M430 1827h0M364 1795h0M380 1816h0M342 1819h0M333 1790h0M213 1781h0M398 1822h0M376 1806h0M296 1789h0M480 1827h0M367 1816h0M359 1821h0M506 1821h0M381 1813h0M340 1805h0M280 1810h0M469 1830h0M301 1799h0M343 1805h0M503 1826h0M408 1818h0M167 1776h0M467 1830h0M438 1831h0M520 1810h0M277 1809h0M262 1790h0M300 1784h0M215 1783h0M480 1826h0M654 1802h0M326 1811h0M390 1822h0M327 1805h0M321 1757h0M371 1802h0M359 1795h0M278 1796h0M584 1789h0M326 1802h0M276 1780h0M585 1805h0M373 1824h0M277 1789h0M365 1814h0M521 1813h0M351 1812h0M310 1811h0M506 1815h0M605 1811h0M471 1829h0M344 1820h0M549 1806h0M408 1823h0M313 1803h0M293 1791h0M345 1780h0M350 1786h0M441 1829h0M400 1819h0M346 1807h0M505 1806h0M555 1814h0M388 1820h0M317 1797h0M499 1815h0M436 1831h0M517 1820h0M440 1831h0M433 1829h0M373 1819h0M360 1817h0M358 1806h0M333 1805h0M354 1820h0M582 1813h0M526 1817h0M651 1793h0M242 1802h0M366 1816h0M304 1755h0M318 1808h0M263 1803h0M487 1820h0M208 1779h0M273 1801h0M603 1809h0M249 1806h0M405 1826h0M378 1821h0M368 1792h0M352 1791h0M296 1799h0M507 1817h0M618 1798h0M315 1796h0M304 1767h0M417 1816h0M546 1807h0M353 1822h0M317 1811h0M406 1815h0M461 1830h0M391 1815h0M294 1801h0M298 1807h0M293 1811h0M399 1823h0M685 1790h0M308 1792h0M389 1825h0M469 1829h0M322 1784h0M401 1825h0M506 1821h0M279 1804h0M478 1829h0M336 1820h0M264 1799h0M539 1790h0M609 1794h0M359 1784h0M467 1828h0M370 1788h0M347 1815h0M480 1825h0M341 1793h0M275 1794h0M423 1827h0M480 1829h0M379 1804h0M264 1809h0M362 1824h0M549 1814h0M398 1802h0M392 1812h0M385 1823h0M364 1813h0M288 1808h0M609 1803h0M434 1830h0M354 1794h0M614 1810h0M265 1779h0M313 1813h0M457 1829h0M301 1788h0M249 1783h0M473 1827h0M477 1828h0M328 1818h0M350 1821h0M537 1812h0M405 1822h0M291 1800h0M382 1820h0M382 1824h0M318 1812h0M311 1792h0M404 1817h0M274 1797h0M534 1821h0M390 1827h0M412 1821h0M456 1829h0M221 1803h0M341 1811h0M458 1829h0M505 1819h0M307 1789h0M277 1798h0M322 1800h0M390 1808h0M342 1793h0M601 1765h0M584 1813h0M287 1804h0M577 1807h0M314 1797h0M276 1795h0M374 1817h0M278 1801h0M464 1830h0M447 1831h0M399 1813h0M403 1828h0M370 1817h0M319 1801h0M263 1783h0M473 1825h0M268 1779h0M306 1813h0M357 1822h0M413 1814h0M452 1830h0M466 1830h0M311 1790h0M671 1806h0M452 1831h0M447 1830h0M411 1813h0M416 1822h0M491 1828h0M277 1802h0M418 1819h0M401 1822h0M318 1783h0M389 1808h0M340 1783h0M426 1825h0M284 1806h0M400 1825h0M298 1750h0M545 1800h0M349 1803h0M244 1788h0M476 1824h0M343 1819h0M380 1819h0M541 1811h0M288 1798h0M574 1807h0M566 1801h0M559 1815h0M444 1830h0M394 1819h0M580 1808h0M588 1816h0M421 1828h0M424 1827h0M397 1807h0M437 1827h0M228 1785h0M591 1816h0M569 1818h0M332 1818h0M313 1810h0M278 1783h0M446 1831h0M265 1788h0M342 1794h0M325 1785h0M444 1831h0M325 1798h0M507 1822h0M394 1818h0M445 1829h0M670 1794h0M453 1829h0M356 1804h0M304 1788h0M522 1810h0M495 1825h0M322 1804h0M319 1803h0M336 1801h0M272 1797h0M222 1798h0M332 1815h0M226 1791h0M268 1791h0M313 1764h0M466 1825h0M628 1793h0M291 1804h0M322 1817h0M283 1794h0M327 1805h0M438 1827h0M570 1814h0M265 1792h0M339 1809h0M314 1806h0M312 1790h0M357 1799h0M268 1803h0M541 1796h0M433 1831h0M261 1774h0M501 1822h0M336 1820h0M390 1820h0M487 1824h0M410 1821h0M381 1810h0M236 1804h0M201 1773h0M593 1800h0M272 1806h0M221 1765h0M358 1794h0M399 1817h0M374 1819h0M398 1821h0M528 1821h0M423 1829h0M479 1828h0M396 1814h0M416 1826h0M463 1823h0M270 1810h0M360 1787h0M401 1824h0M359 1798h0M358 1814h0M337 1810h0M447 1832h0M380 1809h0M272 1795h0M352 1807h0M366 1811h0M537 1814h0M332 1807h0M279 1802h0M310 1813h0M325 1808h0M528 1814h0M435 1831h0M330 1819h0M456 1831h0M442 1830h0M468 1830h0M255 1798h0M411 1827h0M454 1828h0M386 1813h0M351 1812h0M322 1784h0M491 1820h0M282 1794h0M514 1821h0M563 1781h0M356 1817h0M440 1829h0M383 1811h0M369 1820h0M375 1819h0M463 1826h0M162 1790h0M162 1791h0M162 1780h0M162 1791h0M162 1773h0M162 1776h0M162 1753h0M162 1780h0M162 1790h0M162 1772h0M162 1774h0M162 1790h0M162 1762h0M162 1762h0M162 1790h0M162 1791h0M162 1791h0M162 1758h0M162 1752h0M162 1791h0M162 1752h0M162 1748h0M162 1767h0M162 1749h0M162 1790h0M162.3 1606.4h0M282.6 1680.2h0M203.0 1684.8h0M226.9 1685.6h0M221.1 1694.5h0M293.4 1695.2h0M244.9 1699.8h0M191.5 1710.6h0M243.4 1712.5h0M252.6 1718.7h0M166.5 1717.5h0M278.8 1717.1h0M219.2 1726.0h0M223.8 1726.0h0M279.9 1731.7h0M166.5 1738.7h0M302.2 1741.4h0M258.0 1743.7h0M275.7 1746.0h0M229.6 1749.0h0M240.3 1748.3h0M248.8 1750.2h0M236.5 1756.0h0M219.2 1756.7h0M267.2 1754.8h0M273.0 1758.6h0M194.2 1761.7h0M175.0 1762.5h0M210.3 1765.6h0M251.8 1766.3h0M301.8 1765.6h0M317.2 1767.5h0M326.8 1767.5h0M341.0 1775.2h0M611.6 1712.1h0M726.6 1734.4h0M510.9 1759.4h0M571.7 1764.8h0M559.4 1770.2h0M590.9 1768.6h0M600.9 1768.6h0M613.2 1769.4h0M647.8 1758.6h0M656.2 1765.6h0M710.0 1763.6h0M726.6 1758.6h0M721.9 1767.5h0M726.6 1770.6h0M642.8 1777.1h0M647.8 1780.9h0M699.7 1799.4h0M675.4 1791.7h0M665.1 1798.2h0M667.0 1802.1h0M652.8 1799.0h0M643.9 1794.4h0M636.2 1800.2h0M632.4 1811.7h0M611.2 1807.1h0M626.6 1787.9h0M618.9 1786.7h0M533.6 1786.7h0M522.8 1793.6h0M376.8 1785.6h0M385.6 1788.6h0M392.1 1798.2h0M186.5 1794.4h0M201.1 1802.1h0M225.7 1804.8h0M236.5 1810.5h0" fill="none" stroke="#5B87CF" stroke-width="12.7" stroke-linecap="round"/>
<path d="M134.2 1777.9h620.8M406.0 1565.52v278.7" stroke="#000" stroke-width="5.5" fill="none"/>
<rect x="135.55" y="1566.87" width="618.10" height="276.00" fill="none" stroke="#303030" stroke-width="2.9"/>
</g>
<text x="444.6" y="1542.6" font-size="39.6" text-anchor="middle" fill="#1a1a1a" stroke="#1a1a1a" stroke-width=".45">HDL</text>
<path d="M121.9 1831.8H134.2M121.9 1767.8H134.2M121.9 1703.8H134.2M121.9 1639.9H134.2M121.9 1575.9H134.2" stroke="#333" stroke-width="4.6" fill="none"/>
<text x="112.3" y="1845.3" font-size="39.6" text-anchor="end" fill="#000" stroke="#000" stroke-width=".45">0</text>
<text x="112.3" y="1781.3" font-size="39.6" text-anchor="end" fill="#000" stroke="#000" stroke-width=".45">3</text>
<text x="112.3" y="1717.3" font-size="39.6" text-anchor="end" fill="#000" stroke="#000" stroke-width=".45">6</text>
<text x="112.3" y="1653.4" font-size="39.6" text-anchor="end" fill="#000" stroke="#000" stroke-width=".45">9</text>
<text x="112.3" y="1589.4" font-size="39.6" text-anchor="end" fill="#000" stroke="#000" stroke-width=".45">12</text>
<g clip-path="url(#c13)">
<path d="M948 1808h0M987 1809h0M985 1803h0M1158 1817h0M1105 1829h0M1365 1789h0M1119 1821h0M996 1818h0M932 1802h0M1191 1818h0M1115 1824h0M1159 1804h0M1041 1822h0M986 1810h0M1038 1827h0M1197 1800h0M1229 1813h0M1222 1813h0M1011 1822h0M1262 1780h0M1241 1811h0M1001 1822h0M1320 1767h0M1208 1808h0M1010 1822h0M959 1805h0M1116 1826h0M1170 1797h0M1121 1827h0M1319 1785h0M1196 1816h0M991 1822h0M1225 1810h0M1165 1802h0M1072 1828h0M1369 1770h0M1229 1764h0M1326 1768h0M1308 1771h0M1059 1818h0M982 1793h0M1050 1820h0M979 1817h0M1085 1831h0M1219 1795h0M1140 1818h0M1150 1798h0M1009 1820h0M1048 1819h0M1112 1817h0M926 1792h0M1249 1804h0M962 1811h0M1189 1799h0M1076 1828h0M1223 1774h0M1092 1831h0M1153 1797h0M1143 1820h0M1033 1811h0M1179 1815h0M1133 1807h0M981 1805h0M948 1789h0M974 1766h0M1031 1822h0M1110 1823h0M1097 1831h0M1088 1830h0M954 1802h0M1359 1791h0M1103 1826h0M1086 1831h0M811 1788h0M1142 1824h0M1173 1785h0M998 1816h0M976 1819h0M1090 1829h0M1281 1795h0M1157 1826h0M1085 1829h0M1123 1820h0M1154 1822h0M1074 1830h0M1088 1831h0M1020 1816h0M1186 1801h0M1084 1828h0M1107 1824h0M1115 1828h0M1162 1812h0M1179 1787h0M1018 1823h0M1032 1827h0M991 1805h0M1274 1794h0M1093 1831h0M1215 1813h0M1234 1808h0M1195 1798h0M858 1770h0M1198 1797h0M1167 1788h0M1137 1814h0M1227 1798h0M1006 1801h0M1131 1824h0M1135 1814h0M1001 1807h0M971 1814h0M1085 1829h0M1229 1760h0M990 1810h0M1155 1810h0M1149 1826h0M960 1812h0M1042 1824h0M1044 1825h0M1071 1830h0M1167 1812h0M1067 1830h0M1046 1817h0M941 1785h0M1305 1774h0M924 1759h0M1221 1815h0M1330 1797h0M856 1781h0M1106 1825h0M1091 1831h0M1086 1828h0M1147 1805h0M1200 1774h0M1267 1798h0M1215 1781h0M1114 1828h0M1109 1827h0M1203 1752h0M1220 1808h0M1257 1773h0M1229 1743h0M1117 1823h0M1150 1802h0M1161 1799h0M1087 1830h0M1205 1782h0M1131 1815h0M1092 1829h0M1034 1816h0M1169 1822h0M1023 1825h0M938 1808h0M1143 1815h0M1291 1800h0M1174 1816h0M1222 1807h0M976 1812h0M1245 1769h0M1195 1795h0M1179 1800h0M1128 1825h0M1223 1815h0M952 1803h0M1310 1794h0M1040 1826h0M1048 1828h0M1152 1824h0M1230 1785h0M941 1814h0M1094 1830h0M1189 1810h0M1286 1800h0M1080 1829h0M927 1810h0M1200 1788h0M989 1788h0M1002 1815h0M1341 1791h0M1271 1795h0M969 1811h0M1173 1798h0M1027 1824h0M1341 1777h0M1059 1816h0M1095 1828h0M1178 1796h0M1026 1821h0M1020 1822h0M1371 1787h0M1070 1830h0M1241 1796h0M1082 1828h0M1222 1781h0M990 1774h0M1080 1825h0M1197 1790h0M1113 1830h0M955 1797h0M1160 1808h0M1292 1788h0M1301 1768h0M1142 1818h0M1209 1785h0M1051 1825h0M1076 1829h0M1232 1774h0M1216 1813h0M1159 1826h0M1261 1756h0M1176 1817h0M994 1807h0M1226 1797h0M1181 1781h0M949 1811h0M1059 1828h0M1022 1796h0M1198 1810h0M1216 1800h0M1308 1793h0M1204 1774h0M1212 1782h0M1017 1824h0M1089 1831h0M1106 1830h0M1093 1828h0M1219 1811h0M1189 1819h0M1280 1802h0M1062 1829h0M989 1808h0M1039 1814h0M1031 1826h0M1051 1827h0M1307 1804h0M1096 1827h0M1277 1784h0M1296 1792h0M933 1787h0M1227 1747h0M1186 1820h0M957 1798h0M1244 1809h0M1083 1827h0M1291 1768h0M1224 1807h0M1194 1805h0M1049 1827h0M1098 1829h0M999 1819h0M1262 1776h0M1027 1815h0M993 1820h0M1265 1789h0M1004 1815h0M936 1809h0M1102 1828h0M1133 1813h0M1248 1793h0M1138 1821h0M1211 1753h0M1081 1829h0M1351 1787h0M1172 1822h0M1152 1823h0M1271 1789h0M1241 1790h0M1015 1825h0M965 1815h0M1016 1805h0M907 1790h0M1227 1773h0M1008 1802h0M1001 1815h0M1084 1830h0M1135 1820h0M1229 1772h0M1059 1823h0M1353 1785h0M1301 1799h0M975 1819h0M1023 1826h0M1123 1825h0M1254 1778h0M942 1809h0M953 1804h0M1155 1814h0M1196 1816h0M1157 1805h0M1181 1820h0M1133 1816h0M1155 1820h0M1242 1757h0M1166 1810h0M971 1804h0M1192 1817h0M1026 1811h0M1147 1808h0M971 1786h0M961 1815h0M1037 1813h0M1176 1807h0M1243 1800h0M1207 1814h0M1367 1794h0M1021 1824h0M1280 1796h0M926 1806h0M1139 1822h0M1058 1829h0M1242 1800h0M1033 1827h0M939 1813h0M1194 1751h0M941 1814h0M1019 1809h0M1083 1830h0M1288 1778h0M1204 1802h0M964 1812h0M1039 1826h0M1175 1818h0M960 1796h0M1022 1808h0M914 1760h0M1157 1792h0M1078 1828h0M1222 1778h0M1338 1784h0M991 1816h0M1190 1789h0M1002 1821h0M1040 1826h0M1187 1816h0M1111 1824h0M1230 1815h0M1139 1823h0M1236 1810h0M1050 1821h0M906 1809h0M1034 1826h0M1220 1793h0M1214 1798h0M1072 1828h0M1223 1738h0M1082 1826h0M1196 1800h0M1255 1801h0M1111 1823h0M1143 1821h0M1141 1806h0M1116 1825h0M961 1796h0M1105 1826h0M1102 1831h0M1240 1775h0M1248 1739h0M992 1817h0M1184 1759h0M1177 1821h0M1099 1826h0M1257 1805h0M1151 1823h0M1135 1825h0M1270 1801h0M971 1801h0M981 1816h0M1191 1800h0M949 1793h0M1014 1808h0M1314 1783h0M1166 1818h0M1161 1819h0M959 1803h0M990 1820h0M1283 1790h0M986 1815h0M1078 1827h0M1155 1804h0M1048 1828h0M1273 1780h0M1238 1795h0M1196 1819h0M1222 1800h0M1131 1823h0M1063 1821h0M1258 1801h0M1151 1820h0M1071 1829h0M1023 1819h0M1157 1813h0M1196 1810h0M1237 1777h0M1017 1817h0M1120 1823h0M1288 1773h0M1193 1801h0M1093 1831h0M991 1813h0M1210 1811h0M947 1766h0M1086 1830h0M1116 1827h0M1097 1830h0M985 1807h0M1043 1828h0M988 1818h0M1245 1784h0M1093 1829h0M1207 1772h0M933 1802h0M1054 1822h0M1101 1826h0M935 1814h0M1282 1801h0M1110 1830h0M939 1782h0M952 1814h0M1004 1808h0M1010 1815h0M1185 1806h0M1097 1829h0M1165 1818h0M1131 1818h0M978 1802h0M1018 1813h0M975 1816h0M1234 1811h0M1266 1795h0M1255 1799h0M1276 1801h0M982 1809h0M1095 1831h0M1122 1821h0M1053 1827h0M1010 1818h0M1215 1805h0M1148 1824h0M1012 1811h0M1112 1822h0M1029 1818h0M1094 1829h0M1165 1804h0M1294 1736h0M934 1813h0M874 1785h0M948 1812h0M1217 1804h0M1261 1778h0M1083 1827h0M961 1776h0M1257 1803h0M1275 1809h0M1101 1829h0M983 1792h0M986 1773h0M1032 1822h0M1029 1826h0M1026 1815h0M937 1807h0M1008 1803h0M1238 1813h0M1027 1807h0M1150 1805h0M1144 1812h0M1235 1754h0M892 1794h0M963 1802h0M985 1811h0M981 1803h0M1131 1828h0M1205 1785h0M1289 1786h0M1188 1798h0M1130 1824h0M1135 1815h0M1338 1774h0M943 1796h0M1284 1790h0M980 1801h0M1120 1826h0M1221 1788h0M1065 1828h0M941 1796h0M993 1795h0M1083 1831h0M1217 1796h0M1247 1734h0M1252 1792h0M1055 1824h0M937 1812h0M1176 1802h0M1052 1823h0M1156 1821h0M1172 1786h0M1190 1822h0M1161 1797h0M1168 1801h0M1220 1813h0M1156 1818h0M894 1799h0M1025 1816h0M984 1819h0M1012 1817h0M1173 1807h0M1262 1783h0M1030 1817h0M1273 1801h0M1132 1814h0M1007 1819h0M1341 1744h0M1074 1829h0M1051 1827h0M1098 1829h0M964 1804h0M980 1819h0M936 1793h0M953 1786h0M1092 1831h0M1291 1794h0M1062 1829h0M1126 1820h0M1059 1827h0M1217 1753h0M1162 1821h0M991 1811h0M1142 1811h0M1097 1829h0M1180 1816h0M1179 1778h0M1133 1824h0M1203 1778h0M1003 1813h0M1201 1805h0M1318 1793h0M1203 1812h0M1211 1809h0M984 1819h0M995 1808h0M1172 1814h0M1122 1828h0M1127 1827h0M1229 1806h0M1203 1760h0M1219 1754h0M1206 1804h0M873 1801h0M1011 1807h0M1089 1831h0M1125 1822h0M1003 1785h0M945 1808h0M1308 1771h0M1010 1813h0M1250 1785h0M1039 1823h0M1114 1829h0M993 1820h0M1007 1820h0M1258 1809h0M1028 1812h0M1198 1782h0M1069 1824h0M1179 1799h0M1283 1775h0M1190 1800h0M943 1787h0M1053 1815h0M1128 1818h0M1141 1818h0M1209 1765h0M1244 1786h0M1108 1829h0M1179 1806h0M1030 1824h0M960 1797h0M1000 1810h0M1156 1798h0M1063 1826h0M1285 1780h0M1036 1821h0M1291 1796h0M1121 1825h0M1143 1819h0M1238 1800h0M1042 1824h0M959 1789h0M1019 1823h0M1020 1823h0M970 1818h0M945 1800h0M1122 1820h0M949 1797h0M1193 1807h0M968 1805h0M1185 1812h0M1219 1811h0M1214 1786h0M1060 1827h0M987 1803h0M1224 1791h0M1187 1821h0M1261 1782h0M1075 1825h0M1282 1796h0M1204 1808h0M1068 1826h0M1097 1831h0M881 1784h0M1212 1774h0M1279 1783h0M1074 1828h0M1164 1824h0M1257 1794h0M1279 1784h0M1034 1819h0M1123 1821h0M1029 1825h0M1217 1757h0M1064 1829h0M1095 1829h0M1256 1779h0M1133 1822h0M961 1799h0M1074 1830h0M978 1818h0M1188 1748h0M1057 1826h0M1266 1797h0M1182 1819h0M1227 1813h0M1053 1821h0M1130 1815h0M1144 1819h0M1029 1819h0M1140 1827h0M1224 1811h0M1192 1805h0M1202 1815h0M970 1819h0M1305 1735h0M1236 1805h0M1046 1820h0M1041 1818h0M1106 1829h0M882 1800h0M1084 1829h0M1143 1804h0M1120 1822h0M1000 1806h0M1213 1793h0M1104 1829h0M1107 1827h0M1227 1780h0M1040 1824h0M1235 1765h0M1173 1816h0M1018 1807h0M960 1810h0M1226 1812h0M1094 1830h0M936 1805h0M1125 1828h0M1036 1825h0M936 1800h0M1018 1814h0M1165 1790h0M1261 1728h0M1054 1821h0M1260 1791h0M1094 1827h0M1039 1824h0M1126 1826h0M1281 1757h0M1132 1825h0M1111 1823h0M964 1800h0M1209 1809h0M1071 1830h0M1151 1826h0M890 1802h0M1042 1821h0M1244 1812h0M1046 1826h0M1018 1805h0M965 1816h0M1100 1831h0M1267 1802h0M1037 1817h0M1223 1815h0M1136 1818h0M1226 1795h0M1136 1825h0M990 1818h0M1156 1820h0M1196 1800h0M1256 1741h0M1265 1758h0M935 1813h0M1032 1823h0M1053 1825h0M898 1799h0M1056 1825h0M1206 1807h0M1141 1827h0M1210 1778h0M1014 1810h0M1028 1809h0M1143 1822h0M1034 1824h0M983 1774h0M1125 1829h0M1245 1801h0M1220 1771h0M1147 1825h0M1246 1798h0M1161 1821h0M1049 1826h0M1202 1818h0M970 1814h0M1106 1827h0M1124 1814h0M1096 1831h0M1164 1806h0M1054 1827h0M974 1787h0M925 1768h0M1092 1830h0M962 1787h0M991 1808h0M1192 1775h0M1167 1814h0M1202 1798h0M1187 1776h0M1081 1830h0M1025 1822h0M1194 1799h0M1008 1814h0M1345 1792h0M1126 1824h0M1286 1796h0M1157 1816h0M1156 1798h0M1207 1799h0M1081 1830h0M1012 1819h0M1096 1831h0M981 1814h0M942 1814h0M970 1808h0M1106 1829h0M1170 1798h0M1026 1811h0M1046 1819h0M1057 1821h0M1127 1823h0M1026 1818h0M1004 1821h0M1183 1802h0M1273 1800h0M1219 1783h0M1212 1743h0M1173 1792h0M948 1812h0M1055 1820h0M1156 1816h0M1139 1819h0M1019 1822h0M1184 1804h0M1205 1819h0M1233 1772h0M1134 1825h0M1151 1825h0M1195 1797h0M1146 1814h0M1081 1831h0M1061 1830h0M1102 1825h0M1008 1817h0M1107 1829h0M1116 1825h0M1142 1796h0M1271 1777h0M1089 1832h0M926 1807h0M1031 1826h0M1252 1812h0M1151 1821h0M1203 1786h0M978 1817h0M920 1808h0M997 1819h0M1174 1808h0M1277 1797h0M1171 1781h0M1204 1802h0M1184 1803h0M1214 1794h0M1233 1757h0M1216 1771h0M1101 1827h0M1076 1829h0M1027 1818h0M1094 1830h0M1151 1795h0M1125 1821h0M1103 1828h0M970 1815h0M1202 1758h0M1190 1768h0M1147 1827h0M1222 1790h0M1244 1806h0M1079 1828h0M920 1802h0M1261 1773h0M1253 1813h0M1301 1803h0M1196 1796h0M1221 1794h0M1043 1819h0M1117 1825h0M1001 1814h0M1250 1777h0M951 1817h0M1177 1793h0M896 1796h0M1182 1817h0M1245 1813h0M1298 1805h0M1243 1768h0M1169 1791h0M1256 1758h0M1148 1824h0M1359 1770h0M1231 1794h0M1181 1820h0M1074 1829h0M1073 1828h0M1210 1809h0M1284 1793h0M1107 1825h0M1250 1787h0M1208 1807h0M987 1807h0M993 1813h0M934 1784h0M1199 1813h0M1237 1733h0M1272 1801h0M1072 1826h0M1006 1817h0M1076 1830h0M1235 1802h0M1271 1797h0M967 1806h0M1127 1822h0M1108 1826h0M1232 1774h0M1068 1825h0M1122 1826h0M1015 1808h0M1183 1801h0M1140 1825h0M1135 1820h0M1148 1819h0M1111 1819h0M1187 1806h0M1133 1824h0M1008 1823h0M965 1800h0M1023 1825h0M1007 1809h0M1278 1806h0M1026 1823h0M1182 1811h0M1031 1805h0M916 1809h0M941 1813h0M1033 1820h0M1108 1825h0M1191 1801h0M1301 1774h0M1055 1824h0M1067 1829h0M1176 1818h0M1089 1830h0M1009 1823h0M1169 1824h0M1139 1815h0M1009 1808h0M1122 1829h0M1098 1830h0M1114 1821h0M1331 1736h0M1085 1830h0M948 1801h0M1010 1806h0M914 1803h0M1018 1821h0M1184 1816h0M1111 1824h0M1183 1819h0M1087 1829h0M1122 1822h0M1266 1788h0M1173 1808h0M990 1818h0M1038 1819h0M1224 1803h0M1148 1810h0M1095 1827h0M1253 1804h0M1239 1801h0M955 1805h0M1249 1792h0M1260 1736h0M1023 1810h0M1016 1819h0M999 1802h0M1138 1820h0M1175 1824h0M1068 1826h0M1016 1801h0M1185 1760h0M1160 1810h0M941 1811h0M1032 1816h0M1267 1794h0M959 1809h0M1095 1828h0M1223 1810h0M1103 1831h0M1121 1821h0M1115 1830h0M977 1771h0M1236 1785h0M1060 1824h0M1011 1817h0M1167 1819h0M1042 1825h0M1156 1808h0M1193 1803h0M1107 1830h0M981 1815h0M1029 1807h0M968 1815h0M1243 1779h0M1121 1824h0M1129 1822h0M962 1774h0M1088 1829h0M975 1814h0M1246 1795h0M1103 1827h0M1032 1824h0M1251 1810h0M1040 1813h0M1121 1820h0M1109 1825h0M1092 1831h0M988 1803h0M1116 1825h0M1146 1815h0M1060 1828h0M1122 1817h0M930 1811h0M1213 1810h0M965 1816h0M973 1809h0M1069 1825h0M964 1786h0M1206 1796h0M1181 1822h0M1125 1824h0M1198 1773h0M1080 1830h0M1167 1797h0M1117 1826h0M936 1795h0M1372 1769h0M1372 1789h0M1372 1783h0M1372 1784h0M1372 1781h0M1372 1788h0M1257.8 1645.3h0M1371.6 1650.6h0M1267.0 1663.7h0M1253.9 1678.3h0M1358.9 1697.9h0M1278.2 1701.0h0M1252.4 1706.8h0M1178.2 1711.8h0M1320.8 1716.8h0M1276.6 1719.4h0M1283.2 1726.0h0M1223.6 1726.4h0M1244.7 1729.4h0M1306.2 1726.4h0M1300.5 1733.7h0M1366.6 1726.0h0M1371.6 1731.0h0M1371.6 1738.7h0M1221.7 1732.9h0M1234.3 1736.7h0M1237.0 1744.4h0M1214.0 1744.4h0M1223.6 1746.3h0M1258.2 1740.6h0M1260.9 1747.5h0M1277.4 1735.6h0M1285.1 1736.7h0M1325.4 1737.1h0M1343.9 1739.4h0M1313.9 1746.3h0M1310.1 1750.2h0M1371.6 1750.2h0M1371.6 1759.0h0M1358.1 1749.0h0M1351.2 1752.1h0M1338.9 1748.3h0M1335.0 1756.7h0M1326.6 1756.7h0M1250.5 1754.0h0M1237.0 1757.9h0M1208.2 1759.8h0M1215.9 1757.9h0M1189.0 1760.6h0M1194.0 1764.4h0M1180.1 1774.0h0M1356.2 1766.3h0M1371.6 1774.4h0M1321.6 1766.7h0M861.9 1681.4h0M901.8 1696.4h0M828.0 1732.5h0M926.8 1744.8h0M939.5 1744.8h0M951.4 1749.0h0M966.8 1751.0h0M940.3 1755.2h0M944.1 1759.8h0M923.0 1761.7h0M940.3 1764.4h0M887.2 1768.6h0M831.5 1770.2h0M835.3 1772.1h0M868.0 1777.1h0M879.5 1777.1h0M927.6 1772.1h0M950.7 1771.3h0M954.5 1775.2h0M990.3 1781.7h0M825.7 1789.0h0M837.3 1797.5h0M844.2 1799.4h0M861.1 1791.7h0M879.5 1800.2h0M883.8 1810.9h0M898.0 1807.8h0M908.4 1805.9h0M1148.6 1789.8h0M1155.5 1787.9h0" fill="none" stroke="#5B87CF" stroke-width="12.7" stroke-linecap="round"/>
<path d="M779.2 1780.2h620.8M1127.9 1565.52v278.7" stroke="#000" stroke-width="5.5" fill="none"/>
<rect x="780.55" y="1566.87" width="618.10" height="276.00" fill="none" stroke="#303030" stroke-width="2.9"/>
</g>
<text x="1089.6" y="1542.6" font-size="39.6" text-anchor="middle" fill="#1a1a1a" stroke="#1a1a1a" stroke-width=".45">BMI</text>
<g clip-path="url(#c14)">
<path d="M1823 1823h0M1626 1815h0M1730 1831h0M1815 1821h0M1785 1823h0M1797 1814h0M1730 1830h0M1755 1830h0M1885 1807h0M1611 1804h0M1634 1813h0M1534 1802h0M1769 1824h0M1637 1821h0M1691 1821h0M1990 1789h0M1858 1818h0M1596 1805h0M1911 1806h0M1718 1830h0M1750 1825h0M1865 1796h0M1730 1830h0M1624 1812h0M1658 1820h0M1678 1820h0M1756 1828h0M1534 1793h0M1597 1808h0M1847 1818h0M1979 1780h0M1612 1797h0M1821 1810h0M1702 1828h0M1607 1799h0M1744 1828h0M1556 1809h0M1840 1815h0M1941 1803h0M1554 1787h0M1508 1799h0M1855 1816h0M1565 1811h0M1797 1819h0M1720 1824h0M1611 1809h0M1753 1830h0M1727 1831h0M1715 1823h0M1817 1815h0M1736 1830h0M1700 1827h0M1686 1820h0M1659 1811h0M1577 1800h0M1746 1829h0M1905 1801h0M1837 1795h0M1628 1812h0M1746 1828h0M1860 1807h0M1563 1792h0M1719 1826h0M1773 1822h0M1622 1813h0M1859 1818h0M1601 1794h0M1780 1826h0M1749 1826h0M1671 1823h0M1687 1826h0M1623 1809h0M1804 1812h0M1826 1810h0M1878 1771h0M1627 1807h0M1761 1827h0M1891 1804h0M1684 1827h0M1746 1830h0M1819 1812h0M1741 1831h0M1622 1813h0M1896 1808h0M1817 1811h0M1911 1784h0M1894 1812h0M1763 1828h0M1930 1798h0M1651 1803h0M1695 1819h0M1782 1818h0M1644 1820h0M1600 1809h0M1730 1830h0M1760 1828h0M1695 1825h0M1626 1816h0M1856 1815h0M1795 1816h0M1642 1806h0M1819 1821h0M1668 1826h0M1790 1816h0M1925 1807h0M1908 1798h0M1593 1802h0M1540 1805h0M1882 1765h0M1633 1805h0M1964 1796h0M1697 1826h0M1632 1791h0M1612 1796h0M1871 1789h0M1749 1828h0M1804 1825h0M1799 1815h0M1671 1815h0M1620 1819h0M1638 1789h0M1917 1806h0M1856 1806h0M1593 1809h0M1719 1827h0M1565 1812h0M1911 1808h0M1630 1803h0M1602 1816h0M1915 1793h0M1696 1822h0M1677 1820h0M1994 1794h0M1881 1804h0M1656 1819h0M1707 1825h0M1749 1829h0M1728 1828h0M1797 1811h0M1750 1829h0M1768 1828h0M1785 1815h0M1846 1808h0M1768 1828h0M1850 1794h0M1704 1827h0M1848 1820h0M1683 1826h0M1867 1802h0M1715 1821h0M1510 1799h0M1657 1824h0M1751 1823h0M1671 1820h0M1846 1815h0M1739 1830h0M1888 1772h0M1645 1805h0M1745 1830h0M1745 1827h0M1791 1824h0M1805 1825h0M1854 1814h0M1656 1813h0M1669 1809h0M1850 1804h0M1567 1799h0M1814 1825h0M1599 1816h0M1928 1799h0M1655 1824h0M1848 1817h0M1738 1829h0M1821 1802h0M1683 1822h0M1583 1812h0M1648 1821h0M1669 1824h0M1875 1811h0M1812 1823h0M1740 1831h0M1831 1816h0M1926 1804h0M1649 1823h0M1693 1825h0M1845 1816h0M1626 1821h0M1648 1812h0M1714 1824h0M1907 1809h0M1773 1826h0M1781 1825h0M1731 1827h0M1703 1824h0M1505 1783h0M1840 1817h0M1678 1823h0M1586 1779h0M1663 1824h0M1932 1797h0M1794 1815h0M1866 1816h0M1866 1810h0M1861 1800h0M1885 1812h0M1579 1813h0M1693 1818h0M1636 1821h0M1721 1824h0M1748 1831h0M1688 1825h0M1824 1805h0M1617 1798h0M1594 1812h0M1904 1812h0M1789 1817h0M1763 1825h0M1867 1807h0M1739 1830h0M1819 1810h0M1651 1812h0M1595 1764h0M1773 1823h0M1706 1829h0M1719 1830h0M1891 1813h0M1838 1807h0M1869 1813h0M1683 1825h0M1632 1813h0M1728 1829h0M1974 1789h0M1758 1829h0M1790 1814h0M1887 1803h0M1784 1825h0M1763 1826h0M1597 1789h0M1614 1807h0M1694 1828h0M1796 1825h0M1610 1811h0M1883 1804h0M1619 1800h0M1911 1801h0M1595 1782h0M1765 1826h0M1859 1808h0M1681 1806h0M1714 1828h0M1749 1829h0M1709 1826h0M1699 1819h0M1634 1806h0M1838 1810h0M1767 1828h0M1849 1819h0M1763 1829h0M1753 1828h0M1644 1822h0M1671 1824h0M1888 1808h0M1877 1809h0M1760 1824h0M1647 1820h0M1920 1802h0M1831 1816h0M1750 1829h0M1792 1822h0M1713 1825h0M1860 1785h0M1690 1828h0M1755 1828h0M1914 1794h0M1806 1823h0M1848 1812h0M1740 1831h0M1776 1822h0M1795 1819h0M1594 1815h0M1700 1824h0M1761 1826h0M1845 1818h0M1856 1817h0M1643 1821h0M1790 1818h0M1851 1811h0M1981 1797h0M1897 1806h0M1749 1830h0M1857 1790h0M1898 1803h0M1692 1828h0M1723 1830h0M1857 1814h0M1687 1827h0M1688 1827h0M1631 1818h0M1880 1810h0M1808 1819h0M1928 1806h0M1752 1829h0M1771 1823h0M1632 1815h0M1636 1819h0M1707 1827h0M1821 1816h0M1760 1825h0M1655 1824h0M1735 1830h0M1656 1799h0M1868 1808h0M1793 1809h0M1880 1796h0M1820 1807h0M1701 1817h0M1814 1807h0M1992 1787h0M1800 1810h0M1712 1827h0M1814 1820h0M1805 1825h0M1730 1831h0M1823 1809h0M1913 1803h0M1680 1821h0M1827 1810h0M1715 1830h0M1806 1818h0M1885 1811h0M1645 1816h0M1661 1808h0M1658 1806h0M1750 1829h0M1760 1829h0M1919 1791h0M1683 1809h0M1841 1811h0M1581 1780h0M1905 1804h0M1990 1782h0M1898 1803h0M1838 1812h0M1786 1819h0M1737 1829h0M1806 1825h0M1777 1826h0M1729 1830h0M1637 1820h0M1712 1830h0M1670 1816h0M1793 1824h0M1766 1827h0M1494 1793h0M1657 1822h0M1798 1825h0M1609 1797h0M1770 1827h0M1907 1812h0M1650 1802h0M1838 1808h0M1854 1808h0M1858 1797h0M1704 1825h0M1729 1829h0M1814 1819h0M1784 1824h0M1797 1814h0M1901 1800h0M1780 1826h0M1800 1823h0M1654 1819h0M1567 1780h0M1820 1816h0M1776 1826h0M1849 1805h0M1938 1798h0M1666 1804h0M1798 1824h0M1874 1798h0M1682 1824h0M1654 1813h0M1805 1814h0M1743 1829h0M1746 1829h0M1470 1793h0M1721 1828h0M1646 1795h0M1822 1818h0M1681 1819h0M1756 1826h0M1745 1829h0M1696 1829h0M1689 1827h0M1824 1802h0M1743 1830h0M1760 1828h0M1921 1799h0M1814 1812h0M1850 1813h0M1690 1820h0M1884 1812h0M1794 1816h0M1817 1806h0M1813 1807h0M1614 1814h0M1662 1824h0M1924 1809h0M1581 1803h0M1732 1828h0M1864 1786h0M1773 1826h0M1900 1812h0M1912 1809h0M1600 1812h0M1901 1803h0M1759 1829h0M1696 1820h0M1647 1813h0M1776 1825h0M1738 1830h0M1934 1800h0M1729 1827h0M1893 1790h0M1811 1822h0M1704 1829h0M1653 1816h0M1861 1812h0M1855 1816h0M1825 1812h0M1617 1810h0M1803 1817h0M1694 1828h0M1562 1801h0M1587 1797h0M1595 1813h0M1573 1798h0M1772 1824h0M1693 1824h0M1816 1807h0M1565 1804h0M1900 1811h0M1736 1831h0M1676 1807h0M1576 1803h0M1791 1823h0M1664 1809h0M1750 1830h0M1743 1829h0M1866 1808h0M1923 1800h0M1655 1822h0M1757 1828h0M1625 1815h0M1894 1798h0M1791 1827h0M1786 1813h0M1594 1809h0M1902 1808h0M1657 1823h0M1792 1823h0M1905 1800h0M1867 1794h0M1898 1793h0M1751 1830h0M1704 1829h0M1776 1828h0M1805 1812h0M1796 1822h0M1888 1799h0M1787 1817h0M1768 1829h0M1692 1824h0M1642 1809h0M1691 1826h0M1660 1815h0M1727 1828h0M1744 1829h0M1680 1824h0M1625 1803h0M1859 1816h0M1792 1819h0M1566 1785h0M1731 1832h0M1801 1816h0M1807 1817h0M1831 1817h0M1704 1823h0M1704 1820h0M1677 1824h0M1964 1805h0M1579 1810h0M1823 1805h0M1800 1815h0M1941 1802h0M1882 1807h0M1691 1825h0M1622 1817h0M1773 1827h0M1675 1824h0M1872 1813h0M1751 1827h0M1782 1824h0M1751 1828h0M1719 1826h0M1863 1796h0M1658 1821h0M1677 1823h0M1719 1825h0M1865 1795h0M1753 1828h0M1739 1831h0M1614 1812h0M1608 1818h0M1754 1829h0M1588 1786h0M1764 1826h0M1774 1820h0M1626 1811h0M1791 1819h0M1757 1829h0M1859 1797h0M1813 1819h0M1672 1820h0M1854 1818h0M1540 1800h0M1667 1815h0M1666 1808h0M1859 1812h0M1503 1799h0M1773 1829h0M1628 1818h0M1571 1807h0M1791 1822h0M1611 1799h0M1580 1809h0M1901 1797h0M1715 1825h0M1902 1800h0M1729 1831h0M1660 1802h0M1894 1785h0M1885 1800h0M1891 1806h0M1869 1811h0M1821 1811h0M1760 1829h0M1767 1825h0M1818 1808h0M1745 1826h0M1851 1803h0M1652 1806h0M1737 1831h0M1717 1829h0M1671 1824h0M1874 1809h0M1692 1824h0M1719 1830h0M1858 1770h0M1867 1805h0M1728 1830h0M1791 1820h0M1855 1810h0M1808 1816h0M1700 1827h0M1546 1807h0M1812 1812h0M1861 1806h0M1740 1831h0M1743 1830h0M1509 1795h0M1854 1811h0M1677 1809h0M1721 1830h0M1876 1815h0M1786 1818h0M1595 1779h0M1853 1809h0M1792 1826h0M1885 1813h0M1651 1816h0M1614 1813h0M1740 1831h0M1562 1808h0M1623 1807h0M1719 1829h0M1809 1824h0M1738 1831h0M1689 1826h0M1841 1814h0M1827 1808h0M1715 1829h0M1843 1819h0M1828 1810h0M1867 1798h0M1966 1800h0M1602 1812h0M1764 1829h0M1602 1817h0M1848 1804h0M1579 1779h0M1532 1789h0M1668 1799h0M1859 1818h0M1697 1819h0M1928 1794h0M1781 1817h0M1542 1805h0M1618 1806h0M1706 1825h0M1667 1820h0M1749 1828h0M1588 1782h0M1858 1787h0M1808 1824h0M1827 1801h0M1808 1815h0M1746 1830h0M1844 1812h0M1737 1831h0M1806 1822h0M1571 1802h0M1711 1823h0M1732 1830h0M1900 1801h0M1707 1822h0M1584 1807h0M1550 1801h0M1747 1830h0M1630 1811h0M1820 1817h0M1762 1830h0M1718 1827h0M1491 1784h0M1837 1808h0M1624 1814h0M1788 1812h0M1654 1823h0M1857 1798h0M1938 1785h0M1835 1819h0M1761 1829h0M1624 1809h0M1884 1811h0M1698 1827h0M1808 1815h0M1604 1815h0M1575 1809h0M1734 1831h0M1630 1819h0M1736 1831h0M1628 1807h0M1703 1826h0M1636 1818h0M1550 1802h0M1890 1808h0M1683 1824h0M1761 1829h0M1917 1802h0M1574 1795h0M1707 1826h0M1762 1829h0M1779 1822h0M1869 1812h0M1663 1815h0M1850 1811h0M1828 1809h0M1745 1831h0M1665 1823h0M1882 1799h0M1812 1817h0M1789 1814h0M1774 1826h0M1773 1825h0M1766 1822h0M1791 1824h0M1767 1823h0M1823 1805h0M1700 1827h0M1665 1814h0M1801 1806h0M1605 1796h0M1608 1792h0M1910 1792h0M1853 1815h0M1629 1817h0M1775 1827h0M1683 1826h0M1753 1829h0M1901 1792h0M1827 1803h0M1769 1827h0M1937 1797h0M1748 1827h0M1824 1810h0M1860 1818h0M1583 1813h0M1741 1827h0M1660 1817h0M1718 1829h0M1650 1810h0M1907 1809h0M1860 1789h0M1799 1815h0M1779 1817h0M1648 1821h0M1695 1824h0M1859 1813h0M1677 1817h0M1824 1811h0M1634 1801h0M1782 1820h0M1845 1819h0M1777 1827h0M1801 1813h0M1648 1822h0M1793 1809h0M1738 1831h0M1693 1827h0M1586 1806h0M1698 1819h0M1585 1801h0M1675 1822h0M1602 1807h0M1651 1816h0M1776 1820h0M1778 1827h0M1905 1807h0M1601 1793h0M1856 1818h0M1747 1828h0M1815 1822h0M1715 1825h0M1827 1814h0M1721 1830h0M1617 1819h0M1729 1829h0M1854 1810h0M1844 1800h0M1835 1821h0M1987 1800h0M1686 1826h0M1778 1828h0M1716 1827h0M1615 1785h0M1715 1829h0M1675 1821h0M1607 1814h0M1919 1806h0M1842 1812h0M1656 1824h0M1642 1822h0M1718 1830h0M1608 1812h0M1753 1827h0M1779 1824h0M1679 1827h0M1698 1827h0M1927 1806h0M1945 1796h0M1610 1804h0M1901 1803h0M1607 1813h0M1800 1808h0M1846 1772h0M1762 1825h0M1781 1827h0M1579 1798h0M1780 1825h0M1959 1790h0M1627 1805h0M1860 1804h0M1864 1779h0M1575 1792h0M1882 1811h0M1924 1792h0M1894 1797h0M1633 1807h0M1687 1827h0M1627 1815h0M1813 1807h0M1746 1829h0M1743 1830h0M1705 1821h0M1609 1802h0M1872 1799h0M1708 1829h0M1702 1828h0M1579 1799h0M1658 1811h0M1828 1822h0M1585 1810h0M1799 1820h0M1766 1829h0M1859 1818h0M1628 1807h0M1818 1823h0M1650 1802h0M1616 1815h0M1719 1828h0M1570.7 1701.4h0M1593.0 1744.4h0M1905.9 1724.4h0M1850.1 1735.6h0M1952.7 1734.4h0M1962.4 1734.8h0M1962.4 1744.4h0M1969.3 1747.1h0M1907.8 1746.3h0M1907.8 1752.1h0M1550.3 1759.8h0M1584.9 1758.6h0M1513.0 1765.6h0M1452.7 1767.5h0M1452.7 1778.3h0M1452.7 1792.5h0M1481.1 1794.8h0M1496.5 1790.6h0M1503.0 1795.2h0M1508.8 1780.9h0M1519.2 1779.0h0M1512.6 1797.1h0M1522.2 1795.5h0M1512.6 1807.8h0M1544.1 1770.2h0M1558.0 1774.4h0M1568.4 1772.5h0M1589.5 1771.3h0M1599.1 1778.3h0M1604.9 1786.7h0M1575.3 1785.9h0M1543.4 1789.8h0M1537.6 1799.4h0M1539.5 1813.6h0M1554.9 1814.8h0M1651.0 1782.9h0M1645.2 1787.9h0M1657.9 1790.6h0M1622.2 1791.3h0M1668.3 1804.0h0M1689.4 1810.5h0M2016.9 1767.5h0M2016.9 1778.3h0M2016.9 1794.4h0M2000.8 1757.9h0M2006.6 1759.0h0M1997.0 1764.4h0M1970.0 1764.8h0M1935.5 1765.6h0M1923.9 1766.3h0M1885.5 1767.5h0M1858.6 1768.3h0M1824.7 1769.4h0M1841.3 1773.3h0M1868.2 1777.9h0M1895.1 1772.5h0M1985.4 1774.4h0M2001.9 1786.7h0M1991.2 1791.3h0M1981.6 1788.6h0M1972.7 1788.6h0M1952.7 1805.2h0M1933.5 1807.8h0M1908.5 1813.6h0M1802.8 1797.5h0M1791.3 1805.2h0" fill="none" stroke="#5B87CF" stroke-width="12.7" stroke-linecap="round"/>
<path d="M1424.2 1766.7h620.8M1753.6 1565.52v278.7" stroke="#000" stroke-width="5.5" fill="none"/>
<rect x="1425.55" y="1566.87" width="618.10" height="276.00" fill="none" stroke="#303030" stroke-width="2.9"/>
</g>
<text x="1734.6" y="1542.6" font-size="39.6" text-anchor="middle" fill="#1a1a1a" stroke="#1a1a1a" stroke-width=".45">NonHDL</text>
<g clip-path="url(#c15)">
<path d="M530 2187h0M498 2197h0M479 2201h0M571 2179h0M191 2174h0M328 2195h0M505 2195h0M436 2205h0M369 2192h0M443 2208h0M342 2184h0M355 2188h0M451 2208h0M333 2198h0M442 2209h0M521 2195h0M506 2200h0M582 2194h0M593 2187h0M515 2196h0M372 2195h0M435 2209h0M599 2182h0M389 2193h0M591 2165h0M243 2174h0M223 2180h0M494 2198h0M272 2182h0M600 2187h0M381 2200h0M472 2208h0M346 2191h0M528 2192h0M414 2197h0M286 2165h0M391 2203h0M420 2208h0M431 2205h0M525 2175h0M355 2194h0M482 2204h0M332 2186h0M402 2198h0M529 2198h0M434 2208h0M387 2195h0M510 2174h0M571 2179h0M549 2195h0M517 2179h0M583 2177h0M583 2195h0M645 2180h0M303 2176h0M318 2179h0M444 2209h0M628 2182h0M640 2183h0M482 2202h0M533 2178h0M553 2190h0M411 2204h0M275 2166h0M364 2180h0M433 2203h0M437 2208h0M468 2203h0M612 2179h0M395 2192h0M587 2147h0M553 2197h0M630 2157h0M494 2205h0M359 2197h0M332 2178h0M528 2196h0M633 2176h0M565 2191h0M530 2181h0M388 2194h0M486 2203h0M347 2194h0M397 2197h0M409 2203h0M293 2185h0M419 2204h0M517 2186h0M414 2205h0M454 2209h0M385 2199h0M526 2180h0M538 2182h0M443 2209h0M409 2204h0M502 2204h0M661 2182h0M618 2187h0M649 2172h0M354 2198h0M413 2200h0M341 2190h0M547 2183h0M424 2200h0M619 2186h0M307 2180h0M549 2165h0M384 2196h0M447 2209h0M355 2182h0M483 2200h0M620 2189h0M650 2166h0M634 2164h0M416 2200h0M557 2160h0M435 2207h0M621 2187h0M375 2185h0M474 2208h0M601 2166h0M376 2187h0M280 2184h0M590 2163h0M524 2181h0M678 2176h0M613 2170h0M555 2176h0M409 2206h0M557 2178h0M512 2192h0M448 2210h0M430 2206h0M366 2197h0M402 2200h0M456 2207h0M336 2185h0M503 2172h0M525 2195h0M461 2209h0M455 2208h0M542 2181h0M320 2189h0M352 2181h0M314 2184h0M304 2186h0M442 2210h0M530 2199h0M378 2201h0M363 2185h0M304 2194h0M345 2195h0M495 2198h0M362 2201h0M396 2203h0M409 2206h0M633 2147h0M598 2174h0M451 2207h0M463 2204h0M517 2190h0M507 2202h0M582 2184h0M557 2183h0M608 2154h0M375 2187h0M693 2168h0M556 2163h0M492 2204h0M565 2182h0M652 2179h0M312 2187h0M431 2208h0M575 2179h0M502 2199h0M524 2201h0M466 2203h0M289 2173h0M290 2181h0M410 2196h0M603 2162h0M328 2196h0M404 2204h0M265 2172h0M439 2209h0M490 2202h0M375 2195h0M406 2206h0M506 2203h0M552 2189h0M576 2189h0M366 2180h0M536 2177h0M361 2201h0M376 2199h0M450 2207h0M407 2207h0M483 2194h0M383 2199h0M326 2181h0M517 2198h0M523 2200h0M466 2203h0M618 2178h0M580 2187h0M303 2177h0M391 2200h0M520 2199h0M403 2196h0M647 2186h0M479 2207h0M536 2194h0M437 2205h0M324 2182h0M631 2176h0M310 2171h0M281 2188h0M616 2174h0M513 2184h0M525 2184h0M393 2204h0M583 2158h0M616 2176h0M286 2192h0M451 2209h0M592 2178h0M523 2202h0M446 2208h0M434 2206h0M349 2197h0M265 2168h0M415 2207h0M463 2209h0M554 2189h0M332 2189h0M513 2192h0M476 2205h0M320 2197h0M418 2203h0M403 2204h0M499 2200h0M452 2207h0M527 2195h0M461 2206h0M309 2177h0M564 2179h0M496 2195h0M284 2181h0M405 2203h0M456 2208h0M642 2175h0M361 2182h0M252 2183h0M399 2204h0M478 2205h0M239 2184h0M485 2205h0M329 2198h0M391 2199h0M469 2204h0M383 2204h0M360 2170h0M400 2205h0M408 2202h0M468 2208h0M412 2202h0M512 2200h0M557 2188h0M552 2169h0M626 2180h0M531 2199h0M641 2180h0M396 2203h0M461 2206h0M598 2183h0M332 2195h0M544 2177h0M373 2202h0M575 2186h0M478 2205h0M433 2206h0M386 2199h0M431 2209h0M420 2204h0M665 2182h0M449 2208h0M615 2189h0M449 2208h0M525 2198h0M511 2189h0M406 2204h0M248 2181h0M591 2180h0M389 2188h0M622 2134h0M461 2206h0M477 2205h0M600 2192h0M358 2179h0M492 2205h0M405 2201h0M513 2189h0M448 2209h0M574 2182h0M630 2166h0M516 2178h0M485 2203h0M352 2195h0M461 2207h0M362 2194h0M506 2199h0M390 2194h0M283 2174h0M575 2187h0M537 2196h0M531 2197h0M455 2207h0M560 2188h0M475 2207h0M666 2177h0M296 2188h0M551 2169h0M408 2206h0M568 2170h0M535 2191h0M404 2206h0M535 2185h0M599 2167h0M476 2204h0M380 2190h0M476 2207h0M389 2203h0M315 2145h0M388 2205h0M577 2182h0M298 2186h0M512 2202h0M271 2178h0M595 2164h0M517 2201h0M414 2203h0M477 2204h0M613 2185h0M475 2207h0M396 2198h0M596 2191h0M296 2193h0M322 2178h0M519 2197h0M470 2207h0M287 2182h0M572 2146h0M413 2206h0M401 2202h0M561 2192h0M442 2209h0M496 2194h0M393 2197h0M694 2169h0M491 2205h0M589 2172h0M660 2170h0M547 2171h0M351 2200h0M295 2190h0M418 2206h0M334 2194h0M405 2204h0M318 2196h0M436 2207h0M444 2210h0M441 2208h0M453 2209h0M555 2194h0M543 2198h0M539 2188h0M546 2167h0M547 2190h0M502 2192h0M496 2202h0M465 2207h0M384 2204h0M607 2182h0M459 2206h0M541 2192h0M417 2202h0M614 2181h0M631 2163h0M466 2206h0M327 2192h0M522 2198h0M553 2177h0M468 2207h0M362 2191h0M443 2209h0M481 2205h0M435 2209h0M620 2173h0M248 2183h0M270 2173h0M490 2205h0M343 2179h0M481 2204h0M444 2209h0M429 2204h0M327 2191h0M382 2204h0M577 2193h0M552 2197h0M373 2181h0M376 2204h0M606 2186h0M392 2195h0M525 2178h0M546 2191h0M263 2185h0M559 2194h0M452 2209h0M499 2196h0M367 2200h0M568 2178h0M458 2203h0M425 2207h0M420 2204h0M336 2186h0M382 2192h0M367 2176h0M404 2200h0M419 2204h0M375 2195h0M548 2195h0M494 2188h0M487 2205h0M473 2204h0M500 2195h0M387 2191h0M526 2179h0M283 2186h0M308 2193h0M593 2181h0M395 2202h0M404 2200h0M607 2135h0M327 2189h0M226 2173h0M314 2170h0M456 2209h0M329 2196h0M378 2198h0M603 2176h0M564 2191h0M505 2182h0M571 2162h0M434 2208h0M320 2190h0M418 2203h0M561 2195h0M544 2200h0M597 2162h0M486 2199h0M401 2205h0M521 2190h0M297 2186h0M418 2206h0M248 2183h0M383 2199h0M372 2198h0M670 2169h0M431 2205h0M503 2201h0M541 2194h0M507 2186h0M510 2189h0M321 2184h0M522 2167h0M316 2192h0M447 2209h0M575 2185h0M558 2178h0M287 2183h0M612 2175h0M489 2206h0M291 2192h0M476 2197h0M400 2202h0M544 2198h0M401 2206h0M298 2178h0M486 2202h0M425 2203h0M562 2194h0M316 2183h0M574 2187h0M423 2208h0M571 2192h0M462 2208h0M639 2177h0M514 2190h0M457 2209h0M388 2188h0M506 2202h0M545 2186h0M481 2203h0M507 2198h0M501 2192h0M387 2200h0M521 2195h0M339 2194h0M361 2201h0M431 2204h0M404 2207h0M575 2174h0M479 2202h0M380 2204h0M592 2178h0M175 2166h0M603 2186h0M419 2208h0M541 2181h0M535 2174h0M479 2205h0M471 2206h0M318 2178h0M451 2207h0M453 2206h0M612 2166h0M436 2208h0M388 2193h0M266 2183h0M367 2201h0M354 2177h0M412 2200h0M326 2180h0M426 2204h0M558 2186h0M633 2187h0M501 2200h0M599 2182h0M498 2205h0M492 2194h0M484 2202h0M488 2204h0M606 2177h0M471 2208h0M532 2171h0M290 2171h0M538 2196h0M367 2189h0M526 2190h0M511 2197h0M630 2188h0M295 2187h0M447 2210h0M313 2180h0M362 2192h0M594 2173h0M485 2198h0M544 2183h0M539 2195h0M574 2175h0M322 2166h0M545 2192h0M606 2158h0M599 2186h0M487 2207h0M335 2191h0M408 2196h0M235 2175h0M358 2190h0M428 2208h0M614 2180h0M365 2190h0M476 2205h0M349 2189h0M441 2207h0M475 2206h0M341 2175h0M362 2192h0M578 2185h0M591 2192h0M525 2196h0M385 2204h0M448 2208h0M598 2161h0M630 2174h0M503 2193h0M557 2189h0M476 2207h0M498 2190h0M306 2183h0M433 2204h0M584 2187h0M519 2196h0M374 2191h0M305 2170h0M356 2182h0M548 2184h0M369 2181h0M294 2181h0M395 2198h0M300 2190h0M392 2201h0M433 2207h0M608 2168h0M273 2178h0M454 2207h0M546 2188h0M508 2196h0M636 2183h0M305 2174h0M467 2201h0M380 2203h0M372 2185h0M591 2191h0M471 2208h0M313 2177h0M275 2174h0M301 2175h0M323 2197h0M509 2201h0M568 2184h0M586 2189h0M387 2195h0M578 2173h0M529 2192h0M513 2192h0M335 2196h0M447 2207h0M443 2207h0M609 2177h0M355 2194h0M475 2205h0M496 2199h0M211 2179h0M485 2203h0M539 2198h0M643 2186h0M636 2177h0M406 2206h0M526 2189h0M584 2190h0M388 2194h0M459 2207h0M512 2196h0M581 2180h0M612 2184h0M573 2173h0M395 2192h0M428 2204h0M570 2194h0M486 2202h0M630 2169h0M561 2181h0M495 2193h0M561 2188h0M537 2192h0M365 2194h0M384 2200h0M298 2190h0M302 2190h0M556 2183h0M535 2198h0M489 2195h0M620 2185h0M460 2207h0M554 2182h0M463 2204h0M477 2204h0M430 2207h0M572 2197h0M314 2189h0M432 2208h0M630 2164h0M300 2190h0M542 2190h0M578 2182h0M362 2192h0M600 2185h0M562 2181h0M281 2175h0M278 2187h0M298 2187h0M409 2201h0M343 2185h0M296 2184h0M582 2192h0M535 2197h0M531 2180h0M348 2187h0M573 2180h0M415 2203h0M381 2202h0M410 2199h0M306 2172h0M533 2178h0M420 2208h0M346 2192h0M553 2192h0M628 2131h0M591 2190h0M511 2203h0M416 2206h0M302 2169h0M309 2191h0M457 2206h0M532 2192h0M389 2196h0M508 2186h0M446 2208h0M240 2174h0M373 2188h0M581 2168h0M416 2202h0M517 2177h0M466 2208h0M435 2209h0M622 2168h0M387 2202h0M530 2178h0M383 2192h0M342 2197h0M459 2206h0M545 2200h0M594 2182h0M459 2205h0M307 2180h0M590 2179h0M603 2180h0M472 2208h0M586 2165h0M570 2176h0M595 2185h0M426 2198h0M444 2210h0M300 2191h0M597 2178h0M565 2185h0M536 2174h0M288 2178h0M379 2202h0M598 2176h0M618 2154h0M565 2165h0M394 2188h0M255 2184h0M454 2209h0M500 2197h0M575 2173h0M461 2203h0M596 2186h0M607 2190h0M281 2184h0M561 2183h0M454 2209h0M611 2176h0M547 2154h0M458 2205h0M285 2173h0M505 2195h0M357 2186h0M389 2194h0M506 2203h0M574 2183h0M658 2171h0M483 2199h0M656 2176h0M443 2210h0M482 2206h0M366 2193h0M280 2187h0M606 2174h0M350 2197h0M554 2171h0M590 2175h0M525 2198h0M524 2194h0M683 2178h0M452 2209h0M566 2196h0M318 2173h0M442 2209h0M348 2171h0M509 2199h0M296 2193h0M410 2202h0M467 2203h0M390 2182h0M570 2192h0M598 2183h0M441 2209h0M313 2167h0M653 2159h0M364 2203h0M514 2195h0M504 2198h0M432 2205h0M609 2180h0M345 2190h0M388 2194h0M533 2175h0M266 2177h0M451 2208h0M412 2197h0M562 2176h0M511 2203h0M568 2171h0M518 2195h0M569 2192h0M374 2186h0M538 2194h0M523 2200h0M510 2192h0M470 2207h0M535 2200h0M391 2206h0M314 2180h0M589 2184h0M549 2181h0M433 2208h0M329 2186h0M587 2168h0M601 2186h0M446 2207h0M365 2196h0M397 2194h0M476 2201h0M400 2205h0M529 2157h0M636 2168h0M435 2209h0M447 2208h0M438 2209h0M569 2181h0M485 2203h0M500 2198h0M621 2183h0M614 2179h0M425 2207h0M415 2206h0M315 2174h0M536 2192h0M504 2195h0M453 2208h0M509 2193h0M649 2179h0M533 2202h0M318 2183h0M519 2184h0M398 2196h0M429 2206h0M273.0 2037.7h0M637.4 2070.0h0M564.0 2103.4h0M605.5 2105.4h0M558.2 2113.8h0M726.6 2111.9h0M570.1 2125.3h0M223.8 2118.4h0M321.0 2138.0h0M324.9 2140.7h0M303.0 2141.9h0M291.4 2146.5h0M261.5 2143.8h0M192.3 2146.5h0M224.2 2150.3h0M162.3 2155.3h0M176.9 2158.0h0M181.9 2156.1h0M176.1 2172.2h0M201.9 2176.5h0M210.3 2179.5h0M227.6 2184.2h0M238.4 2183.4h0M223.0 2163.0h0M229.6 2166.9h0M247.2 2154.2h0M267.2 2158.0h0M281.8 2155.3h0M301.8 2157.3h0M312.2 2158.8h0M350.6 2158.8h0M365.2 2172.6h0M386.4 2181.9h0M630.8 2131.1h0M640.1 2138.8h0M586.3 2140.0h0M606.6 2143.8h0M623.5 2146.5h0M670.8 2138.8h0M681.6 2127.3h0M681.6 2135.0h0M695.0 2126.1h0M704.3 2124.2h0M706.6 2134.2h0M701.6 2139.6h0M726.6 2142.6h0M726.6 2150.3h0M726.6 2158.0h0M726.6 2176.5h0M699.7 2179.5h0M705.4 2156.1h0M507.5 2152.3h0M519.0 2163.8h0M547.8 2154.9h0M647.8 2183.0h0M659.3 2183.0h0M618.2 2190.7h0M628.5 2184.2h0M642.0 2167.6h0M653.5 2161.9h0M689.3 2159.2h0M682.4 2169.6h0M668.9 2178.4h0" fill="none" stroke="#5B87CF" stroke-width="12.7" stroke-linecap="round"/>
<path d="M134.2 2148.8h620.8M459.8 1943.85v278.7" stroke="#000" stroke-width="5.5" fill="none"/>
<rect x="135.55" y="1945.20" width="618.10" height="276.00" fill="none" stroke="#303030" stroke-width="2.9"/>
</g>
<text x="444.6" y="1920.9" font-size="39.6" text-anchor="middle" fill="#1a1a1a" stroke="#1a1a1a" stroke-width=".45">TC</text>
<path d="M121.9 2210.1H134.2M121.9 2146.1H134.2M121.9 2082.2H134.2M121.9 2018.2H134.2M121.9 1954.3H134.2" stroke="#333" stroke-width="4.6" fill="none"/>
<text x="112.3" y="2223.6" font-size="39.6" text-anchor="end" fill="#000" stroke="#000" stroke-width=".45">0</text>
<text x="112.3" y="2159.6" font-size="39.6" text-anchor="end" fill="#000" stroke="#000" stroke-width=".45">3</text>
<text x="112.3" y="2095.7" font-size="39.6" text-anchor="end" fill="#000" stroke="#000" stroke-width=".45">6</text>
<text x="112.3" y="2031.7" font-size="39.6" text-anchor="end" fill="#000" stroke="#000" stroke-width=".45">9</text>
<text x="112.3" y="1967.8" font-size="39.6" text-anchor="end" fill="#000" stroke="#000" stroke-width=".45">12</text>
<g clip-path="url(#c16)">
<path d="M997 2200h0M1236 2188h0M1275 2182h0M1270 2177h0M1112 2204h0M1142 2197h0M1044 2200h0M1125 2204h0M1048 2202h0M1111 2207h0M1050 2204h0M999 2190h0M1271 2177h0M1264 2167h0M912 2172h0M1036 2205h0M1268 2157h0M1155 2196h0M1145 2202h0M977 2193h0M1198 2188h0M1162 2193h0M1007 2193h0M1218 2193h0M962 2190h0M881 2184h0M1056 2197h0M1233 2189h0M1100 2208h0M1051 2203h0M1352 2170h0M1172 2202h0M1199 2186h0M1113 2206h0M1254 2178h0M1188 2185h0M1173 2198h0M1098 2209h0M1032 2193h0M1026 2187h0M1161 2178h0M1114 2208h0M1007 2192h0M1092 2209h0M896 2178h0M1256 2185h0M1086 2209h0M1026 2190h0M1191 2194h0M1135 2200h0M1029 2202h0M1228 2186h0M1062 2202h0M1025 2187h0M914 2190h0M1091 2208h0M1147 2198h0M1024 2202h0M924 2178h0M1142 2204h0M1008 2193h0M1193 2180h0M1057 2205h0M885 2180h0M1132 2201h0M1222 2187h0M949 2176h0M1025 2204h0M1258 2182h0M1173 2196h0M1085 2209h0M931 2183h0M1313 2175h0M1138 2192h0M968 2193h0M1236 2161h0M1267 2166h0M1301 2176h0M1198 2186h0M1144 2191h0M1274 2170h0M1239 2169h0M904 2187h0M1051 2207h0M1253 2161h0M1191 2180h0M1168 2197h0M1252 2177h0M1082 2207h0M1281 2183h0M1054 2207h0M1103 2207h0M1192 2197h0M910 2187h0M1099 2207h0M1103 2208h0M960 2181h0M999 2183h0M1144 2196h0M1222 2196h0M1176 2185h0M1082 2209h0M1042 2196h0M1274 2170h0M999 2196h0M1049 2205h0M848 2176h0M1155 2203h0M1188 2193h0M1122 2206h0M1020 2200h0M1128 2204h0M1125 2206h0M1233 2187h0M1129 2199h0M1136 2204h0M1102 2205h0M1171 2198h0M960 2185h0M1261 2174h0M1183 2196h0M985 2177h0M1165 2174h0M1221 2191h0M1011 2180h0M1029 2199h0M1233 2188h0M1125 2205h0M1124 2203h0M1197 2185h0M1036 2203h0M1093 2208h0M1256 2184h0M1056 2204h0M1183 2199h0M1107 2204h0M1267 2179h0M1206 2194h0M1287 2162h0M952 2189h0M972 2191h0M1217 2193h0M1005 2185h0M1241 2192h0M1064 2203h0M1284 2172h0M1158 2203h0M1028 2188h0M1146 2201h0M1186 2194h0M1137 2205h0M1021 2196h0M951 2189h0M1224 2183h0M1236 2183h0M995 2190h0M975 2192h0M975 2186h0M1137 2203h0M1082 2209h0M1133 2198h0M1197 2173h0M1017 2189h0M1359 2170h0M985 2185h0M1208 2180h0M1220 2148h0M1245 2189h0M1193 2197h0M897 2185h0M1050 2201h0M961 2169h0M975 2192h0M1136 2206h0M1062 2207h0M1209 2178h0M1009 2201h0M908 2182h0M1090 2210h0M968 2186h0M1117 2205h0M1082 2208h0M1300 2181h0M1328 2169h0M1257 2190h0M1018 2202h0M1151 2193h0M1125 2204h0M1166 2203h0M937 2173h0M1084 2209h0M1163 2192h0M1157 2194h0M1027 2198h0M961 2193h0M1010 2188h0M1164 2178h0M964 2191h0M1124 2206h0M957 2196h0M1028 2202h0M1151 2187h0M1028 2200h0M1038 2200h0M947 2191h0M1108 2203h0M1050 2203h0M1298 2177h0M1126 2206h0M999 2197h0M892 2172h0M992 2162h0M1209 2179h0M1203 2166h0M1192 2189h0M1327 2167h0M1056 2199h0M946 2181h0M1076 2205h0M915 2186h0M1137 2194h0M1024 2192h0M1017 2189h0M1050 2206h0M1138 2204h0M1032 2201h0M1168 2183h0M1202 2198h0M1215 2193h0M893 2181h0M1054 2207h0M1265 2190h0M1009 2186h0M1111 2201h0M1012 2199h0M1090 2210h0M1001 2202h0M1211 2197h0M1157 2200h0M1253 2187h0M1117 2206h0M1087 2207h0M917 2178h0M1004 2200h0M876 2173h0M944 2183h0M962 2177h0M1000 2190h0M931 2168h0M1143 2197h0M1035 2204h0M1057 2201h0M1165 2203h0M985 2183h0M1203 2194h0M1194 2175h0M1125 2205h0M1111 2201h0M1109 2205h0M1212 2177h0M1020 2200h0M995 2184h0M1208 2177h0M1093 2209h0M1226 2190h0M1137 2206h0M987 2187h0M1140 2205h0M972 2181h0M1159 2202h0M958 2182h0M957 2195h0M986 2177h0M958 2187h0M1169 2199h0M1225 2190h0M1341 2168h0M1001 2187h0M1304 2180h0M1200 2196h0M977 2185h0M917 2173h0M1106 2207h0M1082 2207h0M1011 2198h0M956 2175h0M1086 2210h0M1082 2208h0M1137 2202h0M1187 2201h0M1176 2198h0M1056 2203h0M1290 2186h0M926 2185h0M1220 2187h0M953 2174h0M1045 2205h0M1229 2184h0M924 2169h0M1065 2202h0M1246 2181h0M1150 2195h0M1098 2209h0M1098 2208h0M1173 2186h0M987 2177h0M1008 2192h0M1102 2209h0M871 2181h0M1142 2200h0M986 2193h0M1050 2203h0M959 2184h0M1160 2183h0M1059 2199h0M904 2170h0M1166 2203h0M1256 2189h0M1243 2178h0M950 2189h0M1070 2208h0M1055 2206h0M1005 2197h0M1043 2204h0M1222 2186h0M1176 2191h0M862 2174h0M965 2156h0M1010 2188h0M1227 2173h0M1249 2191h0M964 2175h0M929 2187h0M1134 2192h0M1072 2207h0M1124 2206h0M1120 2206h0M1221 2175h0M1177 2200h0M986 2199h0M1109 2208h0M1076 2206h0M1122 2206h0M1231 2169h0M1307 2177h0M1045 2200h0M1198 2194h0M1090 2210h0M1043 2205h0M1056 2207h0M1219 2190h0M1106 2208h0M987 2183h0M977 2191h0M1160 2195h0M995 2182h0M1131 2204h0M1273 2177h0M1143 2196h0M1147 2205h0M1149 2196h0M1167 2190h0M1166 2203h0M1136 2206h0M1164 2188h0M977 2193h0M1005 2194h0M950 2186h0M986 2182h0M994 2197h0M1032 2197h0M1224 2187h0M966 2174h0M1085 2208h0M1117 2203h0M1011 2200h0M1025 2201h0M1004 2191h0M1143 2201h0M984 2193h0M1019 2194h0M1250 2179h0M1075 2209h0M1136 2202h0M1102 2209h0M1240 2188h0M1144 2191h0M1131 2202h0M1095 2208h0M908 2176h0M1202 2192h0M1054 2206h0M1168 2192h0M1101 2208h0M1191 2194h0M1156 2203h0M1116 2205h0M1104 2208h0M1266 2163h0M1114 2207h0M997 2198h0M1133 2202h0M1195 2179h0M1089 2210h0M1109 2203h0M1107 2208h0M1169 2201h0M1061 2204h0M971 2198h0M1004 2187h0M1068 2202h0M1102 2209h0M965 2195h0M1249 2181h0M988 2185h0M1226 2189h0M979 2152h0M1127 2205h0M951 2188h0M1207 2185h0M1104 2208h0M1099 2209h0M978 2174h0M1135 2204h0M1107 2207h0M1012 2200h0M983 2182h0M1133 2205h0M1144 2195h0M1264 2188h0M1149 2202h0M956 2177h0M1017 2185h0M1258 2169h0M1253 2175h0M1026 2203h0M1124 2207h0M1136 2204h0M941 2187h0M1177 2197h0M1117 2205h0M1004 2197h0M1214 2192h0M915 2183h0M1058 2206h0M996 2189h0M1132 2205h0M919 2180h0M1021 2193h0M981 2178h0M1196 2181h0M980 2187h0M938 2175h0M1036 2200h0M1173 2200h0M1163 2191h0M1035 2199h0M1080 2207h0M1033 2195h0M1162 2185h0M985 2199h0M1043 2203h0M915 2188h0M1074 2204h0M1118 2202h0M1265 2184h0M1204 2187h0M1278 2186h0M1055 2201h0M1113 2207h0M1043 2197h0M1015 2195h0M1093 2208h0M940 2175h0M1070 2206h0M1139 2205h0M937 2176h0M1217 2155h0M1109 2208h0M1338 2164h0M985 2183h0M1157 2189h0M1237 2178h0M1230 2181h0M1188 2201h0M924 2169h0M1201 2182h0M1238 2172h0M1156 2185h0M1051 2202h0M998 2200h0M1035 2187h0M1156 2204h0M1180 2187h0M1191 2182h0M1273 2182h0M1128 2206h0M1183 2180h0M1033 2188h0M1024 2199h0M950 2184h0M995 2188h0M1242 2188h0M952 2177h0M996 2186h0M1202 2182h0M1166 2185h0M1196 2174h0M947 2190h0M1003 2197h0M1188 2198h0M1263 2186h0M1216 2177h0M1088 2209h0M1007 2194h0M1171 2196h0M1164 2196h0M1164 2193h0M1102 2208h0M1003 2198h0M1103 2207h0M1222 2188h0M1084 2209h0M1043 2194h0M965 2192h0M1082 2209h0M936 2188h0M1198 2195h0M1017 2196h0M1003 2196h0M1272 2169h0M1119 2205h0M1018 2203h0M1223 2174h0M1251 2186h0M1058 2207h0M1104 2204h0M1066 2204h0M1126 2206h0M1039 2204h0M1110 2208h0M1304 2171h0M1113 2206h0M985 2191h0M1189 2184h0M1285 2185h0M1023 2189h0M1007 2186h0M1158 2187h0M999 2201h0M1184 2184h0M1151 2196h0M1200 2185h0M1141 2200h0M1305 2170h0M937 2186h0M1152 2205h0M970 2188h0M1247 2184h0M889 2184h0M1321 2175h0M1016 2196h0M1000 2200h0M1246 2186h0M1178 2190h0M1141 2204h0M1223 2178h0M1180 2183h0M1090 2207h0M1122 2206h0M959 2194h0M1095 2208h0M964 2189h0M1068 2202h0M1067 2206h0M1002 2193h0M1150 2199h0M1268 2174h0M999 2180h0M1077 2208h0M1123 2205h0M1227 2175h0M1032 2202h0M1011 2200h0M1072 2207h0M1033 2204h0M1137 2204h0M1064 2208h0M1135 2201h0M1132 2199h0M1152 2192h0M950 2182h0M1040 2193h0M1168 2183h0M1305 2180h0M1250 2174h0M1003 2186h0M995 2185h0M936 2169h0M1041 2204h0M1249 2190h0M1027 2195h0M1240 2158h0M1113 2207h0M1315 2162h0M1154 2198h0M912 2189h0M1205 2179h0M1188 2197h0M1043 2202h0M1089 2210h0M967 2195h0M1066 2208h0M1023 2194h0M1163 2187h0M1215 2171h0M980 2193h0M1014 2199h0M1113 2206h0M1137 2202h0M1132 2202h0M1177 2194h0M1152 2202h0M1029 2186h0M1094 2207h0M1188 2196h0M975 2197h0M1110 2206h0M1225 2182h0M1106 2207h0M1040 2205h0M1002 2198h0M991 2200h0M1251 2180h0M1297 2179h0M1218 2172h0M993 2190h0M1139 2205h0M1197 2192h0M1072 2207h0M1043 2203h0M1036 2204h0M1163 2198h0M1105 2209h0M1077 2205h0M991 2196h0M1276 2187h0M1042 2194h0M1136 2198h0M1220 2171h0M1354 2166h0M1175 2195h0M1020 2202h0M1215 2183h0M1140 2196h0M928 2179h0M931 2190h0M1001 2199h0M1121 2204h0M1042 2198h0M1094 2207h0M1172 2194h0M1076 2207h0M976 2192h0M1175 2200h0M1109 2206h0M1210 2163h0M1086 2209h0M1274 2187h0M1167 2199h0M1149 2185h0M1104 2208h0M1059 2205h0M1193 2195h0M1226 2177h0M1156 2201h0M1096 2208h0M1055 2203h0M1018 2184h0M1204 2191h0M1089 2209h0M1178 2201h0M934 2190h0M1071 2203h0M1102 2207h0M1035 2204h0M1099 2208h0M981 2191h0M1131 2206h0M1099 2209h0M1139 2204h0M1107 2207h0M1024 2188h0M970 2186h0M1225 2189h0M1037 2194h0M1211 2195h0M975 2176h0M1071 2205h0M1103 2207h0M1012 2191h0M1215 2193h0M1166 2189h0M1219 2190h0M916 2178h0M1232 2184h0M992 2193h0M1173 2201h0M1171 2202h0M1039 2202h0M1011 2198h0M1147 2200h0M1075 2207h0M1130 2202h0M1104 2205h0M1148 2204h0M1009 2202h0M1079 2205h0M1112 2208h0M1027 2196h0M1286 2185h0M1183 2196h0M940 2184h0M1235 2173h0M1276 2174h0M981 2191h0M1071 2205h0M982 2190h0M1231 2166h0M877 2177h0M926 2175h0M1152 2200h0M1207 2198h0M1159 2185h0M1281 2175h0M1271 2174h0M1027 2202h0M1213 2189h0M1223 2159h0M1256 2184h0M932 2177h0M1279 2184h0M1248 2182h0M1233 2190h0M920 2176h0M1137 2199h0M1169 2190h0M1248 2178h0M941 2191h0M1080 2208h0M1088 2208h0M1099 2207h0M1249 2187h0M1268 2188h0M1127 2202h0M1009 2199h0M1325 2167h0M1067 2206h0M969 2197h0M954 2174h0M1008 2189h0M1198 2176h0M1130 2203h0M988 2198h0M1137 2205h0M1269 2172h0M1034 2197h0M1227 2194h0M1172 2195h0M1013 2203h0M1102 2209h0M1180 2187h0M1128 2201h0M1232 2191h0M1212 2194h0M1079 2209h0M974 2183h0M1184 2185h0M1202 2191h0M1139 2204h0M1145 2193h0M1290 2170h0M934 2169h0M936 2184h0M1103 2206h0M973 2187h0M1273 2175h0M1049 2202h0M1287 2166h0M1195 2183h0M1105 2208h0M1034 2190h0M1165 2202h0M1093 2210h0M1039 2203h0M1132 2205h0M1229 2192h0M1182 2196h0M1123 2202h0M1107 2207h0M1150 2204h0M1151 2201h0M1018 2193h0M1011 2199h0M998 2188h0M936 2189h0M1161 2189h0M997 2196h0M1068 2204h0M1288 2182h0M1128 2203h0M958 2182h0M987 2185h0M1151 2190h0M1197 2172h0M1012 2181h0M1180 2191h0M1275 2187h0M1203 2179h0M905 2186h0M954 2189h0M1150 2195h0M1051 2203h0M1178 2189h0M1187 2198h0M945 2182h0M1111 2206h0M1217 2174h0M1163 2196h0M1144 2201h0M908.4 2021.9h0M1312.0 2088.4h0M940.3 2111.1h0M874.2 2119.6h0M1256.2 2102.3h0M1202.0 2115.0h0M1243.9 2116.5h0M1345.4 2116.1h0M1364.3 2119.6h0M1272.8 2127.3h0M1215.5 2131.9h0M1211.3 2138.0h0M1235.1 2134.2h0M1302.8 2135.7h0M807.3 2138.8h0M807.3 2143.4h0M818.0 2143.4h0M908.4 2145.3h0M921.1 2142.6h0M931.4 2144.6h0M951.4 2146.5h0M884.5 2152.3h0M921.1 2155.3h0M807.3 2165.7h0M807.3 2168.8h0M827.7 2162.6h0M841.9 2176.1h0M841.9 2172.2h0M858.4 2166.9h0M862.3 2168.4h0M875.7 2166.9h0M883.4 2181.9h0M946.8 2163.8h0M986.4 2166.9h0M1008.3 2170.3h0M1016.0 2174.2h0M1033.7 2184.2h0M1260.9 2141.5h0M1276.6 2146.5h0M1293.5 2144.6h0M1301.6 2144.6h0M1185.9 2147.3h0M1228.6 2148.4h0M1209.4 2156.1h0M1345.4 2144.6h0M1358.1 2138.0h0M1363.9 2136.9h0M1371.6 2141.9h0M1371.6 2146.5h0M1314.7 2151.1h0M1326.2 2159.2h0M1338.1 2159.2h0M1352.3 2160.7h0M1371.6 2160.7h0M1366.9 2171.5h0M1362.0 2179.2h0M1367.7 2178.0h0M1152.5 2168.0h0M1171.7 2171.5h0M1162.1 2178.0h0M1297.8 2183.0h0M1308.9 2181.9h0M1277.4 2186.8h0M1279.3 2180.3h0" fill="none" stroke="#5B87CF" stroke-width="12.7" stroke-linecap="round"/>
<path d="M779.2 2151.1h620.8M1102.1 1943.85v278.7" stroke="#000" stroke-width="5.5" fill="none"/>
<rect x="780.55" y="1945.20" width="618.10" height="276.00" fill="none" stroke="#303030" stroke-width="2.9"/>
</g>
<text x="1089.6" y="1920.9" font-size="39.6" text-anchor="middle" fill="#1a1a1a" stroke="#1a1a1a" stroke-width=".45">LDL</text>
<path d="M807.4 2222.5499999999997v12.3M948.5 2222.5499999999997v12.3M1089.6 2222.5499999999997v12.3M1230.7 2222.5499999999997v12.3M1371.8 2222.5499999999997v12.3" stroke="#333" stroke-width="4.6" fill="none"/>
<text x="807.4" y="2272.5" font-size="39.6" text-anchor="middle" fill="#000" stroke="#000" stroke-width=".45">-1.0</text>
<text x="948.5" y="2272.5" font-size="39.6" text-anchor="middle" fill="#000" stroke="#000" stroke-width=".45">-0.5</text>
<text x="1089.6" y="2272.5" font-size="39.6" text-anchor="middle" fill="#000" stroke="#000" stroke-width=".45">0.0</text>
<text x="1230.7" y="2272.5" font-size="39.6" text-anchor="middle" fill="#000" stroke="#000" stroke-width=".45">0.5</text>
<text x="1371.8" y="2272.5" font-size="39.6" text-anchor="middle" fill="#000" stroke="#000" stroke-width=".45">1.0</text>
<g clip-path="url(#c17)">
<path d="M1881 2191h0M1634 2198h0M1794 2203h0M1709 2207h0M1764 2205h0M1688 2206h0M1824 2202h0M1721 2207h0M1643 2192h0M1779 2206h0M1877 2191h0M1693 2205h0M1527 2182h0M1883 2193h0M1890 2186h0M1871 2194h0M1814 2193h0M1696 2204h0M1751 2209h0M1608 2187h0M1895 2181h0M1622 2195h0M1827 2194h0M1841 2195h0M1599 2195h0M1734 2210h0M1577 2188h0M1832 2191h0M1590 2194h0M1849 2192h0M1726 2209h0M1566 2189h0M1840 2193h0M1572 2183h0M1645 2200h0M1931 2172h0M1866 2189h0M1914 2182h0M1684 2205h0M1839 2190h0M1594 2188h0M1935 2181h0M1598 2195h0M1860 2190h0M1866 2188h0M1820 2201h0M1679 2201h0M1699 2206h0M1811 2189h0M1675 2197h0M1739 2208h0M1769 2206h0M1927 2182h0M1583 2188h0M1626 2196h0M1912 2176h0M1627 2192h0M1735 2209h0M1637 2200h0M1832 2200h0M1806 2199h0M1718 2207h0M1708 2205h0M1731 2209h0M1648 2194h0M1682 2202h0M1657 2198h0M1612 2194h0M1884 2192h0M1864 2194h0M1639 2197h0M1879 2192h0M1821 2202h0M1610 2193h0M1778 2205h0M1862 2191h0M1676 2200h0M1887 2184h0M1785 2202h0M1706 2207h0M1866 2180h0M1711 2206h0M1922 2178h0M1631 2197h0M1749 2209h0M1835 2190h0M1814 2190h0M1871 2194h0M1897 2178h0M1848 2185h0M1630 2197h0M1664 2193h0M1668 2203h0M1708 2206h0M1684 2205h0M1664 2203h0M1590 2186h0M1824 2191h0M1626 2199h0M1931 2180h0M1818 2198h0M1564 2189h0M1854 2193h0M1659 2202h0M1976 2173h0M1739 2209h0M1864 2191h0M1721 2209h0M1741 2209h0M1902 2186h0M1567 2181h0M1613 2189h0M1632 2199h0M1591 2188h0M1749 2208h0M1669 2201h0M1737 2207h0M1813 2201h0M1845 2196h0M1756 2207h0M1671 2204h0M1874 2194h0M1687 2204h0M1883 2193h0M1843 2198h0M1762 2206h0M1533 2185h0M1856 2182h0M1843 2188h0M1562 2189h0M1747 2208h0M1916 2183h0M1851 2195h0M1837 2199h0M1645 2189h0M1915 2176h0M1904 2175h0M1572 2185h0M1756 2207h0M1905 2178h0M1705 2204h0M1919 2182h0M1652 2202h0M1713 2206h0M1557 2186h0M1699 2205h0M1570 2184h0M1605 2195h0M1930 2183h0M1745 2208h0M1638 2198h0M1653 2199h0M1649 2194h0M1785 2200h0M1761 2206h0M1786 2201h0M1674 2203h0M1744 2209h0M1731 2209h0M1594 2189h0M1896 2186h0M1901 2185h0M1716 2206h0M1598 2194h0M1660 2196h0M1823 2200h0M1607 2193h0M1846 2198h0M1864 2195h0M1840 2183h0M1858 2188h0M1671 2199h0M1830 2193h0M1748 2207h0M1838 2195h0M1720 2208h0M1734 2209h0M1757 2207h0M1781 2204h0M1718 2207h0M1700 2205h0M1859 2192h0M1885 2181h0M1587 2186h0M1628 2195h0M1720 2207h0M1654 2199h0M1753 2209h0M1783 2206h0M1694 2206h0M1817 2199h0M1698 2207h0M1824 2201h0M1641 2190h0M1805 2198h0M1751 2209h0M1768 2205h0M1804 2195h0M1584 2191h0M2002 2169h0M1793 2200h0M1867 2193h0M1740 2209h0M1754 2206h0M1865 2194h0M1581 2191h0M1820 2198h0M1660 2199h0M1661 2201h0M1864 2191h0M1638 2199h0M1781 2204h0M1648 2197h0M1829 2200h0M1589 2193h0M1669 2204h0M1771 2205h0M1755 2206h0M1952 2184h0M1766 2207h0M1571 2189h0M1716 2205h0M1671 2200h0M1670 2195h0M1738 2209h0M1639 2187h0M1804 2202h0M1688 2206h0M1622 2188h0M1706 2205h0M1676 2201h0M1614 2197h0M1745 2207h0M1757 2208h0M1779 2204h0M1567 2185h0M1663 2198h0M1619 2196h0M1711 2206h0M1666 2199h0M1744 2208h0M1578 2184h0M1616 2196h0M1845 2194h0M1716 2208h0M1799 2201h0M1744 2209h0M1773 2204h0M1591 2185h0M1831 2200h0M1729 2209h0M1841 2196h0M1846 2194h0M1702 2207h0M1686 2202h0M1872 2194h0M1554 2188h0M1593 2185h0M1784 2204h0M1798 2200h0M1873 2194h0M1769 2207h0M1788 2204h0M1926 2179h0M1841 2197h0M1825 2193h0M1772 2207h0M1985 2170h0M1649 2197h0M1736 2209h0M1861 2186h0M1769 2205h0M1645 2198h0M1693 2206h0M1816 2202h0M1839 2197h0M1680 2204h0M1854 2186h0M1664 2199h0M1869 2187h0M1917 2179h0M1566 2188h0M1912 2176h0M1749 2207h0M1873 2189h0M1635 2188h0M1859 2196h0M1866 2195h0M1767 2205h0M1682 2204h0M1859 2184h0M1625 2193h0M1705 2206h0M1894 2186h0M1885 2186h0M1583 2189h0M1676 2199h0M1783 2206h0M1674 2200h0M1604 2192h0M1794 2203h0M1557 2186h0M1883 2186h0M1699 2206h0M1952 2170h0M1748 2207h0M1995 2175h0M1796 2202h0M1681 2201h0M1968 2171h0M1709 2205h0M1880 2189h0M1799 2200h0M1622 2189h0M1824 2196h0M1764 2207h0M1760 2206h0M1747 2208h0M1775 2207h0M1700 2207h0M1655 2201h0M1874 2183h0M1874 2192h0M1641 2191h0M1936 2179h0M1779 2203h0M1826 2200h0M1714 2208h0M1725 2209h0M1773 2207h0M1626 2188h0M1670 2202h0M1795 2204h0M1895 2178h0M1872 2187h0M1872 2193h0M1773 2205h0M1813 2199h0M1836 2194h0M1648 2194h0M1764 2206h0M1749 2207h0M1770 2207h0M1833 2201h0M1807 2199h0M1663 2200h0M1715 2207h0M1776 2205h0M1822 2201h0M1669 2203h0M1898 2180h0M1825 2200h0M1639 2198h0M1901 2189h0M1570 2190h0M1740 2209h0M1883 2182h0M1574 2191h0M1883 2188h0M1804 2201h0M1758 2207h0M1776 2206h0M1884 2193h0M1753 2207h0M1748 2208h0M1838 2200h0M1902 2185h0M1656 2202h0M1605 2189h0M1832 2196h0M1609 2196h0M1641 2187h0M1689 2204h0M1917 2176h0M1783 2202h0M1696 2205h0M1658 2197h0M1983 2180h0M1669 2203h0M1784 2205h0M1865 2189h0M1731 2208h0M1686 2206h0M1643 2192h0M1646 2197h0M1703 2203h0M1862 2190h0M1798 2203h0M1843 2194h0M1730 2210h0M1987 2170h0M1815 2195h0M1660 2198h0M1847 2197h0M1597 2181h0M1869 2184h0M1812 2198h0M1512 2179h0M1927 2185h0M1815 2202h0M1834 2195h0M1821 2198h0M1842 2191h0M1598 2189h0M1736 2209h0M1576 2187h0M1640 2190h0M1825 2198h0M1684 2206h0M1626 2199h0M1762 2204h0M1639 2197h0M1700 2205h0M1905 2186h0M1885 2189h0M1724 2208h0M1817 2197h0M1865 2191h0M1585 2192h0M1692 2202h0M1639 2194h0M1918 2176h0M1625 2198h0M1739 2207h0M1736 2210h0M1726 2208h0M1894 2190h0M1735 2209h0M1640 2183h0M1889 2191h0M1818 2201h0M1797 2195h0M1656 2202h0M1786 2200h0M1643 2201h0M1799 2203h0M1579 2191h0M1740 2209h0M1798 2203h0M1745 2207h0M1578 2187h0M1762 2208h0M1906 2190h0M1592 2190h0M1848 2186h0M1759 2208h0M1728 2208h0M1887 2192h0M1593 2190h0M1881 2188h0M1638 2199h0M1876 2187h0M1708 2207h0M1751 2206h0M1715 2207h0M1715 2206h0M1873 2195h0M1672 2193h0M1850 2190h0M1889 2188h0M1799 2201h0M1823 2189h0M1775 2206h0M1882 2184h0M1818 2197h0M1879 2190h0M1611 2196h0M1813 2201h0M1709 2205h0M1848 2197h0M1622 2186h0M1658 2196h0M1882 2184h0M1747 2209h0M1780 2203h0M1862 2193h0M1590 2189h0M1911 2183h0M1797 2198h0M1563 2190h0M1552 2188h0M1891 2192h0M1692 2204h0M1817 2200h0M1830 2200h0M1898 2188h0M1763 2207h0M1605 2186h0M1750 2208h0M1856 2194h0M1815 2188h0M1631 2195h0M1890 2186h0M1741 2209h0M1687 2200h0M1948 2181h0M1655 2197h0M1720 2209h0M1679 2201h0M1809 2196h0M1742 2209h0M1624 2189h0M1891 2190h0M1662 2199h0M1967 2174h0M1862 2195h0M1641 2198h0M1618 2191h0M1632 2194h0M1874 2193h0M1860 2195h0M1668 2199h0M1904 2186h0M1706 2208h0M1618 2194h0M1740 2209h0M1832 2199h0M1623 2193h0M1611 2192h0M1717 2207h0M1771 2206h0M1957 2183h0M1779 2202h0M1853 2183h0M1722 2205h0M1650 2197h0M1600 2196h0M1598 2186h0M1744 2207h0M1998 2167h0M1603 2183h0M1704 2207h0M1660 2202h0M1588 2181h0M1877 2192h0M1812 2193h0M1775 2204h0M1743 2208h0M1817 2193h0M1841 2190h0M1797 2195h0M1862 2187h0M1743 2209h0M1702 2203h0M1671 2204h0M1829 2195h0M1736 2209h0M1684 2200h0M1607 2194h0M1868 2186h0M1862 2185h0M1913 2188h0M1791 2204h0M1816 2194h0M1816 2190h0M1735 2210h0M1638 2201h0M1885 2184h0M1783 2202h0M1909 2187h0M1651 2191h0M1843 2189h0M1810 2193h0M1736 2207h0M1688 2205h0M1579 2191h0M1783 2201h0M1654 2198h0M1850 2197h0M1861 2185h0M1616 2193h0M1621 2197h0M1881 2192h0M1700 2204h0M1893 2190h0M1808 2199h0M1560 2189h0M1890 2179h0M1498 2178h0M1929 2183h0M1732 2208h0M1708 2206h0M1608 2188h0M1883 2187h0M1804 2197h0M1728 2208h0M1691 2205h0M1710 2206h0M1686 2201h0M1656 2194h0M2016.9 2114.2h0M1952.7 2130.0h0M1452.7 2138.8h0M1452.7 2148.4h0M1458.0 2153.0h0M1452.7 2162.6h0M1473.4 2164.2h0M1500.3 2153.0h0M1500.3 2164.9h0M1511.9 2162.6h0M1505.7 2177.2h0M1503.0 2182.2h0M1506.9 2188.0h0M1522.2 2176.1h0M1528.0 2179.2h0M1534.5 2184.9h0M1541.5 2176.5h0M1551.1 2165.7h0M1634.9 2167.6h0M1579.9 2172.6h0M2016.9 2146.5h0M2016.9 2150.3h0M2016.9 2163.8h0M2004.6 2170.3h0M1993.9 2152.3h0M1981.6 2158.0h0M1962.4 2142.6h0M1970.0 2146.5h0M1976.6 2144.6h0M1947.8 2149.2h0M1941.2 2154.2h0M1918.2 2154.2h0M1900.9 2152.3h0M1904.7 2158.0h0M1890.1 2162.6h0M1875.9 2158.8h0M1854.7 2169.6h0M1958.5 2180.3h0M1970.0 2181.1h0M1973.9 2177.2h0M1958.5 2168.8h0M1970.0 2168.8h0M1945.1 2177.2h0M1932.4 2167.6h0" fill="none" stroke="#F57DB6" stroke-width="12.7" stroke-linecap="round"/>
<path d="M1424.2 2130.0h620.8M1796.3 1943.85v278.7" stroke="#000" stroke-width="5.5" fill="none"/>
<rect x="1425.55" y="1945.20" width="618.10" height="276.00" fill="none" stroke="#303030" stroke-width="2.9"/>
</g>
<text x="1734.6" y="1920.9" font-size="39.6" text-anchor="middle" fill="#1a1a1a" stroke="#1a1a1a" stroke-width=".45">IL6</text>
<path d="M1452.4 2222.5499999999997v12.3M1593.5 2222.5499999999997v12.3M1734.6 2222.5499999999997v12.3M1875.7 2222.5499999999997v12.3M2016.8 2222.5499999999997v12.3" stroke="#333" stroke-width="4.6" fill="none"/>
<text x="1452.4" y="2272.5" font-size="39.6" text-anchor="middle" fill="#000" stroke="#000" stroke-width=".45">-1.0</text>
<text x="1593.5" y="2272.5" font-size="39.6" text-anchor="middle" fill="#000" stroke="#000" stroke-width=".45">-0.5</text>
<text x="1734.6" y="2272.5" font-size="39.6" text-anchor="middle" fill="#000" stroke="#000" stroke-width=".45">0.0</text>
<text x="1875.7" y="2272.5" font-size="39.6" text-anchor="middle" fill="#000" stroke="#000" stroke-width=".45">0.5</text>
<text x="2016.8" y="2272.5" font-size="39.6" text-anchor="middle" fill="#000" stroke="#000" stroke-width=".45">1.0</text>
<g clip-path="url(#c18)">
<path d="M636 2531h0M640 2561h0M414 2586h0M387 2584h0M506 2576h0M288 2561h0M549 2566h0M635 2565h0M475 2585h0M613 2546h0M314 2568h0M588 2561h0M551 2524h0M471 2585h0M488 2584h0M530 2576h0M497 2574h0M528 2568h0M595 2545h0M543 2569h0M707 2550h0M609 2558h0M511 2563h0M347 2570h0M532 2560h0M407 2582h0M507 2569h0M549 2578h0M359 2569h0M537 2559h0M428 2586h0M562 2571h0M465 2586h0M602 2559h0M603 2565h0M488 2581h0M638 2541h0M388 2583h0M577 2565h0M528 2567h0M486 2582h0M314 2569h0M619 2566h0M516 2581h0M450 2587h0M260 2563h0M409 2581h0M532 2545h0M660 2549h0M427 2586h0M354 2573h0M317 2565h0M718 2552h0M444 2588h0M632 2567h0M289 2569h0M580 2554h0M369 2575h0M463 2586h0M439 2587h0M508 2581h0M448 2587h0M598 2568h0M338 2573h0M520 2555h0M490 2575h0M467 2583h0M619 2557h0M557 2560h0M560 2573h0M400 2582h0M542 2579h0M620 2548h0M546 2560h0M579 2561h0M320 2569h0M596 2556h0M568 2525h0M299 2549h0M371 2581h0M570 2551h0M568 2526h0M585 2568h0M551 2566h0M297 2552h0M624 2561h0M537 2554h0M532 2575h0M561 2557h0M450 2586h0M487 2579h0M385 2582h0M569 2569h0M400 2583h0M546 2576h0M340 2577h0M532 2553h0M382 2580h0M491 2582h0M581 2547h0M485 2583h0M379 2581h0M419 2585h0M546 2557h0M406 2583h0M454 2586h0M414 2582h0M482 2583h0M358 2572h0M389 2580h0M496 2573h0M313 2566h0M557 2517h0M441 2587h0M566 2569h0M520 2571h0M508 2570h0M487 2579h0M694 2554h0M359 2575h0M432 2587h0M662 2542h0M268 2565h0M659 2555h0M517 2580h0M530 2573h0M696 2545h0M610 2555h0M622 2559h0M594 2564h0M506 2578h0M587 2560h0M314 2566h0M524 2569h0M605 2561h0M506 2578h0M340 2575h0M533 2562h0M556 2547h0M281 2569h0M607 2555h0M329 2574h0M548 2539h0M491 2584h0M499 2576h0M423 2584h0M481 2580h0M650 2558h0M395 2580h0M262 2562h0M518 2580h0M350 2579h0M473 2586h0M389 2579h0M671 2535h0M614 2567h0M557 2546h0M380 2580h0M691 2534h0M665 2558h0M536 2572h0M289 2561h0M681 2547h0M557 2563h0M441 2588h0M633 2563h0M231 2560h0M525 2560h0M416 2583h0M404 2582h0M452 2588h0M316 2559h0M332 2576h0M607 2555h0M564 2568h0M616 2536h0M606 2541h0M465 2584h0M335 2569h0M606 2566h0M399 2583h0M565 2569h0M549 2560h0M534 2551h0M442 2586h0M623 2566h0M557 2555h0M463 2586h0M544 2579h0M333 2576h0M571 2572h0M458 2586h0M459 2584h0M504 2577h0M392 2578h0M513 2569h0M517 2571h0M440 2585h0M484 2582h0M643 2551h0M672 2534h0M501 2582h0M599 2566h0M486 2581h0M539 2569h0M581 2572h0M415 2584h0M430 2585h0M494 2579h0M446 2588h0M483 2576h0M517 2568h0M609 2568h0M507 2568h0M533 2569h0M376 2582h0M546 2572h0M548 2561h0M699 2539h0M563 2571h0M301 2565h0M505 2579h0M357 2573h0M543 2575h0M365 2578h0M678 2553h0M505 2564h0M555 2566h0M492 2584h0M548 2577h0M394 2579h0M589 2570h0M490 2584h0M580 2548h0M454 2587h0M525 2571h0M506 2580h0M498 2580h0M342 2566h0M586 2560h0M416 2585h0M384 2582h0M462 2586h0M622 2558h0M322 2569h0M580 2569h0M491 2579h0M472 2586h0M453 2586h0M272 2565h0M529 2555h0M539 2578h0M585 2568h0M543 2562h0M510 2569h0M367 2577h0M197 2553h0M719 2551h0M423 2584h0M562 2564h0M306 2570h0M440 2586h0M363 2577h0M515 2572h0M557 2576h0M604 2568h0M346 2576h0M650 2562h0M345 2564h0M404 2585h0M455 2585h0M584 2546h0M441 2588h0M426 2584h0M570 2574h0M534 2558h0M530 2578h0M654 2558h0M675 2551h0M424 2585h0M422 2586h0M626 2563h0M457 2586h0M307 2571h0M717 2545h0M620 2567h0M546 2567h0M618 2568h0M335 2578h0M624 2541h0M472 2586h0M686 2534h0M623 2546h0M555 2573h0M506 2567h0M258 2566h0M522 2574h0M491 2583h0M412 2585h0M604 2555h0M387 2583h0M390 2584h0M319 2569h0M690 2557h0M613 2565h0M613 2553h0M512 2578h0M606 2570h0M603 2561h0M567 2568h0M434 2586h0M342 2558h0M334 2552h0M365 2571h0M467 2582h0M265 2561h0M600 2547h0M290 2567h0M548 2576h0M650 2544h0M621 2544h0M407 2581h0M535 2572h0M534 2556h0M505 2581h0M708 2548h0M273 2565h0M405 2582h0M390 2578h0M421 2581h0M509 2582h0M577 2567h0M395 2580h0M576 2539h0M576 2542h0M494 2582h0M382 2580h0M542 2546h0M506 2568h0M597 2551h0M599 2562h0M623 2560h0M534 2571h0M546 2578h0M398 2583h0M535 2563h0M636 2560h0M633 2562h0M619 2561h0M501 2580h0M500 2581h0M484 2582h0M570 2554h0M518 2579h0M473 2581h0M561 2515h0M613 2529h0M605 2544h0M678 2539h0M452 2587h0M497 2583h0M569 2549h0M370 2580h0M351 2571h0M561 2573h0M418 2586h0M422 2586h0M538 2552h0M266 2567h0M488 2583h0M453 2585h0M456 2585h0M493 2573h0M400 2582h0M571 2559h0M568 2554h0M564 2569h0M542 2561h0M313 2573h0M448 2585h0M538 2577h0M378 2581h0M286 2561h0M539 2563h0M554 2544h0M562 2532h0M557 2571h0M710 2547h0M498 2563h0M328 2572h0M515 2580h0M445 2587h0M349 2573h0M666 2555h0M293 2562h0M541 2562h0M666 2553h0M551 2558h0M630 2557h0M421 2583h0M364 2575h0M667 2533h0M585 2566h0M441 2588h0M481 2585h0M440 2586h0M643 2508h0M366 2574h0M687 2543h0M588 2544h0M503 2581h0M566 2527h0M577 2534h0M642 2556h0M521 2562h0M364 2565h0M435 2588h0M391 2577h0M666 2555h0M410 2585h0M489 2582h0M452 2588h0M522 2551h0M380 2583h0M505 2561h0M407 2585h0M608 2567h0M519 2561h0M684 2544h0M508 2573h0M621 2563h0M525 2577h0M612 2546h0M564 2571h0M641 2511h0M546 2574h0M437 2587h0M637 2546h0M546 2549h0M595 2535h0M463 2585h0M639 2561h0M469 2584h0M498 2574h0M351 2574h0M498 2579h0M533 2570h0M622 2555h0M609 2564h0M415 2580h0M443 2588h0M623 2564h0M614 2558h0M515 2563h0M526 2568h0M494 2580h0M577 2570h0M322 2574h0M480 2579h0M575 2548h0M342 2562h0M615 2562h0M449 2587h0M551 2536h0M423 2582h0M502 2582h0M711 2530h0M474 2584h0M530 2563h0M466 2585h0M547 2557h0M482 2585h0M470 2583h0M521 2581h0M272 2563h0M609 2551h0M622 2541h0M445 2587h0M549 2557h0M496 2583h0M493 2573h0M531 2579h0M527 2580h0M359 2573h0M538 2559h0M452 2587h0M359 2576h0M347 2577h0M568 2569h0M550 2574h0M326 2575h0M489 2579h0M565 2571h0M538 2575h0M581 2567h0M598 2562h0M577 2563h0M453 2585h0M527 2573h0M566 2545h0M407 2579h0M715 2552h0M604 2554h0M284 2568h0M531 2572h0M591 2544h0M355 2579h0M357 2579h0M597 2561h0M399 2581h0M584 2565h0M415 2586h0M560 2576h0M501 2579h0M465 2582h0M575 2569h0M542 2545h0M393 2584h0M369 2579h0M475 2583h0M470 2585h0M564 2554h0M503 2570h0M524 2562h0M540 2572h0M522 2578h0M565 2555h0M505 2579h0M432 2584h0M633 2543h0M515 2567h0M363 2570h0M660 2559h0M624 2540h0M541 2566h0M468 2584h0M426 2584h0M311 2559h0M552 2571h0M581 2566h0M516 2578h0M401 2581h0M382 2571h0M513 2577h0M645 2539h0M693 2535h0M497 2582h0M390 2580h0M298 2568h0M604 2564h0M487 2585h0M491 2575h0M612 2560h0M489 2583h0M205 2555h0M352 2570h0M400 2584h0M405 2583h0M618 2553h0M548 2561h0M423 2583h0M434 2586h0M434 2585h0M393 2579h0M420 2581h0M513 2581h0M651 2564h0M466 2583h0M391 2578h0M510 2572h0M588 2541h0M625 2546h0M291 2567h0M662 2539h0M575 2570h0M381 2572h0M587 2545h0M499 2583h0M450 2584h0M291 2564h0M461 2585h0M451 2588h0M517 2573h0M390 2580h0M488 2584h0M378 2582h0M454 2586h0M316 2572h0M513 2578h0M463 2585h0M486 2581h0M516 2571h0M364 2576h0M605 2545h0M463 2583h0M409 2583h0M570 2547h0M350 2578h0M545 2573h0M641 2561h0M570 2563h0M554 2562h0M486 2583h0M560 2567h0M454 2584h0M459 2586h0M238 2561h0M488 2578h0M629 2522h0M464 2585h0M572 2569h0M372 2582h0M454 2585h0M345 2572h0M571 2574h0M429 2585h0M473 2583h0M360 2573h0M480 2584h0M546 2565h0M327 2563h0M390 2582h0M449 2587h0M509 2567h0M637 2559h0M520 2581h0M507 2580h0M418 2584h0M337 2560h0M615 2556h0M259 2567h0M410 2585h0M466 2584h0M485 2578h0M649 2549h0M558 2573h0M599 2562h0M315 2567h0M559 2561h0M688 2534h0M574 2568h0M247 2563h0M365 2575h0M643 2534h0M331 2566h0M497 2579h0M389 2584h0M324 2570h0M695 2547h0M591 2539h0M620 2565h0M624 2564h0M326 2548h0M601 2534h0M610 2538h0M591 2561h0M488 2580h0M526 2579h0M396 2579h0M307 2572h0M599 2570h0M321 2575h0M452 2582h0M371 2573h0M469 2586h0M715 2530h0M531 2566h0M412 2584h0M624 2528h0M657 2553h0M495 2576h0M366 2574h0M472 2583h0M697 2539h0M236 2560h0M506 2573h0M620 2549h0M554 2562h0M573 2568h0M462 2583h0M450 2586h0M581 2559h0M419 2585h0M556 2555h0M329 2566h0M574 2569h0M547 2574h0M389 2576h0M619 2547h0M555 2573h0M652 2538h0M516 2574h0M670 2549h0M442 2587h0M385 2580h0M328 2562h0M474 2586h0M535 2574h0M552 2567h0M383 2577h0M374 2579h0M472 2584h0M315 2571h0M428 2586h0M493 2583h0M544 2571h0M578 2574h0M432 2586h0M644 2558h0M284 2560h0M619 2561h0M414 2583h0M513 2575h0M297 2570h0M587 2507h0M398 2577h0M408 2583h0M433 2584h0M618 2562h0M517 2557h0M537 2577h0M635 2528h0M487 2579h0M422 2584h0M578 2569h0M542 2579h0M571 2570h0M291 2550h0M257 2566h0M633 2498h0M346 2568h0M456 2585h0M498 2583h0M434 2587h0M372 2575h0M552 2553h0M677 2549h0M580 2570h0M305 2570h0M625 2532h0M602 2534h0M466 2585h0M523 2572h0M418 2585h0M397 2574h0M524 2565h0M616 2567h0M410 2580h0M333 2571h0M553 2566h0M603 2534h0M676 2555h0M588 2543h0M337 2570h0M627 2551h0M609 2542h0M525 2559h0M706 2550h0M328 2572h0M375 2577h0M446 2588h0M547 2559h0M559 2565h0M367 2581h0M417 2583h0M326 2575h0M549 2573h0M344 2569h0M268 2562h0M536 2571h0M325 2570h0M342 2575h0M285 2564h0M656 2558h0M571 2559h0M547 2559h0M570 2563h0M630 2555h0M611 2565h0M573 2569h0M727 2526h0M727 2523h0M727 2547h0M727 2543h0M727 2537h0M727 2539h0M727 2525h0M727 2534h0M659.7 2469.1h0M575.5 2473.8h0M653.5 2478.4h0M609.3 2480.3h0M605.5 2486.1h0M600.5 2491.8h0M702.7 2482.2h0M631.6 2488.0h0M635.1 2493.0h0M591.3 2502.2h0M711.2 2498.4h0M700.4 2503.3h0M545.9 2513.0h0M721.9 2506.0h0M726.6 2513.0h0M623.5 2512.2h0M605.5 2517.6h0M641.2 2516.0h0M669.7 2512.2h0M681.2 2514.9h0M514.0 2524.5h0M559.4 2524.5h0M567.0 2526.4h0M592.0 2525.3h0M652.8 2522.6h0M667.0 2519.9h0M696.6 2525.3h0M162.3 2502.6h0M162.3 2512.2h0M171.1 2519.9h0M198.0 2523.3h0M256.8 2519.1h0M282.6 2521.4h0M286.4 2521.4h0M296.1 2529.5h0M235.7 2526.4h0M272.2 2534.9h0M205.7 2537.9h0M211.5 2548.3h0M221.1 2553.3h0M226.9 2558.3h0M224.2 2545.6h0M239.2 2539.9h0M246.1 2536.8h0M259.5 2547.6h0M265.3 2541.8h0M286.4 2545.6h0M263.4 2566.8h0M346.0 2557.2h0M354.9 2557.9h0M378.7 2566.8h0M392.9 2566.0h0M326.8 2559.9h0M704.3 2560.2h0M725.8 2550.2h0M722.7 2543.7h0M686.2 2551.4h0M693.9 2549.5h0M701.6 2547.6h0M667.0 2555.2h0" fill="none" stroke="#F57DB6" stroke-width="12.7" stroke-linecap="round"/>
<path d="M134.2 2534.5h620.8M486.3 2322.18v278.7" stroke="#000" stroke-width="5.5" fill="none"/>
<rect x="135.55" y="2323.53" width="618.10" height="276.00" fill="none" stroke="#303030" stroke-width="2.9"/>
</g>
<text x="444.6" y="2299.3" font-size="39.6" text-anchor="middle" fill="#1a1a1a" stroke="#1a1a1a" stroke-width=".45">CRP</text>
<path d="M121.9 2588.4H134.2M121.9 2524.5H134.2M121.9 2460.5H134.2M121.9 2396.5H134.2M121.9 2332.6H134.2" stroke="#333" stroke-width="4.6" fill="none"/>
<text x="112.3" y="2601.9" font-size="39.6" text-anchor="end" fill="#000" stroke="#000" stroke-width=".45">0</text>
<text x="112.3" y="2538.0" font-size="39.6" text-anchor="end" fill="#000" stroke="#000" stroke-width=".45">3</text>
<text x="112.3" y="2474.0" font-size="39.6" text-anchor="end" fill="#000" stroke="#000" stroke-width=".45">6</text>
<text x="112.3" y="2410.0" font-size="39.6" text-anchor="end" fill="#000" stroke="#000" stroke-width=".45">9</text>
<text x="112.3" y="2346.1" font-size="39.6" text-anchor="end" fill="#000" stroke="#000" stroke-width=".45">12</text>
<path d="M162.4 2600.8799999999997v12.3M303.5 2600.8799999999997v12.3M444.6 2600.8799999999997v12.3M585.7 2600.8799999999997v12.3M726.8 2600.8799999999997v12.3" stroke="#333" stroke-width="4.6" fill="none"/>
<text x="162.4" y="2650.9" font-size="39.6" text-anchor="middle" fill="#000" stroke="#000" stroke-width=".45">-1.0</text>
<text x="303.5" y="2650.9" font-size="39.6" text-anchor="middle" fill="#000" stroke="#000" stroke-width=".45">-0.5</text>
<text x="444.6" y="2650.9" font-size="39.6" text-anchor="middle" fill="#000" stroke="#000" stroke-width=".45">0.0</text>
<text x="585.7" y="2650.9" font-size="39.6" text-anchor="middle" fill="#000" stroke="#000" stroke-width=".45">0.5</text>
<text x="726.8" y="2650.9" font-size="39.6" text-anchor="middle" fill="#000" stroke="#000" stroke-width=".45">1.0</text>
<text x="1089.5" y="2706" font-size="49.5" text-anchor="middle" fill="#000" stroke="#000" stroke-width=".5">Local genetic correlation</text>
<g transform="translate(35.6 1411) rotate(-90)"><text font-size="49.5" fill="#000" stroke="#000" stroke-width=".5"><tspan x="0" y="2.6" stroke-width="0">−</tspan><tspan x="40" y="0">log</tspan><tspan font-size="34.6" dy="8.5">10</tspan><tspan dy="-8.5">P</tspan></text></g>
<circle cx="1481.9" cy="2381.5" r="14" fill="#C9BCE4"/>
<text x="1540.3" y="2395.7" font-size="39.6" fill="#000" stroke="#000" stroke-width=".45">Blood pressure</text>
<circle cx="1481.9" cy="2451.4" r="14" fill="#DE743C"/>
<text x="1540.3" y="2465.6" font-size="39.6" fill="#000" stroke="#000" stroke-width=".45">Psychosocial</text>
<circle cx="1481.9" cy="2521.3" r="14" fill="#EFE550"/>
<text x="1540.3" y="2535.5" font-size="39.6" fill="#000" stroke="#000" stroke-width=".45">Childhood maltreatment</text>
<circle cx="1481.9" cy="2591.2" r="14" fill="#5B87CF"/>
<text x="1540.3" y="2605.4" font-size="39.6" fill="#000" stroke="#000" stroke-width=".45">Metabolic</text>
<circle cx="1481.9" cy="2661.1" r="14" fill="#F57DB6"/>
<text x="1540.3" y="2675.3" font-size="39.6" fill="#000" stroke="#000" stroke-width=".45">Inflammation</text>
</svg>
</body></html>
